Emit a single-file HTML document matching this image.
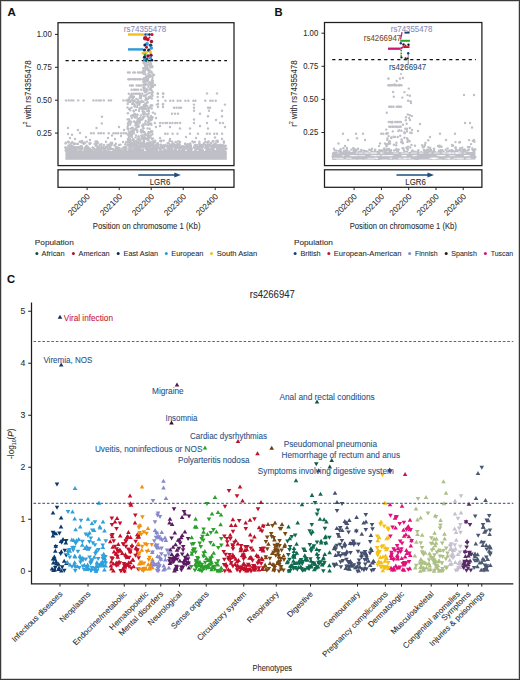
<!DOCTYPE html>
<html><head><meta charset="utf-8"><style>
html,body{margin:0;padding:0;background:#fff;}
svg{display:block;}
text{font-family:"Liberation Sans", sans-serif; stroke-width:0.08px;}
</style></head><body>
<svg width="520" height="680" viewBox="0 0 520 680" font-family="'Liberation Sans', sans-serif"><rect x="0" y="0" width="520" height="680" fill="#fff"/>
<text x="7.40" y="16.40" font-size="11.5" fill="#111" stroke="#111" font-weight="bold">A</text>
<text x="274.60" y="16.40" font-size="11.2" fill="#111" stroke="#111" font-weight="bold">B</text>
<text x="7.00" y="283.20" font-size="11.2" fill="#111" stroke="#111" font-weight="bold">C</text>
<rect x="65.4" y="151.0" width="161.4" height="8.8" fill="#bfbfc7"/>
<circle cx="85.4" cy="147.3" r="1.2" fill="#bfbfc7"/>
<circle cx="105.5" cy="146.9" r="1.2" fill="#bfbfc7"/>
<circle cx="98.5" cy="148.3" r="1.2" fill="#bfbfc7"/>
<circle cx="69.1" cy="149.0" r="1.2" fill="#bfbfc7"/>
<circle cx="67.8" cy="148.7" r="1.2" fill="#bfbfc7"/>
<circle cx="69.8" cy="147.0" r="1.2" fill="#bfbfc7"/>
<circle cx="91.6" cy="150.6" r="1.2" fill="#bfbfc7"/>
<circle cx="73.1" cy="147.6" r="1.2" fill="#bfbfc7"/>
<circle cx="104.1" cy="151.2" r="1.2" fill="#bfbfc7"/>
<circle cx="101.0" cy="148.5" r="1.2" fill="#bfbfc7"/>
<circle cx="125.5" cy="146.7" r="1.2" fill="#bfbfc7"/>
<circle cx="118.3" cy="147.9" r="1.2" fill="#bfbfc7"/>
<circle cx="74.4" cy="147.1" r="1.2" fill="#bfbfc7"/>
<circle cx="84.5" cy="150.6" r="1.2" fill="#bfbfc7"/>
<circle cx="76.6" cy="149.4" r="1.2" fill="#bfbfc7"/>
<circle cx="104.8" cy="148.4" r="1.2" fill="#bfbfc7"/>
<circle cx="99.2" cy="146.8" r="1.2" fill="#bfbfc7"/>
<circle cx="69.2" cy="147.5" r="1.2" fill="#bfbfc7"/>
<circle cx="107.3" cy="148.6" r="1.2" fill="#bfbfc7"/>
<circle cx="84.8" cy="149.4" r="1.2" fill="#bfbfc7"/>
<circle cx="93.4" cy="148.0" r="1.2" fill="#bfbfc7"/>
<circle cx="114.4" cy="150.0" r="1.2" fill="#bfbfc7"/>
<circle cx="80.5" cy="149.4" r="1.2" fill="#bfbfc7"/>
<circle cx="97.8" cy="150.9" r="1.2" fill="#bfbfc7"/>
<circle cx="110.4" cy="147.9" r="1.2" fill="#bfbfc7"/>
<circle cx="125.8" cy="147.1" r="1.2" fill="#bfbfc7"/>
<circle cx="91.2" cy="150.3" r="1.2" fill="#bfbfc7"/>
<circle cx="74.8" cy="148.9" r="1.2" fill="#bfbfc7"/>
<circle cx="67.9" cy="149.8" r="1.2" fill="#bfbfc7"/>
<circle cx="112.5" cy="149.4" r="1.2" fill="#bfbfc7"/>
<circle cx="119.3" cy="148.1" r="1.2" fill="#bfbfc7"/>
<circle cx="108.3" cy="149.5" r="1.2" fill="#bfbfc7"/>
<circle cx="101.2" cy="148.8" r="1.2" fill="#bfbfc7"/>
<circle cx="117.2" cy="151.2" r="1.2" fill="#bfbfc7"/>
<circle cx="94.7" cy="149.8" r="1.2" fill="#bfbfc7"/>
<circle cx="69.2" cy="150.0" r="1.2" fill="#bfbfc7"/>
<circle cx="105.3" cy="151.5" r="1.2" fill="#bfbfc7"/>
<circle cx="116.0" cy="147.9" r="1.2" fill="#bfbfc7"/>
<circle cx="89.2" cy="149.8" r="1.2" fill="#bfbfc7"/>
<circle cx="66.9" cy="148.8" r="1.2" fill="#bfbfc7"/>
<circle cx="75.8" cy="147.1" r="1.2" fill="#bfbfc7"/>
<circle cx="69.1" cy="150.3" r="1.2" fill="#bfbfc7"/>
<circle cx="73.5" cy="147.7" r="1.2" fill="#bfbfc7"/>
<circle cx="89.5" cy="150.9" r="1.2" fill="#bfbfc7"/>
<circle cx="70.5" cy="148.7" r="1.2" fill="#bfbfc7"/>
<circle cx="99.3" cy="150.9" r="1.2" fill="#bfbfc7"/>
<circle cx="115.9" cy="150.8" r="1.2" fill="#bfbfc7"/>
<circle cx="82.6" cy="148.6" r="1.2" fill="#bfbfc7"/>
<circle cx="87.6" cy="150.9" r="1.2" fill="#bfbfc7"/>
<circle cx="124.4" cy="147.3" r="1.2" fill="#bfbfc7"/>
<circle cx="76.3" cy="147.7" r="1.2" fill="#bfbfc7"/>
<circle cx="79.9" cy="148.9" r="1.2" fill="#bfbfc7"/>
<circle cx="101.7" cy="147.8" r="1.2" fill="#bfbfc7"/>
<circle cx="65.8" cy="148.6" r="1.2" fill="#bfbfc7"/>
<circle cx="88.2" cy="149.3" r="1.2" fill="#bfbfc7"/>
<circle cx="124.1" cy="150.0" r="1.2" fill="#bfbfc7"/>
<circle cx="97.2" cy="149.6" r="1.2" fill="#bfbfc7"/>
<circle cx="107.1" cy="146.8" r="1.2" fill="#bfbfc7"/>
<circle cx="120.8" cy="150.4" r="1.2" fill="#bfbfc7"/>
<circle cx="119.3" cy="150.5" r="1.2" fill="#bfbfc7"/>
<circle cx="89.6" cy="148.5" r="1.2" fill="#bfbfc7"/>
<circle cx="71.9" cy="149.7" r="1.2" fill="#bfbfc7"/>
<circle cx="69.3" cy="146.8" r="1.2" fill="#bfbfc7"/>
<circle cx="78.3" cy="147.3" r="1.2" fill="#bfbfc7"/>
<circle cx="86.4" cy="146.8" r="1.2" fill="#bfbfc7"/>
<circle cx="65.5" cy="147.3" r="1.2" fill="#bfbfc7"/>
<circle cx="71.7" cy="148.3" r="1.2" fill="#bfbfc7"/>
<circle cx="67.1" cy="150.9" r="1.2" fill="#bfbfc7"/>
<circle cx="103.3" cy="147.2" r="1.2" fill="#bfbfc7"/>
<circle cx="81.0" cy="148.2" r="1.2" fill="#bfbfc7"/>
<circle cx="87.9" cy="147.1" r="1.2" fill="#bfbfc7"/>
<circle cx="117.7" cy="151.5" r="1.2" fill="#bfbfc7"/>
<circle cx="94.2" cy="148.9" r="1.2" fill="#bfbfc7"/>
<circle cx="70.8" cy="147.0" r="1.2" fill="#bfbfc7"/>
<circle cx="86.6" cy="147.8" r="1.2" fill="#bfbfc7"/>
<circle cx="116.5" cy="147.3" r="1.2" fill="#bfbfc7"/>
<circle cx="66.9" cy="151.3" r="1.2" fill="#bfbfc7"/>
<circle cx="98.0" cy="147.2" r="1.2" fill="#bfbfc7"/>
<circle cx="98.9" cy="146.6" r="1.2" fill="#bfbfc7"/>
<circle cx="98.0" cy="151.4" r="1.2" fill="#bfbfc7"/>
<circle cx="118.6" cy="150.0" r="1.2" fill="#bfbfc7"/>
<circle cx="81.6" cy="148.3" r="1.2" fill="#bfbfc7"/>
<circle cx="75.8" cy="150.4" r="1.2" fill="#bfbfc7"/>
<circle cx="98.3" cy="150.4" r="1.2" fill="#bfbfc7"/>
<circle cx="85.8" cy="147.6" r="1.2" fill="#bfbfc7"/>
<circle cx="115.4" cy="151.4" r="1.2" fill="#bfbfc7"/>
<circle cx="117.9" cy="150.5" r="1.2" fill="#bfbfc7"/>
<circle cx="115.8" cy="150.2" r="1.2" fill="#bfbfc7"/>
<circle cx="79.4" cy="149.1" r="1.2" fill="#bfbfc7"/>
<circle cx="87.4" cy="146.6" r="1.2" fill="#bfbfc7"/>
<circle cx="67.2" cy="147.9" r="1.2" fill="#bfbfc7"/>
<circle cx="81.4" cy="150.0" r="1.2" fill="#bfbfc7"/>
<circle cx="124.3" cy="148.7" r="1.2" fill="#bfbfc7"/>
<circle cx="123.1" cy="151.4" r="1.2" fill="#bfbfc7"/>
<circle cx="124.2" cy="148.3" r="1.2" fill="#bfbfc7"/>
<circle cx="79.1" cy="147.6" r="1.2" fill="#bfbfc7"/>
<circle cx="77.6" cy="147.5" r="1.2" fill="#bfbfc7"/>
<circle cx="103.9" cy="151.0" r="1.2" fill="#bfbfc7"/>
<circle cx="117.2" cy="148.9" r="1.2" fill="#bfbfc7"/>
<circle cx="105.7" cy="150.5" r="1.2" fill="#bfbfc7"/>
<circle cx="70.7" cy="149.8" r="1.2" fill="#bfbfc7"/>
<circle cx="121.5" cy="150.4" r="1.2" fill="#bfbfc7"/>
<circle cx="111.6" cy="148.9" r="1.2" fill="#bfbfc7"/>
<circle cx="76.5" cy="150.4" r="1.2" fill="#bfbfc7"/>
<circle cx="85.9" cy="150.5" r="1.2" fill="#bfbfc7"/>
<circle cx="125.3" cy="148.5" r="1.2" fill="#bfbfc7"/>
<circle cx="90.2" cy="151.2" r="1.2" fill="#bfbfc7"/>
<circle cx="110.1" cy="147.4" r="1.2" fill="#bfbfc7"/>
<circle cx="73.3" cy="147.3" r="1.2" fill="#bfbfc7"/>
<circle cx="121.1" cy="150.5" r="1.2" fill="#bfbfc7"/>
<circle cx="74.5" cy="150.6" r="1.2" fill="#bfbfc7"/>
<circle cx="125.8" cy="149.8" r="1.2" fill="#bfbfc7"/>
<circle cx="87.1" cy="149.2" r="1.2" fill="#bfbfc7"/>
<circle cx="73.6" cy="146.6" r="1.2" fill="#bfbfc7"/>
<circle cx="125.2" cy="149.7" r="1.2" fill="#bfbfc7"/>
<circle cx="97.9" cy="151.2" r="1.2" fill="#bfbfc7"/>
<circle cx="92.2" cy="150.9" r="1.2" fill="#bfbfc7"/>
<circle cx="116.3" cy="147.6" r="1.2" fill="#bfbfc7"/>
<circle cx="81.0" cy="148.0" r="1.2" fill="#bfbfc7"/>
<circle cx="80.3" cy="149.4" r="1.2" fill="#bfbfc7"/>
<circle cx="81.5" cy="148.6" r="1.2" fill="#bfbfc7"/>
<circle cx="73.6" cy="151.1" r="1.2" fill="#bfbfc7"/>
<circle cx="87.3" cy="148.8" r="1.2" fill="#bfbfc7"/>
<circle cx="101.4" cy="151.0" r="1.2" fill="#bfbfc7"/>
<circle cx="91.4" cy="151.1" r="1.2" fill="#bfbfc7"/>
<circle cx="96.4" cy="149.2" r="1.2" fill="#bfbfc7"/>
<circle cx="97.7" cy="146.6" r="1.2" fill="#bfbfc7"/>
<circle cx="92.6" cy="147.4" r="1.2" fill="#bfbfc7"/>
<circle cx="65.7" cy="150.5" r="1.2" fill="#bfbfc7"/>
<circle cx="76.1" cy="148.9" r="1.2" fill="#bfbfc7"/>
<circle cx="110.1" cy="149.3" r="1.2" fill="#bfbfc7"/>
<circle cx="85.5" cy="149.1" r="1.2" fill="#bfbfc7"/>
<circle cx="99.7" cy="150.4" r="1.2" fill="#bfbfc7"/>
<circle cx="72.0" cy="149.3" r="1.2" fill="#bfbfc7"/>
<circle cx="80.8" cy="147.9" r="1.2" fill="#bfbfc7"/>
<circle cx="113.0" cy="149.0" r="1.2" fill="#bfbfc7"/>
<circle cx="100.0" cy="150.3" r="1.2" fill="#bfbfc7"/>
<circle cx="121.6" cy="148.7" r="1.2" fill="#bfbfc7"/>
<circle cx="103.2" cy="149.0" r="1.2" fill="#bfbfc7"/>
<circle cx="97.0" cy="150.0" r="1.2" fill="#bfbfc7"/>
<circle cx="93.3" cy="149.2" r="1.2" fill="#bfbfc7"/>
<circle cx="94.9" cy="151.2" r="1.2" fill="#bfbfc7"/>
<circle cx="108.5" cy="150.9" r="1.2" fill="#bfbfc7"/>
<circle cx="123.4" cy="147.8" r="1.2" fill="#bfbfc7"/>
<circle cx="99.9" cy="151.2" r="1.2" fill="#bfbfc7"/>
<circle cx="117.2" cy="147.2" r="1.2" fill="#bfbfc7"/>
<circle cx="73.0" cy="148.7" r="1.2" fill="#bfbfc7"/>
<circle cx="70.0" cy="147.7" r="1.2" fill="#bfbfc7"/>
<circle cx="70.0" cy="149.8" r="1.2" fill="#bfbfc7"/>
<circle cx="113.7" cy="151.0" r="1.2" fill="#bfbfc7"/>
<circle cx="75.0" cy="150.1" r="1.2" fill="#bfbfc7"/>
<circle cx="106.1" cy="147.2" r="1.2" fill="#bfbfc7"/>
<circle cx="119.8" cy="151.3" r="1.2" fill="#bfbfc7"/>
<circle cx="79.0" cy="151.3" r="1.2" fill="#bfbfc7"/>
<circle cx="90.0" cy="148.9" r="1.2" fill="#bfbfc7"/>
<circle cx="126.4" cy="150.7" r="1.2" fill="#bfbfc7"/>
<circle cx="75.4" cy="148.7" r="1.2" fill="#bfbfc7"/>
<circle cx="97.2" cy="148.2" r="1.2" fill="#bfbfc7"/>
<circle cx="77.5" cy="148.1" r="1.2" fill="#bfbfc7"/>
<circle cx="109.9" cy="146.6" r="1.2" fill="#bfbfc7"/>
<circle cx="99.6" cy="148.7" r="1.2" fill="#bfbfc7"/>
<circle cx="66.6" cy="148.2" r="1.2" fill="#bfbfc7"/>
<circle cx="103.9" cy="149.1" r="1.2" fill="#bfbfc7"/>
<circle cx="69.5" cy="151.4" r="1.2" fill="#bfbfc7"/>
<circle cx="114.0" cy="151.4" r="1.2" fill="#bfbfc7"/>
<circle cx="71.9" cy="147.8" r="1.2" fill="#bfbfc7"/>
<circle cx="67.9" cy="150.4" r="1.2" fill="#bfbfc7"/>
<circle cx="82.1" cy="147.1" r="1.2" fill="#bfbfc7"/>
<circle cx="91.5" cy="151.1" r="1.2" fill="#bfbfc7"/>
<circle cx="115.9" cy="147.8" r="1.2" fill="#bfbfc7"/>
<circle cx="74.7" cy="151.1" r="1.2" fill="#bfbfc7"/>
<circle cx="100.6" cy="150.0" r="1.2" fill="#bfbfc7"/>
<circle cx="71.0" cy="146.8" r="1.2" fill="#bfbfc7"/>
<circle cx="107.8" cy="148.6" r="1.2" fill="#bfbfc7"/>
<circle cx="70.0" cy="151.2" r="1.2" fill="#bfbfc7"/>
<circle cx="104.5" cy="150.5" r="1.2" fill="#bfbfc7"/>
<circle cx="70.7" cy="150.8" r="1.2" fill="#bfbfc7"/>
<circle cx="69.6" cy="150.8" r="1.2" fill="#bfbfc7"/>
<circle cx="93.4" cy="148.2" r="1.2" fill="#bfbfc7"/>
<circle cx="99.5" cy="151.1" r="1.2" fill="#bfbfc7"/>
<circle cx="82.0" cy="142.1" r="1.2" fill="#bfbfc7"/>
<circle cx="97.9" cy="142.7" r="1.2" fill="#bfbfc7"/>
<circle cx="72.2" cy="142.3" r="1.2" fill="#bfbfc7"/>
<circle cx="68.6" cy="142.5" r="1.2" fill="#bfbfc7"/>
<circle cx="84.7" cy="143.0" r="1.2" fill="#bfbfc7"/>
<circle cx="112.2" cy="142.9" r="1.2" fill="#bfbfc7"/>
<circle cx="96.3" cy="142.4" r="1.2" fill="#bfbfc7"/>
<circle cx="86.8" cy="141.6" r="1.2" fill="#bfbfc7"/>
<circle cx="80.9" cy="141.6" r="1.2" fill="#bfbfc7"/>
<circle cx="110.6" cy="144.3" r="1.2" fill="#bfbfc7"/>
<circle cx="77.2" cy="143.9" r="1.2" fill="#bfbfc7"/>
<circle cx="123.0" cy="142.0" r="1.2" fill="#bfbfc7"/>
<circle cx="115.9" cy="143.7" r="1.2" fill="#bfbfc7"/>
<circle cx="95.9" cy="145.7" r="1.2" fill="#bfbfc7"/>
<circle cx="89.7" cy="144.0" r="1.2" fill="#bfbfc7"/>
<circle cx="107.8" cy="146.4" r="1.2" fill="#bfbfc7"/>
<circle cx="86.6" cy="145.7" r="1.2" fill="#bfbfc7"/>
<circle cx="109.0" cy="144.7" r="1.2" fill="#bfbfc7"/>
<circle cx="90.4" cy="143.2" r="1.2" fill="#bfbfc7"/>
<circle cx="68.8" cy="142.1" r="1.2" fill="#bfbfc7"/>
<circle cx="69.8" cy="145.2" r="1.2" fill="#bfbfc7"/>
<circle cx="81.2" cy="142.3" r="1.2" fill="#bfbfc7"/>
<circle cx="70.7" cy="145.7" r="1.2" fill="#bfbfc7"/>
<circle cx="119.0" cy="144.9" r="1.2" fill="#bfbfc7"/>
<circle cx="82.8" cy="142.7" r="1.2" fill="#bfbfc7"/>
<circle cx="83.5" cy="143.8" r="1.2" fill="#bfbfc7"/>
<circle cx="75.2" cy="143.7" r="1.2" fill="#bfbfc7"/>
<circle cx="81.7" cy="146.3" r="1.2" fill="#bfbfc7"/>
<circle cx="125.3" cy="144.2" r="1.2" fill="#bfbfc7"/>
<circle cx="80.5" cy="146.3" r="1.2" fill="#bfbfc7"/>
<circle cx="84.5" cy="143.3" r="1.2" fill="#bfbfc7"/>
<circle cx="65.6" cy="143.4" r="1.2" fill="#bfbfc7"/>
<circle cx="94.7" cy="144.0" r="1.2" fill="#bfbfc7"/>
<circle cx="77.9" cy="144.0" r="1.2" fill="#bfbfc7"/>
<circle cx="65.8" cy="142.8" r="1.2" fill="#bfbfc7"/>
<circle cx="71.0" cy="143.5" r="1.2" fill="#bfbfc7"/>
<circle cx="68.1" cy="141.6" r="1.2" fill="#bfbfc7"/>
<circle cx="84.2" cy="142.7" r="1.2" fill="#bfbfc7"/>
<circle cx="101.5" cy="144.1" r="1.2" fill="#bfbfc7"/>
<circle cx="111.7" cy="144.8" r="1.2" fill="#bfbfc7"/>
<circle cx="109.5" cy="145.9" r="1.2" fill="#bfbfc7"/>
<circle cx="89.5" cy="143.1" r="1.2" fill="#bfbfc7"/>
<circle cx="126.1" cy="142.2" r="1.2" fill="#bfbfc7"/>
<circle cx="110.0" cy="144.7" r="1.2" fill="#bfbfc7"/>
<circle cx="68.2" cy="145.7" r="1.2" fill="#bfbfc7"/>
<circle cx="120.4" cy="144.6" r="1.2" fill="#bfbfc7"/>
<circle cx="110.6" cy="145.6" r="1.2" fill="#bfbfc7"/>
<circle cx="74.1" cy="144.1" r="1.2" fill="#bfbfc7"/>
<circle cx="96.5" cy="145.7" r="1.2" fill="#bfbfc7"/>
<circle cx="115.0" cy="145.6" r="1.2" fill="#bfbfc7"/>
<circle cx="101.4" cy="146.0" r="1.2" fill="#bfbfc7"/>
<circle cx="107.5" cy="145.0" r="1.2" fill="#bfbfc7"/>
<circle cx="79.6" cy="141.7" r="1.2" fill="#bfbfc7"/>
<circle cx="73.7" cy="143.3" r="1.2" fill="#bfbfc7"/>
<circle cx="72.0" cy="145.7" r="1.2" fill="#bfbfc7"/>
<circle cx="99.8" cy="144.6" r="1.2" fill="#bfbfc7"/>
<circle cx="104.0" cy="144.9" r="1.2" fill="#bfbfc7"/>
<circle cx="95.6" cy="141.5" r="1.2" fill="#bfbfc7"/>
<circle cx="114.6" cy="145.2" r="1.2" fill="#bfbfc7"/>
<circle cx="96.4" cy="144.2" r="1.2" fill="#bfbfc7"/>
<circle cx="106.0" cy="141.8" r="1.2" fill="#bfbfc7"/>
<circle cx="110.8" cy="142.8" r="1.2" fill="#bfbfc7"/>
<circle cx="158.5" cy="146.7" r="1.2" fill="#bfbfc7"/>
<circle cx="206.6" cy="146.3" r="1.2" fill="#bfbfc7"/>
<circle cx="207.4" cy="151.3" r="1.2" fill="#bfbfc7"/>
<circle cx="189.3" cy="147.5" r="1.2" fill="#bfbfc7"/>
<circle cx="188.2" cy="149.4" r="1.2" fill="#bfbfc7"/>
<circle cx="209.4" cy="149.0" r="1.2" fill="#bfbfc7"/>
<circle cx="200.2" cy="145.5" r="1.2" fill="#bfbfc7"/>
<circle cx="163.8" cy="146.7" r="1.2" fill="#bfbfc7"/>
<circle cx="207.6" cy="147.0" r="1.2" fill="#bfbfc7"/>
<circle cx="194.7" cy="145.1" r="1.2" fill="#bfbfc7"/>
<circle cx="157.5" cy="146.7" r="1.2" fill="#bfbfc7"/>
<circle cx="202.4" cy="149.5" r="1.2" fill="#bfbfc7"/>
<circle cx="202.7" cy="146.9" r="1.2" fill="#bfbfc7"/>
<circle cx="191.0" cy="148.0" r="1.2" fill="#bfbfc7"/>
<circle cx="187.3" cy="145.8" r="1.2" fill="#bfbfc7"/>
<circle cx="218.7" cy="146.3" r="1.2" fill="#bfbfc7"/>
<circle cx="224.9" cy="151.1" r="1.2" fill="#bfbfc7"/>
<circle cx="154.3" cy="148.0" r="1.2" fill="#bfbfc7"/>
<circle cx="213.3" cy="151.3" r="1.2" fill="#bfbfc7"/>
<circle cx="186.0" cy="146.7" r="1.2" fill="#bfbfc7"/>
<circle cx="168.4" cy="151.1" r="1.2" fill="#bfbfc7"/>
<circle cx="168.5" cy="148.8" r="1.2" fill="#bfbfc7"/>
<circle cx="163.4" cy="148.4" r="1.2" fill="#bfbfc7"/>
<circle cx="223.0" cy="145.9" r="1.2" fill="#bfbfc7"/>
<circle cx="213.3" cy="148.3" r="1.2" fill="#bfbfc7"/>
<circle cx="218.2" cy="149.6" r="1.2" fill="#bfbfc7"/>
<circle cx="170.0" cy="150.8" r="1.2" fill="#bfbfc7"/>
<circle cx="188.7" cy="145.2" r="1.2" fill="#bfbfc7"/>
<circle cx="153.3" cy="148.2" r="1.2" fill="#bfbfc7"/>
<circle cx="186.1" cy="147.0" r="1.2" fill="#bfbfc7"/>
<circle cx="163.3" cy="147.2" r="1.2" fill="#bfbfc7"/>
<circle cx="176.2" cy="150.5" r="1.2" fill="#bfbfc7"/>
<circle cx="153.1" cy="149.9" r="1.2" fill="#bfbfc7"/>
<circle cx="214.7" cy="145.8" r="1.2" fill="#bfbfc7"/>
<circle cx="221.1" cy="149.6" r="1.2" fill="#bfbfc7"/>
<circle cx="219.3" cy="146.9" r="1.2" fill="#bfbfc7"/>
<circle cx="180.4" cy="147.6" r="1.2" fill="#bfbfc7"/>
<circle cx="226.4" cy="148.8" r="1.2" fill="#bfbfc7"/>
<circle cx="179.5" cy="147.8" r="1.2" fill="#bfbfc7"/>
<circle cx="173.2" cy="145.3" r="1.2" fill="#bfbfc7"/>
<circle cx="160.5" cy="150.4" r="1.2" fill="#bfbfc7"/>
<circle cx="174.0" cy="151.1" r="1.2" fill="#bfbfc7"/>
<circle cx="171.3" cy="146.7" r="1.2" fill="#bfbfc7"/>
<circle cx="190.6" cy="146.2" r="1.2" fill="#bfbfc7"/>
<circle cx="180.4" cy="151.2" r="1.2" fill="#bfbfc7"/>
<circle cx="218.0" cy="150.3" r="1.2" fill="#bfbfc7"/>
<circle cx="199.4" cy="150.9" r="1.2" fill="#bfbfc7"/>
<circle cx="222.1" cy="148.6" r="1.2" fill="#bfbfc7"/>
<circle cx="205.9" cy="145.3" r="1.2" fill="#bfbfc7"/>
<circle cx="206.8" cy="147.9" r="1.2" fill="#bfbfc7"/>
<circle cx="208.3" cy="149.2" r="1.2" fill="#bfbfc7"/>
<circle cx="174.0" cy="145.3" r="1.2" fill="#bfbfc7"/>
<circle cx="221.1" cy="145.8" r="1.2" fill="#bfbfc7"/>
<circle cx="187.7" cy="147.2" r="1.2" fill="#bfbfc7"/>
<circle cx="174.9" cy="149.8" r="1.2" fill="#bfbfc7"/>
<circle cx="224.8" cy="146.7" r="1.2" fill="#bfbfc7"/>
<circle cx="201.2" cy="147.0" r="1.2" fill="#bfbfc7"/>
<circle cx="194.0" cy="147.6" r="1.2" fill="#bfbfc7"/>
<circle cx="165.3" cy="146.1" r="1.2" fill="#bfbfc7"/>
<circle cx="168.3" cy="150.9" r="1.2" fill="#bfbfc7"/>
<circle cx="189.5" cy="146.4" r="1.2" fill="#bfbfc7"/>
<circle cx="219.6" cy="151.5" r="1.2" fill="#bfbfc7"/>
<circle cx="186.1" cy="145.9" r="1.2" fill="#bfbfc7"/>
<circle cx="167.1" cy="145.6" r="1.2" fill="#bfbfc7"/>
<circle cx="178.1" cy="145.6" r="1.2" fill="#bfbfc7"/>
<circle cx="170.6" cy="146.7" r="1.2" fill="#bfbfc7"/>
<circle cx="194.9" cy="150.8" r="1.2" fill="#bfbfc7"/>
<circle cx="208.1" cy="147.7" r="1.2" fill="#bfbfc7"/>
<circle cx="183.4" cy="148.4" r="1.2" fill="#bfbfc7"/>
<circle cx="180.7" cy="147.2" r="1.2" fill="#bfbfc7"/>
<circle cx="157.6" cy="146.8" r="1.2" fill="#bfbfc7"/>
<circle cx="224.1" cy="145.8" r="1.2" fill="#bfbfc7"/>
<circle cx="190.0" cy="149.1" r="1.2" fill="#bfbfc7"/>
<circle cx="216.4" cy="146.4" r="1.2" fill="#bfbfc7"/>
<circle cx="172.9" cy="146.6" r="1.2" fill="#bfbfc7"/>
<circle cx="182.4" cy="147.9" r="1.2" fill="#bfbfc7"/>
<circle cx="223.1" cy="150.5" r="1.2" fill="#bfbfc7"/>
<circle cx="217.2" cy="145.1" r="1.2" fill="#bfbfc7"/>
<circle cx="155.4" cy="149.6" r="1.2" fill="#bfbfc7"/>
<circle cx="218.8" cy="148.1" r="1.2" fill="#bfbfc7"/>
<circle cx="196.2" cy="145.0" r="1.2" fill="#bfbfc7"/>
<circle cx="181.8" cy="151.0" r="1.2" fill="#bfbfc7"/>
<circle cx="213.7" cy="150.6" r="1.2" fill="#bfbfc7"/>
<circle cx="224.5" cy="146.6" r="1.2" fill="#bfbfc7"/>
<circle cx="161.0" cy="146.0" r="1.2" fill="#bfbfc7"/>
<circle cx="191.4" cy="149.4" r="1.2" fill="#bfbfc7"/>
<circle cx="222.2" cy="149.7" r="1.2" fill="#bfbfc7"/>
<circle cx="200.6" cy="150.0" r="1.2" fill="#bfbfc7"/>
<circle cx="186.6" cy="148.6" r="1.2" fill="#bfbfc7"/>
<circle cx="155.9" cy="150.1" r="1.2" fill="#bfbfc7"/>
<circle cx="170.1" cy="151.0" r="1.2" fill="#bfbfc7"/>
<circle cx="200.4" cy="147.0" r="1.2" fill="#bfbfc7"/>
<circle cx="162.4" cy="146.6" r="1.2" fill="#bfbfc7"/>
<circle cx="199.8" cy="149.5" r="1.2" fill="#bfbfc7"/>
<circle cx="161.2" cy="145.5" r="1.2" fill="#bfbfc7"/>
<circle cx="191.5" cy="148.8" r="1.2" fill="#bfbfc7"/>
<circle cx="181.5" cy="146.5" r="1.2" fill="#bfbfc7"/>
<circle cx="197.2" cy="145.1" r="1.2" fill="#bfbfc7"/>
<circle cx="175.2" cy="148.0" r="1.2" fill="#bfbfc7"/>
<circle cx="223.5" cy="149.2" r="1.2" fill="#bfbfc7"/>
<circle cx="218.0" cy="148.1" r="1.2" fill="#bfbfc7"/>
<circle cx="170.3" cy="146.6" r="1.2" fill="#bfbfc7"/>
<circle cx="223.6" cy="149.6" r="1.2" fill="#bfbfc7"/>
<circle cx="175.6" cy="145.1" r="1.2" fill="#bfbfc7"/>
<circle cx="189.6" cy="149.4" r="1.2" fill="#bfbfc7"/>
<circle cx="183.9" cy="146.7" r="1.2" fill="#bfbfc7"/>
<circle cx="202.1" cy="151.0" r="1.2" fill="#bfbfc7"/>
<circle cx="169.7" cy="145.2" r="1.2" fill="#bfbfc7"/>
<circle cx="177.8" cy="147.7" r="1.2" fill="#bfbfc7"/>
<circle cx="203.2" cy="146.3" r="1.2" fill="#bfbfc7"/>
<circle cx="211.6" cy="149.8" r="1.2" fill="#bfbfc7"/>
<circle cx="190.1" cy="146.3" r="1.2" fill="#bfbfc7"/>
<circle cx="224.3" cy="147.0" r="1.2" fill="#bfbfc7"/>
<circle cx="213.3" cy="146.5" r="1.2" fill="#bfbfc7"/>
<circle cx="169.3" cy="149.9" r="1.2" fill="#bfbfc7"/>
<circle cx="174.7" cy="151.2" r="1.2" fill="#bfbfc7"/>
<circle cx="189.4" cy="146.2" r="1.2" fill="#bfbfc7"/>
<circle cx="169.4" cy="147.7" r="1.2" fill="#bfbfc7"/>
<circle cx="201.9" cy="151.2" r="1.2" fill="#bfbfc7"/>
<circle cx="163.8" cy="147.6" r="1.2" fill="#bfbfc7"/>
<circle cx="168.7" cy="151.3" r="1.2" fill="#bfbfc7"/>
<circle cx="163.4" cy="145.3" r="1.2" fill="#bfbfc7"/>
<circle cx="157.4" cy="147.6" r="1.2" fill="#bfbfc7"/>
<circle cx="219.0" cy="150.7" r="1.2" fill="#bfbfc7"/>
<circle cx="206.9" cy="151.5" r="1.2" fill="#bfbfc7"/>
<circle cx="221.5" cy="147.1" r="1.2" fill="#bfbfc7"/>
<circle cx="166.6" cy="151.1" r="1.2" fill="#bfbfc7"/>
<circle cx="207.9" cy="145.2" r="1.2" fill="#bfbfc7"/>
<circle cx="201.8" cy="147.5" r="1.2" fill="#bfbfc7"/>
<circle cx="180.5" cy="147.2" r="1.2" fill="#bfbfc7"/>
<circle cx="165.4" cy="145.0" r="1.2" fill="#bfbfc7"/>
<circle cx="173.6" cy="147.3" r="1.2" fill="#bfbfc7"/>
<circle cx="223.2" cy="145.8" r="1.2" fill="#bfbfc7"/>
<circle cx="223.9" cy="146.3" r="1.2" fill="#bfbfc7"/>
<circle cx="179.2" cy="150.3" r="1.2" fill="#bfbfc7"/>
<circle cx="213.4" cy="147.8" r="1.2" fill="#bfbfc7"/>
<circle cx="156.6" cy="148.1" r="1.2" fill="#bfbfc7"/>
<circle cx="180.4" cy="151.0" r="1.2" fill="#bfbfc7"/>
<circle cx="167.2" cy="147.4" r="1.2" fill="#bfbfc7"/>
<circle cx="218.9" cy="145.2" r="1.2" fill="#bfbfc7"/>
<circle cx="183.2" cy="150.3" r="1.2" fill="#bfbfc7"/>
<circle cx="209.4" cy="145.3" r="1.2" fill="#bfbfc7"/>
<circle cx="155.6" cy="145.4" r="1.2" fill="#bfbfc7"/>
<circle cx="220.6" cy="146.7" r="1.2" fill="#bfbfc7"/>
<circle cx="207.9" cy="150.8" r="1.2" fill="#bfbfc7"/>
<circle cx="177.9" cy="146.8" r="1.2" fill="#bfbfc7"/>
<circle cx="223.4" cy="149.0" r="1.2" fill="#bfbfc7"/>
<circle cx="172.3" cy="149.7" r="1.2" fill="#bfbfc7"/>
<circle cx="176.3" cy="146.8" r="1.2" fill="#bfbfc7"/>
<circle cx="153.3" cy="149.9" r="1.2" fill="#bfbfc7"/>
<circle cx="220.4" cy="149.1" r="1.2" fill="#bfbfc7"/>
<circle cx="222.3" cy="145.2" r="1.2" fill="#bfbfc7"/>
<circle cx="170.2" cy="148.1" r="1.2" fill="#bfbfc7"/>
<circle cx="223.3" cy="151.2" r="1.2" fill="#bfbfc7"/>
<circle cx="181.4" cy="146.6" r="1.2" fill="#bfbfc7"/>
<circle cx="184.6" cy="148.2" r="1.2" fill="#bfbfc7"/>
<circle cx="221.2" cy="146.2" r="1.2" fill="#bfbfc7"/>
<circle cx="212.0" cy="149.8" r="1.2" fill="#bfbfc7"/>
<circle cx="213.5" cy="150.0" r="1.2" fill="#bfbfc7"/>
<circle cx="197.6" cy="147.1" r="1.2" fill="#bfbfc7"/>
<circle cx="176.5" cy="147.4" r="1.2" fill="#bfbfc7"/>
<circle cx="210.5" cy="145.5" r="1.2" fill="#bfbfc7"/>
<circle cx="167.5" cy="149.9" r="1.2" fill="#bfbfc7"/>
<circle cx="171.2" cy="145.4" r="1.2" fill="#bfbfc7"/>
<circle cx="155.5" cy="148.6" r="1.2" fill="#bfbfc7"/>
<circle cx="176.9" cy="151.4" r="1.2" fill="#bfbfc7"/>
<circle cx="217.9" cy="151.4" r="1.2" fill="#bfbfc7"/>
<circle cx="172.5" cy="145.5" r="1.2" fill="#bfbfc7"/>
<circle cx="160.1" cy="148.2" r="1.2" fill="#bfbfc7"/>
<circle cx="205.2" cy="147.9" r="1.2" fill="#bfbfc7"/>
<circle cx="170.2" cy="147.7" r="1.2" fill="#bfbfc7"/>
<circle cx="198.6" cy="149.4" r="1.2" fill="#bfbfc7"/>
<circle cx="208.0" cy="150.5" r="1.2" fill="#bfbfc7"/>
<circle cx="201.8" cy="145.8" r="1.2" fill="#bfbfc7"/>
<circle cx="214.8" cy="146.9" r="1.2" fill="#bfbfc7"/>
<circle cx="194.7" cy="147.4" r="1.2" fill="#bfbfc7"/>
<circle cx="207.2" cy="146.3" r="1.2" fill="#bfbfc7"/>
<circle cx="171.2" cy="146.6" r="1.2" fill="#bfbfc7"/>
<circle cx="164.3" cy="150.7" r="1.2" fill="#bfbfc7"/>
<circle cx="195.5" cy="147.1" r="1.2" fill="#bfbfc7"/>
<circle cx="182.1" cy="151.5" r="1.2" fill="#bfbfc7"/>
<circle cx="190.3" cy="146.5" r="1.2" fill="#bfbfc7"/>
<circle cx="212.4" cy="149.2" r="1.2" fill="#bfbfc7"/>
<circle cx="225.8" cy="145.7" r="1.2" fill="#bfbfc7"/>
<circle cx="187.9" cy="150.3" r="1.2" fill="#bfbfc7"/>
<circle cx="214.8" cy="150.9" r="1.2" fill="#bfbfc7"/>
<circle cx="156.0" cy="146.9" r="1.2" fill="#bfbfc7"/>
<circle cx="161.8" cy="146.2" r="1.2" fill="#bfbfc7"/>
<circle cx="224.5" cy="148.8" r="1.2" fill="#bfbfc7"/>
<circle cx="221.4" cy="147.4" r="1.2" fill="#bfbfc7"/>
<circle cx="216.7" cy="147.9" r="1.2" fill="#bfbfc7"/>
<circle cx="172.1" cy="150.1" r="1.2" fill="#bfbfc7"/>
<circle cx="222.5" cy="145.7" r="1.2" fill="#bfbfc7"/>
<circle cx="196.8" cy="149.0" r="1.2" fill="#bfbfc7"/>
<circle cx="169.0" cy="147.4" r="1.2" fill="#bfbfc7"/>
<circle cx="163.4" cy="146.3" r="1.2" fill="#bfbfc7"/>
<circle cx="171.7" cy="148.9" r="1.2" fill="#bfbfc7"/>
<circle cx="200.9" cy="146.3" r="1.2" fill="#bfbfc7"/>
<circle cx="153.8" cy="147.1" r="1.2" fill="#bfbfc7"/>
<circle cx="202.9" cy="146.2" r="1.2" fill="#bfbfc7"/>
<circle cx="175.9" cy="146.3" r="1.2" fill="#bfbfc7"/>
<circle cx="211.5" cy="148.6" r="1.2" fill="#bfbfc7"/>
<circle cx="157.7" cy="145.7" r="1.2" fill="#bfbfc7"/>
<circle cx="182.1" cy="148.6" r="1.2" fill="#bfbfc7"/>
<circle cx="200.0" cy="145.6" r="1.2" fill="#bfbfc7"/>
<circle cx="165.0" cy="149.5" r="1.2" fill="#bfbfc7"/>
<circle cx="183.1" cy="146.8" r="1.2" fill="#bfbfc7"/>
<circle cx="175.6" cy="151.2" r="1.2" fill="#bfbfc7"/>
<circle cx="176.0" cy="148.7" r="1.2" fill="#bfbfc7"/>
<circle cx="179.3" cy="147.7" r="1.2" fill="#bfbfc7"/>
<circle cx="216.5" cy="151.5" r="1.2" fill="#bfbfc7"/>
<circle cx="179.7" cy="146.3" r="1.2" fill="#bfbfc7"/>
<circle cx="206.5" cy="146.3" r="1.2" fill="#bfbfc7"/>
<circle cx="153.4" cy="150.9" r="1.2" fill="#bfbfc7"/>
<circle cx="184.1" cy="150.3" r="1.2" fill="#bfbfc7"/>
<circle cx="182.9" cy="150.7" r="1.2" fill="#bfbfc7"/>
<circle cx="186.9" cy="146.1" r="1.2" fill="#bfbfc7"/>
<circle cx="154.1" cy="148.6" r="1.2" fill="#bfbfc7"/>
<circle cx="200.1" cy="150.9" r="1.2" fill="#bfbfc7"/>
<circle cx="159.5" cy="149.0" r="1.2" fill="#bfbfc7"/>
<circle cx="180.3" cy="148.3" r="1.2" fill="#bfbfc7"/>
<circle cx="163.7" cy="146.8" r="1.2" fill="#bfbfc7"/>
<circle cx="191.3" cy="151.0" r="1.2" fill="#bfbfc7"/>
<circle cx="161.0" cy="148.2" r="1.2" fill="#bfbfc7"/>
<circle cx="212.2" cy="151.3" r="1.2" fill="#bfbfc7"/>
<circle cx="167.5" cy="145.8" r="1.2" fill="#bfbfc7"/>
<circle cx="222.3" cy="151.3" r="1.2" fill="#bfbfc7"/>
<circle cx="188.5" cy="145.3" r="1.2" fill="#bfbfc7"/>
<circle cx="221.1" cy="147.5" r="1.2" fill="#bfbfc7"/>
<circle cx="219.5" cy="149.0" r="1.2" fill="#bfbfc7"/>
<circle cx="213.6" cy="146.0" r="1.2" fill="#bfbfc7"/>
<circle cx="210.8" cy="146.4" r="1.2" fill="#bfbfc7"/>
<circle cx="182.7" cy="150.5" r="1.2" fill="#bfbfc7"/>
<circle cx="213.9" cy="146.2" r="1.2" fill="#bfbfc7"/>
<circle cx="169.0" cy="147.6" r="1.2" fill="#bfbfc7"/>
<circle cx="191.1" cy="147.5" r="1.2" fill="#bfbfc7"/>
<circle cx="162.0" cy="146.6" r="1.2" fill="#bfbfc7"/>
<circle cx="206.3" cy="150.8" r="1.2" fill="#bfbfc7"/>
<circle cx="156.0" cy="148.7" r="1.2" fill="#bfbfc7"/>
<circle cx="208.7" cy="145.2" r="1.2" fill="#bfbfc7"/>
<circle cx="214.6" cy="145.8" r="1.2" fill="#bfbfc7"/>
<circle cx="197.1" cy="148.6" r="1.2" fill="#bfbfc7"/>
<circle cx="199.1" cy="147.0" r="1.2" fill="#bfbfc7"/>
<circle cx="183.9" cy="148.8" r="1.2" fill="#bfbfc7"/>
<circle cx="184.3" cy="149.3" r="1.2" fill="#bfbfc7"/>
<circle cx="185.8" cy="147.8" r="1.2" fill="#bfbfc7"/>
<circle cx="154.7" cy="149.0" r="1.2" fill="#bfbfc7"/>
<circle cx="189.0" cy="146.5" r="1.2" fill="#bfbfc7"/>
<circle cx="209.1" cy="150.1" r="1.2" fill="#bfbfc7"/>
<circle cx="186.7" cy="146.2" r="1.2" fill="#bfbfc7"/>
<circle cx="187.8" cy="145.7" r="1.2" fill="#bfbfc7"/>
<circle cx="162.4" cy="147.8" r="1.2" fill="#bfbfc7"/>
<circle cx="159.7" cy="147.9" r="1.2" fill="#bfbfc7"/>
<circle cx="190.5" cy="145.3" r="1.2" fill="#bfbfc7"/>
<circle cx="199.8" cy="145.5" r="1.2" fill="#bfbfc7"/>
<circle cx="206.9" cy="150.1" r="1.2" fill="#bfbfc7"/>
<circle cx="190.6" cy="145.4" r="1.2" fill="#bfbfc7"/>
<circle cx="190.0" cy="147.5" r="1.2" fill="#bfbfc7"/>
<circle cx="222.9" cy="145.9" r="1.2" fill="#bfbfc7"/>
<circle cx="216.0" cy="151.5" r="1.2" fill="#bfbfc7"/>
<circle cx="206.8" cy="150.3" r="1.2" fill="#bfbfc7"/>
<circle cx="167.2" cy="151.4" r="1.2" fill="#bfbfc7"/>
<circle cx="189.2" cy="151.2" r="1.2" fill="#bfbfc7"/>
<circle cx="220.3" cy="146.1" r="1.2" fill="#bfbfc7"/>
<circle cx="210.9" cy="151.0" r="1.2" fill="#bfbfc7"/>
<circle cx="157.8" cy="147.3" r="1.2" fill="#bfbfc7"/>
<circle cx="208.6" cy="146.0" r="1.2" fill="#bfbfc7"/>
<circle cx="218.9" cy="146.8" r="1.2" fill="#bfbfc7"/>
<circle cx="212.9" cy="145.9" r="1.2" fill="#bfbfc7"/>
<circle cx="189.9" cy="151.0" r="1.2" fill="#bfbfc7"/>
<circle cx="168.3" cy="146.7" r="1.2" fill="#bfbfc7"/>
<circle cx="190.2" cy="147.1" r="1.2" fill="#bfbfc7"/>
<circle cx="155.7" cy="146.2" r="1.2" fill="#bfbfc7"/>
<circle cx="164.9" cy="151.1" r="1.2" fill="#bfbfc7"/>
<circle cx="203.0" cy="150.8" r="1.2" fill="#bfbfc7"/>
<circle cx="165.4" cy="150.1" r="1.2" fill="#bfbfc7"/>
<circle cx="161.5" cy="148.4" r="1.2" fill="#bfbfc7"/>
<circle cx="199.8" cy="147.3" r="1.2" fill="#bfbfc7"/>
<circle cx="217.2" cy="148.6" r="1.2" fill="#bfbfc7"/>
<circle cx="195.6" cy="150.7" r="1.2" fill="#bfbfc7"/>
<circle cx="160.7" cy="151.5" r="1.2" fill="#bfbfc7"/>
<circle cx="199.3" cy="147.6" r="1.2" fill="#bfbfc7"/>
<circle cx="211.6" cy="146.7" r="1.2" fill="#bfbfc7"/>
<circle cx="225.8" cy="148.8" r="1.2" fill="#bfbfc7"/>
<circle cx="179.5" cy="150.0" r="1.2" fill="#bfbfc7"/>
<circle cx="185.5" cy="146.1" r="1.2" fill="#bfbfc7"/>
<circle cx="207.7" cy="145.3" r="1.2" fill="#bfbfc7"/>
<circle cx="213.3" cy="146.6" r="1.2" fill="#bfbfc7"/>
<circle cx="200.0" cy="151.4" r="1.2" fill="#bfbfc7"/>
<circle cx="196.1" cy="149.3" r="1.2" fill="#bfbfc7"/>
<circle cx="176.0" cy="145.0" r="1.2" fill="#bfbfc7"/>
<circle cx="155.5" cy="146.0" r="1.2" fill="#bfbfc7"/>
<circle cx="198.3" cy="147.8" r="1.2" fill="#bfbfc7"/>
<circle cx="190.7" cy="150.8" r="1.2" fill="#bfbfc7"/>
<circle cx="162.7" cy="146.5" r="1.2" fill="#bfbfc7"/>
<circle cx="201.0" cy="145.1" r="1.2" fill="#bfbfc7"/>
<circle cx="153.2" cy="147.3" r="1.2" fill="#bfbfc7"/>
<circle cx="160.8" cy="147.3" r="1.2" fill="#bfbfc7"/>
<circle cx="169.5" cy="148.8" r="1.2" fill="#bfbfc7"/>
<circle cx="196.3" cy="146.3" r="1.2" fill="#bfbfc7"/>
<circle cx="198.9" cy="148.1" r="1.2" fill="#bfbfc7"/>
<circle cx="162.9" cy="151.1" r="1.2" fill="#bfbfc7"/>
<circle cx="170.9" cy="146.0" r="1.2" fill="#bfbfc7"/>
<circle cx="160.0" cy="149.1" r="1.2" fill="#bfbfc7"/>
<circle cx="217.0" cy="150.1" r="1.2" fill="#bfbfc7"/>
<circle cx="182.5" cy="146.7" r="1.2" fill="#bfbfc7"/>
<circle cx="153.8" cy="149.2" r="1.2" fill="#bfbfc7"/>
<circle cx="194.3" cy="147.3" r="1.2" fill="#bfbfc7"/>
<circle cx="200.5" cy="147.9" r="1.2" fill="#bfbfc7"/>
<circle cx="221.9" cy="149.8" r="1.2" fill="#bfbfc7"/>
<circle cx="171.3" cy="150.9" r="1.2" fill="#bfbfc7"/>
<circle cx="156.2" cy="148.5" r="1.2" fill="#bfbfc7"/>
<circle cx="182.8" cy="146.5" r="1.2" fill="#bfbfc7"/>
<circle cx="157.3" cy="150.1" r="1.2" fill="#bfbfc7"/>
<circle cx="153.9" cy="148.6" r="1.2" fill="#bfbfc7"/>
<circle cx="222.2" cy="145.9" r="1.2" fill="#bfbfc7"/>
<circle cx="167.7" cy="143.2" r="1.2" fill="#bfbfc7"/>
<circle cx="190.3" cy="143.4" r="1.2" fill="#bfbfc7"/>
<circle cx="212.8" cy="141.3" r="1.2" fill="#bfbfc7"/>
<circle cx="175.7" cy="141.9" r="1.2" fill="#bfbfc7"/>
<circle cx="156.6" cy="144.5" r="1.2" fill="#bfbfc7"/>
<circle cx="210.5" cy="143.7" r="1.2" fill="#bfbfc7"/>
<circle cx="153.5" cy="144.3" r="1.2" fill="#bfbfc7"/>
<circle cx="207.8" cy="142.6" r="1.2" fill="#bfbfc7"/>
<circle cx="207.5" cy="142.5" r="1.2" fill="#bfbfc7"/>
<circle cx="169.6" cy="141.0" r="1.2" fill="#bfbfc7"/>
<circle cx="170.1" cy="140.7" r="1.2" fill="#bfbfc7"/>
<circle cx="177.7" cy="143.9" r="1.2" fill="#bfbfc7"/>
<circle cx="204.1" cy="144.3" r="1.2" fill="#bfbfc7"/>
<circle cx="205.3" cy="141.7" r="1.2" fill="#bfbfc7"/>
<circle cx="193.7" cy="142.5" r="1.2" fill="#bfbfc7"/>
<circle cx="211.0" cy="142.9" r="1.2" fill="#bfbfc7"/>
<circle cx="172.5" cy="143.4" r="1.2" fill="#bfbfc7"/>
<circle cx="223.9" cy="141.5" r="1.2" fill="#bfbfc7"/>
<circle cx="217.7" cy="140.6" r="1.2" fill="#bfbfc7"/>
<circle cx="172.1" cy="141.6" r="1.2" fill="#bfbfc7"/>
<circle cx="207.7" cy="144.8" r="1.2" fill="#bfbfc7"/>
<circle cx="207.8" cy="142.0" r="1.2" fill="#bfbfc7"/>
<circle cx="217.7" cy="142.0" r="1.2" fill="#bfbfc7"/>
<circle cx="170.6" cy="144.6" r="1.2" fill="#bfbfc7"/>
<circle cx="199.4" cy="143.6" r="1.2" fill="#bfbfc7"/>
<circle cx="201.9" cy="144.9" r="1.2" fill="#bfbfc7"/>
<circle cx="187.5" cy="144.3" r="1.2" fill="#bfbfc7"/>
<circle cx="204.3" cy="144.4" r="1.2" fill="#bfbfc7"/>
<circle cx="185.1" cy="143.8" r="1.2" fill="#bfbfc7"/>
<circle cx="194.9" cy="141.9" r="1.2" fill="#bfbfc7"/>
<circle cx="168.6" cy="143.3" r="1.2" fill="#bfbfc7"/>
<circle cx="158.7" cy="144.6" r="1.2" fill="#bfbfc7"/>
<circle cx="163.6" cy="140.6" r="1.2" fill="#bfbfc7"/>
<circle cx="160.8" cy="144.7" r="1.2" fill="#bfbfc7"/>
<circle cx="178.3" cy="141.1" r="1.2" fill="#bfbfc7"/>
<circle cx="155.1" cy="140.7" r="1.2" fill="#bfbfc7"/>
<circle cx="203.9" cy="143.4" r="1.2" fill="#bfbfc7"/>
<circle cx="204.2" cy="143.8" r="1.2" fill="#bfbfc7"/>
<circle cx="157.8" cy="143.2" r="1.2" fill="#bfbfc7"/>
<circle cx="179.7" cy="144.2" r="1.2" fill="#bfbfc7"/>
<circle cx="213.2" cy="144.5" r="1.2" fill="#bfbfc7"/>
<circle cx="157.8" cy="144.4" r="1.2" fill="#bfbfc7"/>
<circle cx="220.2" cy="144.7" r="1.2" fill="#bfbfc7"/>
<circle cx="160.9" cy="141.4" r="1.2" fill="#bfbfc7"/>
<circle cx="161.2" cy="140.7" r="1.2" fill="#bfbfc7"/>
<circle cx="215.3" cy="144.2" r="1.2" fill="#bfbfc7"/>
<circle cx="199.6" cy="144.2" r="1.2" fill="#bfbfc7"/>
<circle cx="199.4" cy="141.8" r="1.2" fill="#bfbfc7"/>
<circle cx="160.3" cy="140.9" r="1.2" fill="#bfbfc7"/>
<circle cx="208.7" cy="141.4" r="1.2" fill="#bfbfc7"/>
<circle cx="176.5" cy="142.4" r="1.2" fill="#bfbfc7"/>
<circle cx="154.5" cy="141.7" r="1.2" fill="#bfbfc7"/>
<circle cx="173.8" cy="143.7" r="1.2" fill="#bfbfc7"/>
<circle cx="180.0" cy="141.9" r="1.2" fill="#bfbfc7"/>
<circle cx="223.9" cy="142.8" r="1.2" fill="#bfbfc7"/>
<circle cx="215.6" cy="143.3" r="1.2" fill="#bfbfc7"/>
<circle cx="155.3" cy="142.4" r="1.2" fill="#bfbfc7"/>
<circle cx="185.1" cy="144.0" r="1.2" fill="#bfbfc7"/>
<circle cx="178.5" cy="143.7" r="1.2" fill="#bfbfc7"/>
<circle cx="192.5" cy="141.5" r="1.2" fill="#bfbfc7"/>
<circle cx="216.4" cy="140.9" r="1.2" fill="#bfbfc7"/>
<circle cx="213.3" cy="141.3" r="1.2" fill="#bfbfc7"/>
<circle cx="153.1" cy="141.4" r="1.2" fill="#bfbfc7"/>
<circle cx="209.0" cy="144.9" r="1.2" fill="#bfbfc7"/>
<circle cx="153.3" cy="142.7" r="1.2" fill="#bfbfc7"/>
<circle cx="189.1" cy="144.1" r="1.2" fill="#bfbfc7"/>
<circle cx="66.0" cy="100.4" r="1.2" fill="#bfbfc7"/>
<circle cx="68.8" cy="100.4" r="1.2" fill="#bfbfc7"/>
<circle cx="71.4" cy="100.4" r="1.2" fill="#bfbfc7"/>
<circle cx="73.3" cy="100.4" r="1.2" fill="#bfbfc7"/>
<circle cx="78.2" cy="100.4" r="1.2" fill="#bfbfc7"/>
<circle cx="83.7" cy="100.4" r="1.2" fill="#bfbfc7"/>
<circle cx="93.4" cy="100.4" r="1.2" fill="#bfbfc7"/>
<circle cx="96.3" cy="100.4" r="1.2" fill="#bfbfc7"/>
<circle cx="98.8" cy="100.4" r="1.2" fill="#bfbfc7"/>
<circle cx="100.8" cy="100.4" r="1.2" fill="#bfbfc7"/>
<circle cx="103.8" cy="100.4" r="1.2" fill="#bfbfc7"/>
<circle cx="108.8" cy="100.4" r="1.2" fill="#bfbfc7"/>
<circle cx="111.0" cy="100.4" r="1.2" fill="#bfbfc7"/>
<circle cx="123.4" cy="100.4" r="1.2" fill="#bfbfc7"/>
<circle cx="126.3" cy="100.4" r="1.2" fill="#bfbfc7"/>
<circle cx="158.0" cy="100.8" r="1.2" fill="#bfbfc7"/>
<circle cx="165.5" cy="100.8" r="1.2" fill="#bfbfc7"/>
<circle cx="170.3" cy="100.8" r="1.2" fill="#bfbfc7"/>
<circle cx="173.2" cy="100.8" r="1.2" fill="#bfbfc7"/>
<circle cx="177.7" cy="100.8" r="1.2" fill="#bfbfc7"/>
<circle cx="180.4" cy="100.8" r="1.2" fill="#bfbfc7"/>
<circle cx="185.4" cy="100.8" r="1.2" fill="#bfbfc7"/>
<circle cx="188.4" cy="100.8" r="1.2" fill="#bfbfc7"/>
<circle cx="193.4" cy="100.8" r="1.2" fill="#bfbfc7"/>
<circle cx="195.4" cy="100.8" r="1.2" fill="#bfbfc7"/>
<circle cx="205.3" cy="100.8" r="1.2" fill="#bfbfc7"/>
<circle cx="210.3" cy="100.8" r="1.2" fill="#bfbfc7"/>
<circle cx="212.6" cy="100.8" r="1.2" fill="#bfbfc7"/>
<circle cx="215.7" cy="100.8" r="1.2" fill="#bfbfc7"/>
<circle cx="91.1" cy="133.3" r="1.2" fill="#bfbfc7"/>
<circle cx="93.7" cy="133.3" r="1.2" fill="#bfbfc7"/>
<circle cx="98.6" cy="133.3" r="1.2" fill="#bfbfc7"/>
<circle cx="100.9" cy="133.3" r="1.2" fill="#bfbfc7"/>
<circle cx="103.7" cy="133.3" r="1.2" fill="#bfbfc7"/>
<circle cx="108.7" cy="133.3" r="1.2" fill="#bfbfc7"/>
<circle cx="113.6" cy="133.3" r="1.2" fill="#bfbfc7"/>
<circle cx="115.9" cy="133.3" r="1.2" fill="#bfbfc7"/>
<circle cx="118.2" cy="133.3" r="1.2" fill="#bfbfc7"/>
<circle cx="121.2" cy="133.3" r="1.2" fill="#bfbfc7"/>
<circle cx="123.6" cy="133.3" r="1.2" fill="#bfbfc7"/>
<circle cx="125.9" cy="133.3" r="1.2" fill="#bfbfc7"/>
<circle cx="165.1" cy="133.8" r="1.2" fill="#bfbfc7"/>
<circle cx="167.6" cy="133.8" r="1.2" fill="#bfbfc7"/>
<circle cx="172.6" cy="133.8" r="1.2" fill="#bfbfc7"/>
<circle cx="177.5" cy="133.8" r="1.2" fill="#bfbfc7"/>
<circle cx="207.0" cy="133.8" r="1.2" fill="#bfbfc7"/>
<circle cx="209.7" cy="133.8" r="1.2" fill="#bfbfc7"/>
<circle cx="214.2" cy="133.8" r="1.2" fill="#bfbfc7"/>
<circle cx="217.0" cy="133.8" r="1.2" fill="#bfbfc7"/>
<circle cx="222.1" cy="133.8" r="1.2" fill="#bfbfc7"/>
<circle cx="68.0" cy="128.0" r="1.2" fill="#bfbfc7"/>
<circle cx="78.0" cy="130.0" r="1.2" fill="#bfbfc7"/>
<circle cx="96.5" cy="128.0" r="1.2" fill="#bfbfc7"/>
<circle cx="102.0" cy="116.8" r="1.2" fill="#bfbfc7"/>
<circle cx="101.8" cy="123.4" r="1.2" fill="#bfbfc7"/>
<circle cx="68.0" cy="134.0" r="1.2" fill="#bfbfc7"/>
<circle cx="72.0" cy="134.7" r="1.2" fill="#bfbfc7"/>
<circle cx="80.0" cy="133.0" r="1.2" fill="#bfbfc7"/>
<circle cx="70.0" cy="138.0" r="1.2" fill="#bfbfc7"/>
<circle cx="75.0" cy="139.0" r="1.2" fill="#bfbfc7"/>
<circle cx="86.0" cy="137.0" r="1.2" fill="#bfbfc7"/>
<circle cx="90.0" cy="140.0" r="1.2" fill="#bfbfc7"/>
<circle cx="108.0" cy="138.0" r="1.2" fill="#bfbfc7"/>
<circle cx="115.0" cy="139.0" r="1.2" fill="#bfbfc7"/>
<circle cx="121.0" cy="136.0" r="1.2" fill="#bfbfc7"/>
<circle cx="82.0" cy="141.0" r="1.2" fill="#bfbfc7"/>
<circle cx="97.0" cy="141.5" r="1.2" fill="#bfbfc7"/>
<circle cx="112.0" cy="135.5" r="1.2" fill="#bfbfc7"/>
<circle cx="124.0" cy="130.0" r="1.2" fill="#bfbfc7"/>
<circle cx="119.0" cy="127.0" r="1.2" fill="#bfbfc7"/>
<circle cx="157.7" cy="93.4" r="1.2" fill="#bfbfc7"/>
<circle cx="163.0" cy="93.4" r="1.2" fill="#bfbfc7"/>
<circle cx="207.0" cy="93.4" r="1.2" fill="#bfbfc7"/>
<circle cx="217.0" cy="93.4" r="1.2" fill="#bfbfc7"/>
<circle cx="157.7" cy="96.9" r="1.2" fill="#bfbfc7"/>
<circle cx="163.0" cy="96.9" r="1.2" fill="#bfbfc7"/>
<circle cx="157.0" cy="104.6" r="1.2" fill="#bfbfc7"/>
<circle cx="163.0" cy="104.6" r="1.2" fill="#bfbfc7"/>
<circle cx="194.0" cy="104.6" r="1.2" fill="#bfbfc7"/>
<circle cx="225.0" cy="104.6" r="1.2" fill="#bfbfc7"/>
<circle cx="174.0" cy="107.7" r="1.2" fill="#bfbfc7"/>
<circle cx="176.5" cy="107.7" r="1.2" fill="#bfbfc7"/>
<circle cx="179.0" cy="107.7" r="1.2" fill="#bfbfc7"/>
<circle cx="181.0" cy="107.7" r="1.2" fill="#bfbfc7"/>
<circle cx="194.0" cy="107.7" r="1.2" fill="#bfbfc7"/>
<circle cx="208.0" cy="107.7" r="1.2" fill="#bfbfc7"/>
<circle cx="210.0" cy="107.7" r="1.2" fill="#bfbfc7"/>
<circle cx="194.0" cy="110.8" r="1.2" fill="#bfbfc7"/>
<circle cx="209.0" cy="110.8" r="1.2" fill="#bfbfc7"/>
<circle cx="222.0" cy="110.8" r="1.2" fill="#bfbfc7"/>
<circle cx="155.0" cy="113.8" r="1.2" fill="#bfbfc7"/>
<circle cx="172.0" cy="113.8" r="1.2" fill="#bfbfc7"/>
<circle cx="175.0" cy="113.8" r="1.2" fill="#bfbfc7"/>
<circle cx="178.0" cy="113.8" r="1.2" fill="#bfbfc7"/>
<circle cx="200.0" cy="113.8" r="1.2" fill="#bfbfc7"/>
<circle cx="208.0" cy="116.2" r="1.2" fill="#bfbfc7"/>
<circle cx="222.0" cy="116.2" r="1.2" fill="#bfbfc7"/>
<circle cx="194.0" cy="119.5" r="1.2" fill="#bfbfc7"/>
<circle cx="216.0" cy="120.0" r="1.2" fill="#bfbfc7"/>
<circle cx="180.0" cy="128.5" r="1.2" fill="#bfbfc7"/>
<circle cx="190.0" cy="128.5" r="1.2" fill="#bfbfc7"/>
<circle cx="208.0" cy="128.5" r="1.2" fill="#bfbfc7"/>
<circle cx="160.0" cy="126.0" r="1.2" fill="#bfbfc7"/>
<circle cx="170.0" cy="127.0" r="1.2" fill="#bfbfc7"/>
<circle cx="200.0" cy="126.0" r="1.2" fill="#bfbfc7"/>
<circle cx="225.0" cy="127.0" r="1.2" fill="#bfbfc7"/>
<circle cx="190.0" cy="133.8" r="1.2" fill="#bfbfc7"/>
<circle cx="198.0" cy="133.8" r="1.2" fill="#bfbfc7"/>
<circle cx="186.0" cy="137.0" r="1.2" fill="#bfbfc7"/>
<circle cx="196.0" cy="138.0" r="1.2" fill="#bfbfc7"/>
<circle cx="205.0" cy="139.0" r="1.2" fill="#bfbfc7"/>
<circle cx="215.0" cy="137.5" r="1.2" fill="#bfbfc7"/>
<circle cx="222.0" cy="139.0" r="1.2" fill="#bfbfc7"/>
<circle cx="160.0" cy="138.0" r="1.2" fill="#bfbfc7"/>
<circle cx="170.0" cy="139.0" r="1.2" fill="#bfbfc7"/>
<circle cx="154.9" cy="123.0" r="1.2" fill="#bfbfc7"/>
<circle cx="160.1" cy="123.0" r="1.2" fill="#bfbfc7"/>
<circle cx="162.7" cy="123.0" r="1.2" fill="#bfbfc7"/>
<circle cx="165.4" cy="123.0" r="1.2" fill="#bfbfc7"/>
<circle cx="167.1" cy="123.0" r="1.2" fill="#bfbfc7"/>
<circle cx="169.9" cy="123.0" r="1.2" fill="#bfbfc7"/>
<circle cx="172.4" cy="123.0" r="1.2" fill="#bfbfc7"/>
<circle cx="175.2" cy="123.0" r="1.2" fill="#bfbfc7"/>
<circle cx="177.3" cy="123.0" r="1.2" fill="#bfbfc7"/>
<circle cx="180.2" cy="123.0" r="1.2" fill="#bfbfc7"/>
<circle cx="194.0" cy="123.0" r="1.2" fill="#bfbfc7"/>
<circle cx="207.0" cy="123.0" r="1.2" fill="#bfbfc7"/>
<circle cx="220.0" cy="123.0" r="1.2" fill="#bfbfc7"/>
<circle cx="223.0" cy="123.0" r="1.2" fill="#bfbfc7"/>
<circle cx="151.5" cy="119.8" r="1.2" fill="#bfbfc7"/>
<circle cx="133.1" cy="132.7" r="1.2" fill="#bfbfc7"/>
<circle cx="137.5" cy="105.0" r="1.2" fill="#bfbfc7"/>
<circle cx="130.8" cy="131.5" r="1.2" fill="#bfbfc7"/>
<circle cx="148.1" cy="124.8" r="1.2" fill="#bfbfc7"/>
<circle cx="139.5" cy="121.4" r="1.2" fill="#bfbfc7"/>
<circle cx="133.3" cy="140.3" r="1.2" fill="#bfbfc7"/>
<circle cx="136.5" cy="125.0" r="1.2" fill="#bfbfc7"/>
<circle cx="148.4" cy="133.4" r="1.2" fill="#bfbfc7"/>
<circle cx="139.4" cy="108.8" r="1.2" fill="#bfbfc7"/>
<circle cx="141.5" cy="100.9" r="1.2" fill="#bfbfc7"/>
<circle cx="148.8" cy="111.7" r="1.2" fill="#bfbfc7"/>
<circle cx="149.2" cy="107.6" r="1.2" fill="#bfbfc7"/>
<circle cx="137.1" cy="106.9" r="1.2" fill="#bfbfc7"/>
<circle cx="138.4" cy="103.7" r="1.2" fill="#bfbfc7"/>
<circle cx="127.6" cy="128.9" r="1.2" fill="#bfbfc7"/>
<circle cx="134.7" cy="106.5" r="1.2" fill="#bfbfc7"/>
<circle cx="135.2" cy="117.5" r="1.2" fill="#bfbfc7"/>
<circle cx="138.4" cy="125.0" r="1.2" fill="#bfbfc7"/>
<circle cx="144.3" cy="112.0" r="1.2" fill="#bfbfc7"/>
<circle cx="151.2" cy="135.2" r="1.2" fill="#bfbfc7"/>
<circle cx="129.0" cy="133.9" r="1.2" fill="#bfbfc7"/>
<circle cx="150.6" cy="131.8" r="1.2" fill="#bfbfc7"/>
<circle cx="131.1" cy="134.1" r="1.2" fill="#bfbfc7"/>
<circle cx="143.6" cy="95.7" r="1.2" fill="#bfbfc7"/>
<circle cx="127.8" cy="139.7" r="1.2" fill="#bfbfc7"/>
<circle cx="144.2" cy="106.8" r="1.2" fill="#bfbfc7"/>
<circle cx="130.1" cy="101.7" r="1.2" fill="#bfbfc7"/>
<circle cx="133.5" cy="131.5" r="1.2" fill="#bfbfc7"/>
<circle cx="136.3" cy="102.2" r="1.2" fill="#bfbfc7"/>
<circle cx="150.6" cy="132.2" r="1.2" fill="#bfbfc7"/>
<circle cx="131.8" cy="136.9" r="1.2" fill="#bfbfc7"/>
<circle cx="143.0" cy="131.7" r="1.2" fill="#bfbfc7"/>
<circle cx="144.5" cy="137.0" r="1.2" fill="#bfbfc7"/>
<circle cx="147.6" cy="134.4" r="1.2" fill="#bfbfc7"/>
<circle cx="132.5" cy="127.6" r="1.2" fill="#bfbfc7"/>
<circle cx="141.0" cy="129.9" r="1.2" fill="#bfbfc7"/>
<circle cx="138.7" cy="136.5" r="1.2" fill="#bfbfc7"/>
<circle cx="141.7" cy="107.4" r="1.2" fill="#bfbfc7"/>
<circle cx="133.5" cy="101.5" r="1.2" fill="#bfbfc7"/>
<circle cx="140.1" cy="97.7" r="1.2" fill="#bfbfc7"/>
<circle cx="139.4" cy="101.8" r="1.2" fill="#bfbfc7"/>
<circle cx="140.0" cy="118.4" r="1.2" fill="#bfbfc7"/>
<circle cx="141.3" cy="135.6" r="1.2" fill="#bfbfc7"/>
<circle cx="127.7" cy="134.5" r="1.2" fill="#bfbfc7"/>
<circle cx="139.4" cy="121.4" r="1.2" fill="#bfbfc7"/>
<circle cx="144.5" cy="134.5" r="1.2" fill="#bfbfc7"/>
<circle cx="137.1" cy="114.7" r="1.2" fill="#bfbfc7"/>
<circle cx="152.0" cy="98.5" r="1.2" fill="#bfbfc7"/>
<circle cx="143.7" cy="124.9" r="1.2" fill="#bfbfc7"/>
<circle cx="128.2" cy="123.7" r="1.2" fill="#bfbfc7"/>
<circle cx="144.9" cy="138.8" r="1.2" fill="#bfbfc7"/>
<circle cx="135.9" cy="141.1" r="1.2" fill="#bfbfc7"/>
<circle cx="140.5" cy="117.8" r="1.2" fill="#bfbfc7"/>
<circle cx="150.4" cy="96.6" r="1.2" fill="#bfbfc7"/>
<circle cx="145.8" cy="124.4" r="1.2" fill="#bfbfc7"/>
<circle cx="136.1" cy="135.5" r="1.2" fill="#bfbfc7"/>
<circle cx="136.8" cy="117.3" r="1.2" fill="#bfbfc7"/>
<circle cx="140.9" cy="131.2" r="1.2" fill="#bfbfc7"/>
<circle cx="132.9" cy="115.5" r="1.2" fill="#bfbfc7"/>
<circle cx="138.3" cy="121.0" r="1.2" fill="#bfbfc7"/>
<circle cx="148.6" cy="108.8" r="1.2" fill="#bfbfc7"/>
<circle cx="148.6" cy="114.0" r="1.2" fill="#bfbfc7"/>
<circle cx="140.3" cy="107.8" r="1.2" fill="#bfbfc7"/>
<circle cx="140.4" cy="140.8" r="1.2" fill="#bfbfc7"/>
<circle cx="144.2" cy="132.2" r="1.2" fill="#bfbfc7"/>
<circle cx="135.9" cy="109.9" r="1.2" fill="#bfbfc7"/>
<circle cx="135.1" cy="122.6" r="1.2" fill="#bfbfc7"/>
<circle cx="143.7" cy="131.9" r="1.2" fill="#bfbfc7"/>
<circle cx="128.5" cy="129.0" r="1.2" fill="#bfbfc7"/>
<circle cx="150.1" cy="120.6" r="1.2" fill="#bfbfc7"/>
<circle cx="128.8" cy="109.1" r="1.2" fill="#bfbfc7"/>
<circle cx="127.7" cy="103.9" r="1.2" fill="#bfbfc7"/>
<circle cx="151.0" cy="123.6" r="1.2" fill="#bfbfc7"/>
<circle cx="144.3" cy="132.1" r="1.2" fill="#bfbfc7"/>
<circle cx="150.7" cy="123.8" r="1.2" fill="#bfbfc7"/>
<circle cx="143.2" cy="124.5" r="1.2" fill="#bfbfc7"/>
<circle cx="145.3" cy="123.0" r="1.2" fill="#bfbfc7"/>
<circle cx="144.9" cy="105.0" r="1.2" fill="#bfbfc7"/>
<circle cx="144.5" cy="116.5" r="1.2" fill="#bfbfc7"/>
<circle cx="146.9" cy="99.8" r="1.2" fill="#bfbfc7"/>
<circle cx="132.1" cy="96.7" r="1.2" fill="#bfbfc7"/>
<circle cx="147.3" cy="138.0" r="1.2" fill="#bfbfc7"/>
<circle cx="144.2" cy="112.3" r="1.2" fill="#bfbfc7"/>
<circle cx="148.5" cy="132.0" r="1.2" fill="#bfbfc7"/>
<circle cx="141.8" cy="107.1" r="1.2" fill="#bfbfc7"/>
<circle cx="135.2" cy="114.8" r="1.2" fill="#bfbfc7"/>
<circle cx="135.6" cy="115.2" r="1.2" fill="#bfbfc7"/>
<circle cx="143.9" cy="138.9" r="1.2" fill="#bfbfc7"/>
<circle cx="128.9" cy="121.7" r="1.2" fill="#bfbfc7"/>
<circle cx="128.5" cy="100.6" r="1.2" fill="#bfbfc7"/>
<circle cx="148.2" cy="122.0" r="1.2" fill="#bfbfc7"/>
<circle cx="150.9" cy="116.0" r="1.2" fill="#bfbfc7"/>
<circle cx="127.9" cy="113.2" r="1.2" fill="#bfbfc7"/>
<circle cx="142.6" cy="139.1" r="1.2" fill="#bfbfc7"/>
<circle cx="152.5" cy="117.3" r="1.2" fill="#bfbfc7"/>
<circle cx="138.0" cy="99.8" r="1.2" fill="#bfbfc7"/>
<circle cx="143.9" cy="105.0" r="1.2" fill="#bfbfc7"/>
<circle cx="131.4" cy="95.7" r="1.2" fill="#bfbfc7"/>
<circle cx="127.6" cy="127.1" r="1.2" fill="#bfbfc7"/>
<circle cx="130.6" cy="140.4" r="1.2" fill="#bfbfc7"/>
<circle cx="129.7" cy="135.9" r="1.2" fill="#bfbfc7"/>
<circle cx="130.8" cy="95.8" r="1.2" fill="#bfbfc7"/>
<circle cx="145.8" cy="106.4" r="1.2" fill="#bfbfc7"/>
<circle cx="146.2" cy="103.8" r="1.2" fill="#bfbfc7"/>
<circle cx="128.8" cy="131.4" r="1.2" fill="#bfbfc7"/>
<circle cx="145.7" cy="135.2" r="1.2" fill="#bfbfc7"/>
<circle cx="146.1" cy="99.0" r="1.2" fill="#bfbfc7"/>
<circle cx="143.5" cy="128.3" r="1.2" fill="#bfbfc7"/>
<circle cx="139.2" cy="138.8" r="1.2" fill="#bfbfc7"/>
<circle cx="134.0" cy="140.3" r="1.2" fill="#bfbfc7"/>
<circle cx="145.8" cy="95.5" r="1.2" fill="#bfbfc7"/>
<circle cx="127.9" cy="125.6" r="1.2" fill="#bfbfc7"/>
<circle cx="148.3" cy="98.7" r="1.2" fill="#bfbfc7"/>
<circle cx="135.4" cy="129.3" r="1.2" fill="#bfbfc7"/>
<circle cx="131.7" cy="135.5" r="1.2" fill="#bfbfc7"/>
<circle cx="139.9" cy="97.8" r="1.2" fill="#bfbfc7"/>
<circle cx="136.9" cy="122.0" r="1.2" fill="#bfbfc7"/>
<circle cx="138.7" cy="126.8" r="1.2" fill="#bfbfc7"/>
<circle cx="131.2" cy="132.5" r="1.2" fill="#bfbfc7"/>
<circle cx="136.8" cy="125.3" r="1.2" fill="#bfbfc7"/>
<circle cx="143.6" cy="114.6" r="1.2" fill="#bfbfc7"/>
<circle cx="137.3" cy="132.0" r="1.2" fill="#bfbfc7"/>
<circle cx="151.6" cy="131.9" r="1.2" fill="#bfbfc7"/>
<circle cx="142.0" cy="108.7" r="1.2" fill="#bfbfc7"/>
<circle cx="129.0" cy="140.8" r="1.2" fill="#bfbfc7"/>
<circle cx="145.4" cy="133.9" r="1.2" fill="#bfbfc7"/>
<circle cx="136.0" cy="123.5" r="1.2" fill="#bfbfc7"/>
<circle cx="152.4" cy="134.1" r="1.2" fill="#bfbfc7"/>
<circle cx="142.8" cy="109.5" r="1.2" fill="#bfbfc7"/>
<circle cx="138.4" cy="136.7" r="1.2" fill="#bfbfc7"/>
<circle cx="137.1" cy="127.2" r="1.2" fill="#bfbfc7"/>
<circle cx="142.8" cy="137.1" r="1.2" fill="#bfbfc7"/>
<circle cx="148.1" cy="108.3" r="1.2" fill="#bfbfc7"/>
<circle cx="127.5" cy="107.4" r="1.2" fill="#bfbfc7"/>
<circle cx="138.3" cy="122.6" r="1.2" fill="#bfbfc7"/>
<circle cx="148.3" cy="136.7" r="1.2" fill="#bfbfc7"/>
<circle cx="128.6" cy="134.2" r="1.2" fill="#bfbfc7"/>
<circle cx="148.2" cy="135.8" r="1.2" fill="#bfbfc7"/>
<circle cx="142.1" cy="107.9" r="1.2" fill="#bfbfc7"/>
<circle cx="149.2" cy="132.9" r="1.2" fill="#bfbfc7"/>
<circle cx="145.0" cy="137.9" r="1.2" fill="#bfbfc7"/>
<circle cx="136.3" cy="99.0" r="1.2" fill="#bfbfc7"/>
<circle cx="141.6" cy="132.5" r="1.2" fill="#bfbfc7"/>
<circle cx="132.6" cy="130.3" r="1.2" fill="#bfbfc7"/>
<circle cx="151.3" cy="106.0" r="1.2" fill="#bfbfc7"/>
<circle cx="143.0" cy="126.9" r="1.2" fill="#bfbfc7"/>
<circle cx="139.4" cy="104.7" r="1.2" fill="#bfbfc7"/>
<circle cx="134.0" cy="130.3" r="1.2" fill="#bfbfc7"/>
<circle cx="147.7" cy="116.6" r="1.2" fill="#bfbfc7"/>
<circle cx="129.7" cy="132.9" r="1.2" fill="#bfbfc7"/>
<circle cx="147.2" cy="105.9" r="1.2" fill="#bfbfc7"/>
<circle cx="142.3" cy="137.2" r="1.2" fill="#bfbfc7"/>
<circle cx="150.1" cy="119.5" r="1.2" fill="#bfbfc7"/>
<circle cx="139.7" cy="122.7" r="1.2" fill="#bfbfc7"/>
<circle cx="132.3" cy="104.0" r="1.2" fill="#bfbfc7"/>
<circle cx="132.1" cy="128.0" r="1.2" fill="#bfbfc7"/>
<circle cx="136.8" cy="121.5" r="1.2" fill="#bfbfc7"/>
<circle cx="137.8" cy="119.3" r="1.2" fill="#bfbfc7"/>
<circle cx="131.3" cy="97.1" r="1.2" fill="#bfbfc7"/>
<circle cx="152.9" cy="112.6" r="1.2" fill="#bfbfc7"/>
<circle cx="130.2" cy="124.7" r="1.2" fill="#bfbfc7"/>
<circle cx="147.6" cy="102.3" r="1.2" fill="#bfbfc7"/>
<circle cx="142.7" cy="111.2" r="1.2" fill="#bfbfc7"/>
<circle cx="140.7" cy="96.0" r="1.2" fill="#bfbfc7"/>
<circle cx="128.4" cy="141.5" r="1.2" fill="#bfbfc7"/>
<circle cx="149.6" cy="117.9" r="1.2" fill="#bfbfc7"/>
<circle cx="142.0" cy="107.3" r="1.2" fill="#bfbfc7"/>
<circle cx="147.4" cy="115.0" r="1.2" fill="#bfbfc7"/>
<circle cx="151.6" cy="131.1" r="1.2" fill="#bfbfc7"/>
<circle cx="148.4" cy="140.3" r="1.2" fill="#bfbfc7"/>
<circle cx="134.0" cy="96.8" r="1.2" fill="#bfbfc7"/>
<circle cx="132.6" cy="103.5" r="1.2" fill="#bfbfc7"/>
<circle cx="129.6" cy="97.4" r="1.2" fill="#bfbfc7"/>
<circle cx="141.7" cy="135.9" r="1.2" fill="#bfbfc7"/>
<circle cx="139.2" cy="139.5" r="1.2" fill="#bfbfc7"/>
<circle cx="150.7" cy="98.0" r="1.2" fill="#bfbfc7"/>
<circle cx="142.8" cy="113.7" r="1.2" fill="#bfbfc7"/>
<circle cx="130.6" cy="140.1" r="1.2" fill="#bfbfc7"/>
<circle cx="134.1" cy="121.5" r="1.2" fill="#bfbfc7"/>
<circle cx="143.8" cy="140.0" r="1.2" fill="#bfbfc7"/>
<circle cx="144.6" cy="113.5" r="1.2" fill="#bfbfc7"/>
<circle cx="138.9" cy="102.5" r="1.2" fill="#bfbfc7"/>
<circle cx="152.1" cy="141.6" r="1.2" fill="#bfbfc7"/>
<circle cx="133.2" cy="96.8" r="1.2" fill="#bfbfc7"/>
<circle cx="134.0" cy="111.5" r="1.2" fill="#bfbfc7"/>
<circle cx="150.5" cy="137.5" r="1.2" fill="#bfbfc7"/>
<circle cx="148.8" cy="97.2" r="1.2" fill="#bfbfc7"/>
<circle cx="147.6" cy="128.4" r="1.2" fill="#bfbfc7"/>
<circle cx="144.0" cy="141.3" r="1.2" fill="#bfbfc7"/>
<circle cx="128.9" cy="101.8" r="1.2" fill="#bfbfc7"/>
<circle cx="146.8" cy="139.2" r="1.2" fill="#bfbfc7"/>
<circle cx="144.8" cy="109.0" r="1.2" fill="#bfbfc7"/>
<circle cx="142.6" cy="130.6" r="1.2" fill="#bfbfc7"/>
<circle cx="130.2" cy="110.2" r="1.2" fill="#bfbfc7"/>
<circle cx="134.1" cy="100.8" r="1.2" fill="#bfbfc7"/>
<circle cx="139.8" cy="102.9" r="1.2" fill="#bfbfc7"/>
<circle cx="133.6" cy="101.7" r="1.2" fill="#bfbfc7"/>
<circle cx="144.8" cy="95.6" r="1.2" fill="#bfbfc7"/>
<circle cx="145.8" cy="104.2" r="1.2" fill="#bfbfc7"/>
<circle cx="128.4" cy="138.6" r="1.2" fill="#bfbfc7"/>
<circle cx="133.1" cy="138.9" r="1.2" fill="#bfbfc7"/>
<circle cx="149.6" cy="136.8" r="1.2" fill="#bfbfc7"/>
<circle cx="131.1" cy="116.0" r="1.2" fill="#bfbfc7"/>
<circle cx="130.0" cy="138.7" r="1.2" fill="#bfbfc7"/>
<circle cx="149.0" cy="124.5" r="1.2" fill="#bfbfc7"/>
<circle cx="139.0" cy="111.0" r="1.2" fill="#bfbfc7"/>
<circle cx="148.5" cy="117.4" r="1.2" fill="#bfbfc7"/>
<circle cx="143.5" cy="101.7" r="1.2" fill="#bfbfc7"/>
<circle cx="133.2" cy="97.7" r="1.2" fill="#bfbfc7"/>
<circle cx="145.7" cy="121.0" r="1.2" fill="#bfbfc7"/>
<circle cx="131.2" cy="135.9" r="1.2" fill="#bfbfc7"/>
<circle cx="134.3" cy="114.4" r="1.2" fill="#bfbfc7"/>
<circle cx="131.5" cy="107.7" r="1.2" fill="#bfbfc7"/>
<circle cx="148.9" cy="110.7" r="1.2" fill="#bfbfc7"/>
<circle cx="131.8" cy="118.1" r="1.2" fill="#bfbfc7"/>
<circle cx="135.6" cy="137.4" r="1.2" fill="#bfbfc7"/>
<circle cx="130.4" cy="141.0" r="1.2" fill="#bfbfc7"/>
<circle cx="128.9" cy="137.1" r="1.2" fill="#bfbfc7"/>
<circle cx="144.5" cy="104.9" r="1.2" fill="#bfbfc7"/>
<circle cx="139.7" cy="108.5" r="1.2" fill="#bfbfc7"/>
<circle cx="134.1" cy="104.5" r="1.2" fill="#bfbfc7"/>
<circle cx="136.8" cy="141.6" r="1.2" fill="#bfbfc7"/>
<circle cx="153.0" cy="138.5" r="1.2" fill="#bfbfc7"/>
<circle cx="130.0" cy="108.6" r="1.2" fill="#bfbfc7"/>
<circle cx="150.4" cy="97.7" r="1.2" fill="#bfbfc7"/>
<circle cx="146.0" cy="108.8" r="1.2" fill="#bfbfc7"/>
<circle cx="152.5" cy="95.8" r="1.2" fill="#bfbfc7"/>
<circle cx="148.1" cy="111.0" r="1.2" fill="#bfbfc7"/>
<circle cx="131.1" cy="95.1" r="1.2" fill="#bfbfc7"/>
<circle cx="148.7" cy="119.7" r="1.2" fill="#bfbfc7"/>
<circle cx="132.2" cy="115.5" r="1.2" fill="#bfbfc7"/>
<circle cx="150.8" cy="105.3" r="1.2" fill="#bfbfc7"/>
<circle cx="142.1" cy="101.5" r="1.2" fill="#bfbfc7"/>
<circle cx="132.1" cy="131.2" r="1.2" fill="#bfbfc7"/>
<circle cx="145.6" cy="104.2" r="1.2" fill="#bfbfc7"/>
<circle cx="129.5" cy="99.1" r="1.2" fill="#bfbfc7"/>
<circle cx="143.0" cy="118.3" r="1.2" fill="#bfbfc7"/>
<circle cx="134.5" cy="104.7" r="1.2" fill="#bfbfc7"/>
<circle cx="143.1" cy="128.3" r="1.2" fill="#bfbfc7"/>
<circle cx="148.2" cy="122.4" r="1.2" fill="#bfbfc7"/>
<circle cx="132.7" cy="98.1" r="1.2" fill="#bfbfc7"/>
<circle cx="146.2" cy="114.2" r="1.2" fill="#bfbfc7"/>
<circle cx="145.9" cy="97.6" r="1.2" fill="#bfbfc7"/>
<circle cx="148.2" cy="110.8" r="1.2" fill="#bfbfc7"/>
<circle cx="149.0" cy="135.6" r="1.2" fill="#bfbfc7"/>
<circle cx="140.1" cy="95.7" r="1.2" fill="#bfbfc7"/>
<circle cx="150.7" cy="117.4" r="1.2" fill="#bfbfc7"/>
<circle cx="149.7" cy="107.5" r="1.2" fill="#bfbfc7"/>
<circle cx="132.2" cy="134.1" r="1.2" fill="#bfbfc7"/>
<circle cx="136.9" cy="102.7" r="1.2" fill="#bfbfc7"/>
<circle cx="137.0" cy="123.0" r="1.2" fill="#bfbfc7"/>
<circle cx="127.6" cy="119.4" r="1.2" fill="#bfbfc7"/>
<circle cx="138.9" cy="119.2" r="1.2" fill="#bfbfc7"/>
<circle cx="130.6" cy="128.6" r="1.2" fill="#bfbfc7"/>
<circle cx="148.3" cy="135.7" r="1.2" fill="#bfbfc7"/>
<circle cx="135.7" cy="128.4" r="1.2" fill="#bfbfc7"/>
<circle cx="137.2" cy="130.3" r="1.2" fill="#bfbfc7"/>
<circle cx="129.1" cy="136.0" r="1.2" fill="#bfbfc7"/>
<circle cx="151.8" cy="118.3" r="1.2" fill="#bfbfc7"/>
<circle cx="140.6" cy="119.9" r="1.2" fill="#bfbfc7"/>
<circle cx="141.2" cy="96.0" r="1.2" fill="#bfbfc7"/>
<circle cx="152.2" cy="105.5" r="1.2" fill="#bfbfc7"/>
<circle cx="132.2" cy="99.8" r="1.2" fill="#bfbfc7"/>
<circle cx="133.9" cy="133.4" r="1.2" fill="#bfbfc7"/>
<circle cx="128.3" cy="99.5" r="1.2" fill="#bfbfc7"/>
<circle cx="145.3" cy="104.2" r="1.2" fill="#bfbfc7"/>
<circle cx="128.0" cy="123.2" r="1.2" fill="#bfbfc7"/>
<circle cx="142.2" cy="119.6" r="1.2" fill="#bfbfc7"/>
<circle cx="145.4" cy="99.8" r="1.2" fill="#bfbfc7"/>
<circle cx="149.7" cy="128.7" r="1.2" fill="#bfbfc7"/>
<circle cx="128.7" cy="100.8" r="1.2" fill="#bfbfc7"/>
<circle cx="140.1" cy="118.5" r="1.2" fill="#bfbfc7"/>
<circle cx="134.6" cy="100.7" r="1.2" fill="#bfbfc7"/>
<circle cx="137.8" cy="101.4" r="1.2" fill="#bfbfc7"/>
<circle cx="142.6" cy="135.5" r="1.2" fill="#bfbfc7"/>
<circle cx="131.3" cy="121.9" r="1.2" fill="#bfbfc7"/>
<circle cx="146.5" cy="102.7" r="1.2" fill="#bfbfc7"/>
<circle cx="148.6" cy="139.1" r="1.2" fill="#bfbfc7"/>
<circle cx="137.4" cy="114.8" r="1.2" fill="#bfbfc7"/>
<circle cx="148.9" cy="119.7" r="1.2" fill="#bfbfc7"/>
<circle cx="137.6" cy="139.2" r="1.2" fill="#bfbfc7"/>
<circle cx="147.3" cy="110.9" r="1.2" fill="#bfbfc7"/>
<circle cx="133.6" cy="110.7" r="1.2" fill="#bfbfc7"/>
<circle cx="138.6" cy="141.1" r="1.2" fill="#bfbfc7"/>
<circle cx="148.0" cy="137.9" r="1.2" fill="#bfbfc7"/>
<circle cx="148.3" cy="134.8" r="1.2" fill="#bfbfc7"/>
<circle cx="128.9" cy="119.3" r="1.2" fill="#bfbfc7"/>
<circle cx="151.9" cy="138.9" r="1.2" fill="#bfbfc7"/>
<circle cx="133.9" cy="114.8" r="1.2" fill="#bfbfc7"/>
<circle cx="143.6" cy="112.1" r="1.2" fill="#bfbfc7"/>
<circle cx="141.0" cy="98.3" r="1.2" fill="#bfbfc7"/>
<circle cx="138.5" cy="118.7" r="1.2" fill="#bfbfc7"/>
<circle cx="128.0" cy="101.6" r="1.2" fill="#bfbfc7"/>
<circle cx="152.2" cy="131.5" r="1.2" fill="#bfbfc7"/>
<circle cx="151.4" cy="124.8" r="1.2" fill="#bfbfc7"/>
<circle cx="148.1" cy="136.6" r="1.2" fill="#bfbfc7"/>
<circle cx="150.1" cy="96.6" r="1.2" fill="#bfbfc7"/>
<circle cx="143.9" cy="107.5" r="1.2" fill="#bfbfc7"/>
<circle cx="144.8" cy="107.9" r="1.2" fill="#bfbfc7"/>
<circle cx="141.3" cy="138.4" r="1.2" fill="#bfbfc7"/>
<circle cx="143.3" cy="106.8" r="1.2" fill="#bfbfc7"/>
<circle cx="140.8" cy="115.4" r="1.2" fill="#bfbfc7"/>
<circle cx="151.7" cy="108.5" r="1.2" fill="#bfbfc7"/>
<circle cx="135.3" cy="125.4" r="1.2" fill="#bfbfc7"/>
<circle cx="130.6" cy="122.9" r="1.2" fill="#bfbfc7"/>
<circle cx="151.9" cy="119.1" r="1.2" fill="#bfbfc7"/>
<circle cx="134.3" cy="116.9" r="1.2" fill="#bfbfc7"/>
<circle cx="141.1" cy="102.0" r="1.2" fill="#bfbfc7"/>
<circle cx="130.7" cy="101.2" r="1.2" fill="#bfbfc7"/>
<circle cx="135.0" cy="114.1" r="1.2" fill="#bfbfc7"/>
<circle cx="134.9" cy="106.4" r="1.2" fill="#bfbfc7"/>
<circle cx="129.7" cy="120.7" r="1.2" fill="#bfbfc7"/>
<circle cx="148.9" cy="123.7" r="1.2" fill="#bfbfc7"/>
<circle cx="142.0" cy="125.6" r="1.2" fill="#bfbfc7"/>
<circle cx="132.6" cy="128.4" r="1.2" fill="#bfbfc7"/>
<circle cx="139.3" cy="120.8" r="1.2" fill="#bfbfc7"/>
<circle cx="143.1" cy="117.0" r="1.2" fill="#bfbfc7"/>
<circle cx="135.4" cy="144.3" r="1.2" fill="#bfbfc7"/>
<circle cx="133.2" cy="146.9" r="1.2" fill="#bfbfc7"/>
<circle cx="137.3" cy="147.6" r="1.2" fill="#bfbfc7"/>
<circle cx="127.8" cy="145.4" r="1.2" fill="#bfbfc7"/>
<circle cx="149.5" cy="144.3" r="1.2" fill="#bfbfc7"/>
<circle cx="141.7" cy="146.7" r="1.2" fill="#bfbfc7"/>
<circle cx="134.8" cy="151.4" r="1.2" fill="#bfbfc7"/>
<circle cx="135.0" cy="149.3" r="1.2" fill="#bfbfc7"/>
<circle cx="131.5" cy="142.6" r="1.2" fill="#bfbfc7"/>
<circle cx="149.7" cy="146.2" r="1.2" fill="#bfbfc7"/>
<circle cx="129.1" cy="145.7" r="1.2" fill="#bfbfc7"/>
<circle cx="138.7" cy="149.0" r="1.2" fill="#bfbfc7"/>
<circle cx="130.3" cy="144.1" r="1.2" fill="#bfbfc7"/>
<circle cx="152.0" cy="149.0" r="1.2" fill="#bfbfc7"/>
<circle cx="131.4" cy="145.2" r="1.2" fill="#bfbfc7"/>
<circle cx="136.5" cy="148.4" r="1.2" fill="#bfbfc7"/>
<circle cx="143.2" cy="150.1" r="1.2" fill="#bfbfc7"/>
<circle cx="148.4" cy="146.9" r="1.2" fill="#bfbfc7"/>
<circle cx="146.3" cy="149.1" r="1.2" fill="#bfbfc7"/>
<circle cx="146.9" cy="146.5" r="1.2" fill="#bfbfc7"/>
<circle cx="147.5" cy="148.7" r="1.2" fill="#bfbfc7"/>
<circle cx="150.8" cy="143.2" r="1.2" fill="#bfbfc7"/>
<circle cx="149.7" cy="142.0" r="1.2" fill="#bfbfc7"/>
<circle cx="147.0" cy="147.6" r="1.2" fill="#bfbfc7"/>
<circle cx="140.2" cy="151.1" r="1.2" fill="#bfbfc7"/>
<circle cx="142.1" cy="146.0" r="1.2" fill="#bfbfc7"/>
<circle cx="147.5" cy="150.3" r="1.2" fill="#bfbfc7"/>
<circle cx="143.0" cy="145.6" r="1.2" fill="#bfbfc7"/>
<circle cx="139.0" cy="146.4" r="1.2" fill="#bfbfc7"/>
<circle cx="145.9" cy="144.8" r="1.2" fill="#bfbfc7"/>
<circle cx="137.5" cy="147.3" r="1.2" fill="#bfbfc7"/>
<circle cx="137.3" cy="145.1" r="1.2" fill="#bfbfc7"/>
<circle cx="147.6" cy="150.1" r="1.2" fill="#bfbfc7"/>
<circle cx="140.2" cy="146.2" r="1.2" fill="#bfbfc7"/>
<circle cx="132.2" cy="144.9" r="1.2" fill="#bfbfc7"/>
<circle cx="131.2" cy="147.5" r="1.2" fill="#bfbfc7"/>
<circle cx="142.3" cy="142.8" r="1.2" fill="#bfbfc7"/>
<circle cx="151.0" cy="145.1" r="1.2" fill="#bfbfc7"/>
<circle cx="149.0" cy="150.0" r="1.2" fill="#bfbfc7"/>
<circle cx="151.9" cy="143.9" r="1.2" fill="#bfbfc7"/>
<circle cx="138.4" cy="150.7" r="1.2" fill="#bfbfc7"/>
<circle cx="127.8" cy="142.5" r="1.2" fill="#bfbfc7"/>
<circle cx="141.9" cy="146.7" r="1.2" fill="#bfbfc7"/>
<circle cx="151.0" cy="149.3" r="1.2" fill="#bfbfc7"/>
<circle cx="141.2" cy="151.5" r="1.2" fill="#bfbfc7"/>
<circle cx="140.7" cy="146.9" r="1.2" fill="#bfbfc7"/>
<circle cx="145.0" cy="145.7" r="1.2" fill="#bfbfc7"/>
<circle cx="136.6" cy="147.6" r="1.2" fill="#bfbfc7"/>
<circle cx="136.5" cy="151.0" r="1.2" fill="#bfbfc7"/>
<circle cx="144.8" cy="147.0" r="1.2" fill="#bfbfc7"/>
<circle cx="130.0" cy="145.6" r="1.2" fill="#bfbfc7"/>
<circle cx="137.7" cy="147.3" r="1.2" fill="#bfbfc7"/>
<circle cx="142.1" cy="150.4" r="1.2" fill="#bfbfc7"/>
<circle cx="152.1" cy="146.6" r="1.2" fill="#bfbfc7"/>
<circle cx="138.7" cy="147.9" r="1.2" fill="#bfbfc7"/>
<circle cx="152.9" cy="145.3" r="1.2" fill="#bfbfc7"/>
<circle cx="141.0" cy="149.8" r="1.2" fill="#bfbfc7"/>
<circle cx="131.9" cy="145.0" r="1.2" fill="#bfbfc7"/>
<circle cx="152.4" cy="149.8" r="1.2" fill="#bfbfc7"/>
<circle cx="140.6" cy="143.0" r="1.2" fill="#bfbfc7"/>
<circle cx="150.3" cy="148.6" r="1.2" fill="#bfbfc7"/>
<circle cx="148.4" cy="151.4" r="1.2" fill="#bfbfc7"/>
<circle cx="150.1" cy="146.0" r="1.2" fill="#bfbfc7"/>
<circle cx="131.5" cy="144.8" r="1.2" fill="#bfbfc7"/>
<circle cx="140.5" cy="146.8" r="1.2" fill="#bfbfc7"/>
<circle cx="132.3" cy="143.7" r="1.2" fill="#bfbfc7"/>
<circle cx="143.6" cy="147.7" r="1.2" fill="#bfbfc7"/>
<circle cx="136.5" cy="151.4" r="1.2" fill="#bfbfc7"/>
<circle cx="143.7" cy="142.4" r="1.2" fill="#bfbfc7"/>
<circle cx="138.0" cy="149.5" r="1.2" fill="#bfbfc7"/>
<circle cx="135.3" cy="148.6" r="1.2" fill="#bfbfc7"/>
<circle cx="127.6" cy="144.9" r="1.2" fill="#bfbfc7"/>
<circle cx="149.0" cy="147.6" r="1.2" fill="#bfbfc7"/>
<circle cx="144.5" cy="143.9" r="1.2" fill="#bfbfc7"/>
<circle cx="140.2" cy="147.3" r="1.2" fill="#bfbfc7"/>
<circle cx="134.3" cy="148.1" r="1.2" fill="#bfbfc7"/>
<circle cx="141.1" cy="151.5" r="1.2" fill="#bfbfc7"/>
<circle cx="142.1" cy="145.9" r="1.2" fill="#bfbfc7"/>
<circle cx="130.6" cy="143.5" r="1.2" fill="#bfbfc7"/>
<circle cx="146.9" cy="143.0" r="1.2" fill="#bfbfc7"/>
<circle cx="130.1" cy="143.6" r="1.2" fill="#bfbfc7"/>
<circle cx="140.8" cy="149.8" r="1.2" fill="#bfbfc7"/>
<circle cx="143.1" cy="149.7" r="1.2" fill="#bfbfc7"/>
<circle cx="129.1" cy="142.1" r="1.2" fill="#bfbfc7"/>
<circle cx="147.1" cy="145.1" r="1.2" fill="#bfbfc7"/>
<circle cx="145.7" cy="145.4" r="1.2" fill="#bfbfc7"/>
<circle cx="131.8" cy="144.5" r="1.2" fill="#bfbfc7"/>
<circle cx="130.0" cy="150.6" r="1.2" fill="#bfbfc7"/>
<circle cx="142.3" cy="145.3" r="1.2" fill="#bfbfc7"/>
<circle cx="139.0" cy="145.7" r="1.2" fill="#bfbfc7"/>
<circle cx="128.9" cy="150.5" r="1.2" fill="#bfbfc7"/>
<circle cx="142.4" cy="151.1" r="1.2" fill="#bfbfc7"/>
<circle cx="138.7" cy="147.9" r="1.2" fill="#bfbfc7"/>
<circle cx="133.9" cy="142.4" r="1.2" fill="#bfbfc7"/>
<circle cx="151.2" cy="150.1" r="1.2" fill="#bfbfc7"/>
<circle cx="135.5" cy="150.5" r="1.2" fill="#bfbfc7"/>
<circle cx="148.3" cy="144.9" r="1.2" fill="#bfbfc7"/>
<circle cx="142.9" cy="151.1" r="1.2" fill="#bfbfc7"/>
<circle cx="140.1" cy="151.0" r="1.2" fill="#bfbfc7"/>
<circle cx="133.7" cy="145.7" r="1.2" fill="#bfbfc7"/>
<circle cx="145.8" cy="144.1" r="1.2" fill="#bfbfc7"/>
<circle cx="135.4" cy="150.3" r="1.2" fill="#bfbfc7"/>
<circle cx="139.9" cy="149.5" r="1.2" fill="#bfbfc7"/>
<circle cx="133.7" cy="143.6" r="1.2" fill="#bfbfc7"/>
<circle cx="136.6" cy="143.8" r="1.2" fill="#bfbfc7"/>
<circle cx="152.3" cy="144.8" r="1.2" fill="#bfbfc7"/>
<circle cx="141.8" cy="143.1" r="1.2" fill="#bfbfc7"/>
<circle cx="141.1" cy="145.7" r="1.2" fill="#bfbfc7"/>
<circle cx="137.8" cy="142.6" r="1.2" fill="#bfbfc7"/>
<circle cx="130.6" cy="149.8" r="1.2" fill="#bfbfc7"/>
<circle cx="136.5" cy="144.3" r="1.2" fill="#bfbfc7"/>
<circle cx="132.4" cy="144.7" r="1.2" fill="#bfbfc7"/>
<circle cx="133.5" cy="142.3" r="1.2" fill="#bfbfc7"/>
<circle cx="144.4" cy="145.2" r="1.2" fill="#bfbfc7"/>
<circle cx="131.5" cy="148.7" r="1.2" fill="#bfbfc7"/>
<circle cx="129.9" cy="144.6" r="1.2" fill="#bfbfc7"/>
<circle cx="148.8" cy="143.2" r="1.2" fill="#bfbfc7"/>
<circle cx="138.8" cy="149.9" r="1.2" fill="#bfbfc7"/>
<circle cx="148.0" cy="143.5" r="1.2" fill="#bfbfc7"/>
<circle cx="136.5" cy="148.9" r="1.2" fill="#bfbfc7"/>
<circle cx="137.1" cy="151.1" r="1.2" fill="#bfbfc7"/>
<circle cx="132.8" cy="151.0" r="1.2" fill="#bfbfc7"/>
<circle cx="140.4" cy="144.2" r="1.2" fill="#bfbfc7"/>
<circle cx="139.0" cy="143.2" r="1.2" fill="#bfbfc7"/>
<circle cx="145.5" cy="144.5" r="1.2" fill="#bfbfc7"/>
<circle cx="150.4" cy="147.6" r="1.2" fill="#bfbfc7"/>
<circle cx="136.9" cy="144.3" r="1.2" fill="#bfbfc7"/>
<circle cx="143.0" cy="144.0" r="1.2" fill="#bfbfc7"/>
<circle cx="149.7" cy="143.2" r="1.2" fill="#bfbfc7"/>
<circle cx="140.6" cy="147.2" r="1.2" fill="#bfbfc7"/>
<circle cx="134.4" cy="149.3" r="1.2" fill="#bfbfc7"/>
<circle cx="137.3" cy="148.2" r="1.2" fill="#bfbfc7"/>
<circle cx="142.0" cy="145.0" r="1.2" fill="#bfbfc7"/>
<circle cx="137.4" cy="142.8" r="1.2" fill="#bfbfc7"/>
<circle cx="132.0" cy="150.1" r="1.2" fill="#bfbfc7"/>
<circle cx="135.7" cy="148.3" r="1.2" fill="#bfbfc7"/>
<circle cx="130.3" cy="147.3" r="1.2" fill="#bfbfc7"/>
<circle cx="136.7" cy="146.8" r="1.2" fill="#bfbfc7"/>
<circle cx="135.1" cy="142.6" r="1.2" fill="#bfbfc7"/>
<circle cx="135.4" cy="144.2" r="1.2" fill="#bfbfc7"/>
<circle cx="130.7" cy="148.8" r="1.2" fill="#bfbfc7"/>
<circle cx="134.7" cy="145.8" r="1.2" fill="#bfbfc7"/>
<circle cx="150.7" cy="149.4" r="1.2" fill="#bfbfc7"/>
<circle cx="150.0" cy="150.2" r="1.2" fill="#bfbfc7"/>
<circle cx="130.9" cy="144.6" r="1.2" fill="#bfbfc7"/>
<circle cx="128.3" cy="148.5" r="1.2" fill="#bfbfc7"/>
<circle cx="144.4" cy="145.3" r="1.2" fill="#bfbfc7"/>
<circle cx="138.0" cy="148.3" r="1.2" fill="#bfbfc7"/>
<circle cx="145.3" cy="144.4" r="1.2" fill="#bfbfc7"/>
<circle cx="149.1" cy="145.3" r="1.2" fill="#bfbfc7"/>
<circle cx="143.5" cy="143.7" r="1.2" fill="#bfbfc7"/>
<circle cx="130.4" cy="150.7" r="1.2" fill="#bfbfc7"/>
<circle cx="146.2" cy="148.8" r="1.2" fill="#bfbfc7"/>
<circle cx="128.5" cy="142.4" r="1.2" fill="#bfbfc7"/>
<circle cx="131.6" cy="143.9" r="1.2" fill="#bfbfc7"/>
<circle cx="135.2" cy="145.6" r="1.2" fill="#bfbfc7"/>
<circle cx="128.5" cy="145.0" r="1.2" fill="#bfbfc7"/>
<circle cx="143.8" cy="143.7" r="1.2" fill="#bfbfc7"/>
<circle cx="148.9" cy="147.4" r="1.2" fill="#bfbfc7"/>
<circle cx="145.8" cy="144.4" r="1.2" fill="#bfbfc7"/>
<circle cx="147.3" cy="84.6" r="1.2" fill="#bfbfc7"/>
<circle cx="146.5" cy="62.0" r="1.2" fill="#bfbfc7"/>
<circle cx="151.3" cy="87.6" r="1.2" fill="#bfbfc7"/>
<circle cx="145.9" cy="63.4" r="1.2" fill="#bfbfc7"/>
<circle cx="151.5" cy="82.0" r="1.2" fill="#bfbfc7"/>
<circle cx="143.5" cy="70.1" r="1.2" fill="#bfbfc7"/>
<circle cx="144.1" cy="88.1" r="1.2" fill="#bfbfc7"/>
<circle cx="145.1" cy="92.2" r="1.2" fill="#bfbfc7"/>
<circle cx="150.5" cy="64.8" r="1.2" fill="#bfbfc7"/>
<circle cx="149.9" cy="75.0" r="1.2" fill="#bfbfc7"/>
<circle cx="150.5" cy="89.3" r="1.2" fill="#bfbfc7"/>
<circle cx="145.8" cy="65.0" r="1.2" fill="#bfbfc7"/>
<circle cx="152.5" cy="76.0" r="1.2" fill="#bfbfc7"/>
<circle cx="152.3" cy="84.8" r="1.2" fill="#bfbfc7"/>
<circle cx="150.4" cy="89.4" r="1.2" fill="#bfbfc7"/>
<circle cx="149.3" cy="76.9" r="1.2" fill="#bfbfc7"/>
<circle cx="143.5" cy="85.0" r="1.2" fill="#bfbfc7"/>
<circle cx="147.3" cy="78.9" r="1.2" fill="#bfbfc7"/>
<circle cx="152.3" cy="66.2" r="1.2" fill="#bfbfc7"/>
<circle cx="150.6" cy="63.4" r="1.2" fill="#bfbfc7"/>
<circle cx="150.0" cy="88.6" r="1.2" fill="#bfbfc7"/>
<circle cx="145.6" cy="80.0" r="1.2" fill="#bfbfc7"/>
<circle cx="152.7" cy="83.0" r="1.2" fill="#bfbfc7"/>
<circle cx="148.4" cy="70.2" r="1.2" fill="#bfbfc7"/>
<circle cx="143.6" cy="73.8" r="1.2" fill="#bfbfc7"/>
<circle cx="147.1" cy="68.6" r="1.2" fill="#bfbfc7"/>
<circle cx="146.1" cy="66.5" r="1.2" fill="#bfbfc7"/>
<circle cx="150.1" cy="84.1" r="1.2" fill="#bfbfc7"/>
<circle cx="145.4" cy="70.0" r="1.2" fill="#bfbfc7"/>
<circle cx="148.2" cy="76.7" r="1.2" fill="#bfbfc7"/>
<circle cx="152.4" cy="73.6" r="1.2" fill="#bfbfc7"/>
<circle cx="146.0" cy="91.2" r="1.2" fill="#bfbfc7"/>
<circle cx="144.4" cy="80.6" r="1.2" fill="#bfbfc7"/>
<circle cx="146.3" cy="88.9" r="1.2" fill="#bfbfc7"/>
<circle cx="148.5" cy="87.1" r="1.2" fill="#bfbfc7"/>
<circle cx="144.7" cy="84.0" r="1.2" fill="#bfbfc7"/>
<circle cx="149.0" cy="77.2" r="1.2" fill="#bfbfc7"/>
<circle cx="150.7" cy="89.4" r="1.2" fill="#bfbfc7"/>
<circle cx="144.1" cy="71.5" r="1.2" fill="#bfbfc7"/>
<circle cx="146.6" cy="68.8" r="1.2" fill="#bfbfc7"/>
<circle cx="143.6" cy="71.3" r="1.2" fill="#bfbfc7"/>
<circle cx="145.0" cy="85.2" r="1.2" fill="#bfbfc7"/>
<circle cx="147.5" cy="65.7" r="1.2" fill="#bfbfc7"/>
<circle cx="146.2" cy="77.5" r="1.2" fill="#bfbfc7"/>
<circle cx="146.6" cy="67.5" r="1.2" fill="#bfbfc7"/>
<circle cx="143.7" cy="62.4" r="1.2" fill="#bfbfc7"/>
<circle cx="152.9" cy="86.8" r="1.2" fill="#bfbfc7"/>
<circle cx="143.8" cy="85.7" r="1.2" fill="#bfbfc7"/>
<circle cx="152.8" cy="80.6" r="1.2" fill="#bfbfc7"/>
<circle cx="144.1" cy="78.1" r="1.2" fill="#bfbfc7"/>
<circle cx="147.3" cy="68.3" r="1.2" fill="#bfbfc7"/>
<circle cx="148.4" cy="62.3" r="1.2" fill="#bfbfc7"/>
<circle cx="152.2" cy="83.3" r="1.2" fill="#bfbfc7"/>
<circle cx="149.3" cy="92.9" r="1.2" fill="#bfbfc7"/>
<circle cx="149.5" cy="70.3" r="1.2" fill="#bfbfc7"/>
<circle cx="145.5" cy="66.6" r="1.2" fill="#bfbfc7"/>
<circle cx="143.3" cy="87.6" r="1.2" fill="#bfbfc7"/>
<circle cx="151.4" cy="71.8" r="1.2" fill="#bfbfc7"/>
<circle cx="144.9" cy="83.1" r="1.2" fill="#bfbfc7"/>
<circle cx="151.5" cy="92.6" r="1.2" fill="#bfbfc7"/>
<circle cx="144.7" cy="87.9" r="1.2" fill="#bfbfc7"/>
<circle cx="151.3" cy="86.5" r="1.2" fill="#bfbfc7"/>
<circle cx="146.3" cy="68.1" r="1.2" fill="#bfbfc7"/>
<circle cx="151.3" cy="72.6" r="1.2" fill="#bfbfc7"/>
<circle cx="146.7" cy="80.2" r="1.2" fill="#bfbfc7"/>
<circle cx="146.7" cy="89.4" r="1.2" fill="#bfbfc7"/>
<circle cx="145.4" cy="63.4" r="1.2" fill="#bfbfc7"/>
<circle cx="148.7" cy="82.7" r="1.2" fill="#bfbfc7"/>
<circle cx="151.2" cy="85.3" r="1.2" fill="#bfbfc7"/>
<circle cx="152.1" cy="93.2" r="1.2" fill="#bfbfc7"/>
<circle cx="147.9" cy="78.5" r="1.2" fill="#bfbfc7"/>
<circle cx="144.6" cy="71.9" r="1.2" fill="#bfbfc7"/>
<circle cx="148.8" cy="64.6" r="1.2" fill="#bfbfc7"/>
<circle cx="149.9" cy="67.4" r="1.2" fill="#bfbfc7"/>
<circle cx="147.4" cy="94.0" r="1.2" fill="#bfbfc7"/>
<circle cx="143.9" cy="63.3" r="1.2" fill="#bfbfc7"/>
<circle cx="147.4" cy="68.3" r="1.2" fill="#bfbfc7"/>
<circle cx="150.2" cy="62.1" r="1.2" fill="#bfbfc7"/>
<circle cx="151.4" cy="90.2" r="1.2" fill="#bfbfc7"/>
<circle cx="150.9" cy="76.0" r="1.2" fill="#bfbfc7"/>
<circle cx="145.8" cy="83.8" r="1.2" fill="#bfbfc7"/>
<circle cx="148.1" cy="75.9" r="1.2" fill="#bfbfc7"/>
<circle cx="146.4" cy="76.5" r="1.2" fill="#bfbfc7"/>
<circle cx="149.7" cy="89.3" r="1.2" fill="#bfbfc7"/>
<circle cx="152.0" cy="67.4" r="1.2" fill="#bfbfc7"/>
<circle cx="146.0" cy="76.6" r="1.2" fill="#bfbfc7"/>
<circle cx="148.6" cy="73.5" r="1.2" fill="#bfbfc7"/>
<circle cx="145.0" cy="64.8" r="1.2" fill="#bfbfc7"/>
<circle cx="146.2" cy="77.2" r="1.2" fill="#bfbfc7"/>
<circle cx="152.7" cy="92.0" r="1.2" fill="#bfbfc7"/>
<circle cx="151.7" cy="94.2" r="1.2" fill="#bfbfc7"/>
<circle cx="152.6" cy="82.5" r="1.2" fill="#bfbfc7"/>
<circle cx="151.1" cy="64.0" r="1.2" fill="#bfbfc7"/>
<circle cx="149.8" cy="82.1" r="1.2" fill="#bfbfc7"/>
<circle cx="146.0" cy="80.8" r="1.2" fill="#bfbfc7"/>
<circle cx="152.5" cy="77.9" r="1.2" fill="#bfbfc7"/>
<circle cx="149.5" cy="71.9" r="1.2" fill="#bfbfc7"/>
<circle cx="146.4" cy="91.2" r="1.2" fill="#bfbfc7"/>
<circle cx="143.3" cy="68.2" r="1.2" fill="#bfbfc7"/>
<circle cx="149.8" cy="76.8" r="1.2" fill="#bfbfc7"/>
<circle cx="143.9" cy="83.8" r="1.2" fill="#bfbfc7"/>
<circle cx="146.7" cy="81.2" r="1.2" fill="#bfbfc7"/>
<circle cx="147.2" cy="79.5" r="1.2" fill="#bfbfc7"/>
<circle cx="148.6" cy="75.1" r="1.2" fill="#bfbfc7"/>
<circle cx="144.1" cy="68.0" r="1.2" fill="#bfbfc7"/>
<circle cx="151.9" cy="80.1" r="1.2" fill="#bfbfc7"/>
<circle cx="144.1" cy="90.5" r="1.2" fill="#bfbfc7"/>
<circle cx="145.5" cy="65.1" r="1.2" fill="#bfbfc7"/>
<circle cx="148.3" cy="70.3" r="1.2" fill="#bfbfc7"/>
<circle cx="147.9" cy="80.3" r="1.2" fill="#bfbfc7"/>
<circle cx="145.3" cy="80.9" r="1.2" fill="#bfbfc7"/>
<circle cx="144.1" cy="78.9" r="1.2" fill="#bfbfc7"/>
<circle cx="148.9" cy="64.6" r="1.2" fill="#bfbfc7"/>
<circle cx="147.1" cy="64.4" r="1.2" fill="#bfbfc7"/>
<circle cx="147.4" cy="90.5" r="1.2" fill="#bfbfc7"/>
<circle cx="148.5" cy="85.6" r="1.2" fill="#bfbfc7"/>
<circle cx="150.6" cy="65.8" r="1.2" fill="#bfbfc7"/>
<circle cx="152.9" cy="85.8" r="1.2" fill="#bfbfc7"/>
<circle cx="144.0" cy="89.4" r="1.2" fill="#bfbfc7"/>
<circle cx="146.9" cy="67.7" r="1.2" fill="#bfbfc7"/>
<circle cx="152.6" cy="80.6" r="1.2" fill="#bfbfc7"/>
<circle cx="150.7" cy="66.5" r="1.2" fill="#bfbfc7"/>
<circle cx="150.8" cy="63.9" r="1.2" fill="#bfbfc7"/>
<circle cx="145.4" cy="74.3" r="1.2" fill="#bfbfc7"/>
<circle cx="143.2" cy="81.6" r="1.2" fill="#bfbfc7"/>
<circle cx="128.0" cy="72.5" r="1.2" fill="#bfbfc7"/>
<circle cx="129.7" cy="72.5" r="1.2" fill="#bfbfc7"/>
<circle cx="133.3" cy="72.5" r="1.2" fill="#bfbfc7"/>
<circle cx="134.9" cy="72.5" r="1.2" fill="#bfbfc7"/>
<circle cx="138.0" cy="72.5" r="1.2" fill="#bfbfc7"/>
<circle cx="139.6" cy="72.5" r="1.2" fill="#bfbfc7"/>
<circle cx="141.3" cy="72.5" r="1.2" fill="#bfbfc7"/>
<circle cx="142.5" cy="72.5" r="1.2" fill="#bfbfc7"/>
<circle cx="128.4" cy="79.2" r="1.2" fill="#bfbfc7"/>
<circle cx="129.2" cy="79.2" r="1.2" fill="#bfbfc7"/>
<circle cx="130.9" cy="79.2" r="1.2" fill="#bfbfc7"/>
<circle cx="133.0" cy="79.2" r="1.2" fill="#bfbfc7"/>
<circle cx="134.7" cy="79.2" r="1.2" fill="#bfbfc7"/>
<circle cx="135.8" cy="79.2" r="1.2" fill="#bfbfc7"/>
<circle cx="137.6" cy="79.2" r="1.2" fill="#bfbfc7"/>
<circle cx="139.3" cy="79.2" r="1.2" fill="#bfbfc7"/>
<circle cx="140.4" cy="79.2" r="1.2" fill="#bfbfc7"/>
<circle cx="142.6" cy="79.2" r="1.2" fill="#bfbfc7"/>
<circle cx="130.0" cy="85.5" r="1.2" fill="#bfbfc7"/>
<circle cx="131.7" cy="85.5" r="1.2" fill="#bfbfc7"/>
<circle cx="132.9" cy="85.5" r="1.2" fill="#bfbfc7"/>
<circle cx="136.6" cy="85.5" r="1.2" fill="#bfbfc7"/>
<circle cx="138.4" cy="85.5" r="1.2" fill="#bfbfc7"/>
<circle cx="139.5" cy="85.5" r="1.2" fill="#bfbfc7"/>
<circle cx="141.2" cy="85.5" r="1.2" fill="#bfbfc7"/>
<circle cx="131.6" cy="89.8" r="1.2" fill="#bfbfc7"/>
<circle cx="133.9" cy="89.8" r="1.2" fill="#bfbfc7"/>
<circle cx="135.1" cy="89.8" r="1.2" fill="#bfbfc7"/>
<circle cx="136.5" cy="89.8" r="1.2" fill="#bfbfc7"/>
<circle cx="138.3" cy="89.8" r="1.2" fill="#bfbfc7"/>
<circle cx="141.3" cy="89.8" r="1.2" fill="#bfbfc7"/>
<circle cx="128.8" cy="93.7" r="1.2" fill="#bfbfc7"/>
<circle cx="131.8" cy="93.7" r="1.2" fill="#bfbfc7"/>
<circle cx="133.7" cy="93.7" r="1.2" fill="#bfbfc7"/>
<circle cx="135.5" cy="93.7" r="1.2" fill="#bfbfc7"/>
<circle cx="136.9" cy="93.7" r="1.2" fill="#bfbfc7"/>
<circle cx="138.7" cy="93.7" r="1.2" fill="#bfbfc7"/>
<circle cx="139.8" cy="93.7" r="1.2" fill="#bfbfc7"/>
<circle cx="142.2" cy="93.7" r="1.2" fill="#bfbfc7"/>
<circle cx="158.0" cy="93.7" r="1.2" fill="#bfbfc7"/>
<circle cx="163.3" cy="93.7" r="1.2" fill="#bfbfc7"/>
<circle cx="158.0" cy="104.0" r="1.2" fill="#bfbfc7"/>
<circle cx="163.0" cy="104.0" r="1.2" fill="#bfbfc7"/>
<circle cx="158.0" cy="107.0" r="1.2" fill="#bfbfc7"/>
<circle cx="163.0" cy="107.0" r="1.2" fill="#bfbfc7"/>
<circle cx="155.0" cy="85.0" r="1.2" fill="#bfbfc7"/>
<circle cx="154.0" cy="75.0" r="1.2" fill="#bfbfc7"/>
<circle cx="156.0" cy="118.0" r="1.2" fill="#bfbfc7"/>
<circle cx="156.0" cy="127.0" r="1.2" fill="#bfbfc7"/>
<line x1="65.50" y1="60.70" x2="227.00" y2="60.70" stroke="#111" stroke-width="1.2" stroke-dasharray="3.2 3.1499999999999995"/>
<rect x="58.00" y="22.70" width="176.00" height="142.90" fill="none" stroke="#1e1e1e" stroke-width="1.25"/>
<line x1="55.00" y1="34.40" x2="58.00" y2="34.40" stroke="#222" stroke-width="1"/>
<text x="51.70" y="37.30" font-size="8.2" fill="#2b2b2b" stroke="#2b2b2b" text-anchor="end" textLength="15.00" lengthAdjust="spacingAndGlyphs">1.00</text>
<line x1="55.00" y1="67.30" x2="58.00" y2="67.30" stroke="#222" stroke-width="1"/>
<text x="51.70" y="70.20" font-size="8.2" fill="#2b2b2b" stroke="#2b2b2b" text-anchor="end" textLength="15.00" lengthAdjust="spacingAndGlyphs">0.75</text>
<line x1="55.00" y1="100.20" x2="58.00" y2="100.20" stroke="#222" stroke-width="1"/>
<text x="51.70" y="103.10" font-size="8.2" fill="#2b2b2b" stroke="#2b2b2b" text-anchor="end" textLength="15.00" lengthAdjust="spacingAndGlyphs">0.50</text>
<line x1="55.00" y1="133.10" x2="58.00" y2="133.10" stroke="#222" stroke-width="1"/>
<text x="51.70" y="136.00" font-size="8.2" fill="#2b2b2b" stroke="#2b2b2b" text-anchor="end" textLength="15.00" lengthAdjust="spacingAndGlyphs">0.25</text>
<text transform="translate(30.50 93.65) rotate(-90)" font-size="9.8" fill="#2b2b2b" stroke="#2b2b2b" text-anchor="middle" textLength="66.5" lengthAdjust="spacingAndGlyphs">r<tspan font-size="6" dy="-3.6">2</tspan><tspan dy="3.6"> with rs74355478</tspan></text>
<rect x="58.00" y="169.80" width="176.00" height="17.50" fill="none" stroke="#1e1e1e" stroke-width="1.25"/>
<line x1="138.20" y1="175.00" x2="175.80" y2="175.00" stroke="#1f4e7a" stroke-width="1.6"/>
<path d="M174.30 172.60 L180.80 175.00 L174.30 177.40 Z" fill="#1f4e7a"/>
<text x="160.00" y="184.70" font-size="8.2" fill="#2b2b2b" stroke="#2b2b2b" text-anchor="middle" textLength="20.50" lengthAdjust="spacingAndGlyphs">LGR6</text>
<line x1="87.10" y1="187.30" x2="87.10" y2="190.10" stroke="#222" stroke-width="1"/>
<text transform="translate(90.50 197.00) rotate(-45)" font-size="8.2" fill="#2b2b2b" stroke="#2b2b2b" text-anchor="end">202000</text>
<line x1="119.20" y1="187.30" x2="119.20" y2="190.10" stroke="#222" stroke-width="1"/>
<text transform="translate(122.60 197.00) rotate(-45)" font-size="8.2" fill="#2b2b2b" stroke="#2b2b2b" text-anchor="end">202100</text>
<line x1="151.20" y1="187.30" x2="151.20" y2="190.10" stroke="#222" stroke-width="1"/>
<text transform="translate(154.60 197.00) rotate(-45)" font-size="8.2" fill="#2b2b2b" stroke="#2b2b2b" text-anchor="end">202200</text>
<line x1="183.20" y1="187.30" x2="183.20" y2="190.10" stroke="#222" stroke-width="1"/>
<text transform="translate(186.60 197.00) rotate(-45)" font-size="8.2" fill="#2b2b2b" stroke="#2b2b2b" text-anchor="end">202300</text>
<line x1="215.20" y1="187.30" x2="215.20" y2="190.10" stroke="#222" stroke-width="1"/>
<text transform="translate(218.60 197.00) rotate(-45)" font-size="8.2" fill="#2b2b2b" stroke="#2b2b2b" text-anchor="end">202400</text>
<text x="146.60" y="229.10" font-size="9.4" fill="#2b2b2b" stroke="#2b2b2b" text-anchor="middle" textLength="107.70" lengthAdjust="spacingAndGlyphs">Position on chromosome 1 (Kb)</text>
<rect x="332.4" y="152.0" width="143" height="7.6" fill="#bfbfc7"/>
<circle cx="339.0" cy="150.9" r="1.2" fill="#bfbfc7"/>
<circle cx="428.4" cy="152.0" r="1.2" fill="#bfbfc7"/>
<circle cx="371.6" cy="154.2" r="1.2" fill="#bfbfc7"/>
<circle cx="370.0" cy="154.8" r="1.2" fill="#bfbfc7"/>
<circle cx="408.0" cy="158.4" r="1.2" fill="#bfbfc7"/>
<circle cx="474.4" cy="149.8" r="1.2" fill="#bfbfc7"/>
<circle cx="412.7" cy="156.7" r="1.2" fill="#bfbfc7"/>
<circle cx="457.3" cy="156.7" r="1.2" fill="#bfbfc7"/>
<circle cx="423.0" cy="155.4" r="1.2" fill="#bfbfc7"/>
<circle cx="384.4" cy="152.1" r="1.2" fill="#bfbfc7"/>
<circle cx="446.2" cy="157.6" r="1.2" fill="#bfbfc7"/>
<circle cx="466.7" cy="155.8" r="1.2" fill="#bfbfc7"/>
<circle cx="376.0" cy="156.6" r="1.2" fill="#bfbfc7"/>
<circle cx="438.3" cy="154.2" r="1.2" fill="#bfbfc7"/>
<circle cx="423.3" cy="152.8" r="1.2" fill="#bfbfc7"/>
<circle cx="411.3" cy="153.3" r="1.2" fill="#bfbfc7"/>
<circle cx="341.1" cy="152.6" r="1.2" fill="#bfbfc7"/>
<circle cx="378.7" cy="158.7" r="1.2" fill="#bfbfc7"/>
<circle cx="401.3" cy="152.9" r="1.2" fill="#bfbfc7"/>
<circle cx="367.3" cy="151.7" r="1.2" fill="#bfbfc7"/>
<circle cx="382.4" cy="150.8" r="1.2" fill="#bfbfc7"/>
<circle cx="333.5" cy="157.6" r="1.2" fill="#bfbfc7"/>
<circle cx="397.3" cy="153.6" r="1.2" fill="#bfbfc7"/>
<circle cx="413.8" cy="152.3" r="1.2" fill="#bfbfc7"/>
<circle cx="356.7" cy="150.1" r="1.2" fill="#bfbfc7"/>
<circle cx="375.6" cy="152.4" r="1.2" fill="#bfbfc7"/>
<circle cx="436.4" cy="154.6" r="1.2" fill="#bfbfc7"/>
<circle cx="466.6" cy="152.7" r="1.2" fill="#bfbfc7"/>
<circle cx="464.2" cy="154.9" r="1.2" fill="#bfbfc7"/>
<circle cx="343.9" cy="151.2" r="1.2" fill="#bfbfc7"/>
<circle cx="415.5" cy="158.7" r="1.2" fill="#bfbfc7"/>
<circle cx="383.5" cy="156.7" r="1.2" fill="#bfbfc7"/>
<circle cx="393.7" cy="157.6" r="1.2" fill="#bfbfc7"/>
<circle cx="342.2" cy="154.0" r="1.2" fill="#bfbfc7"/>
<circle cx="461.1" cy="152.1" r="1.2" fill="#bfbfc7"/>
<circle cx="369.3" cy="149.7" r="1.2" fill="#bfbfc7"/>
<circle cx="356.0" cy="152.0" r="1.2" fill="#bfbfc7"/>
<circle cx="433.2" cy="151.5" r="1.2" fill="#bfbfc7"/>
<circle cx="389.6" cy="151.4" r="1.2" fill="#bfbfc7"/>
<circle cx="418.7" cy="157.5" r="1.2" fill="#bfbfc7"/>
<circle cx="425.2" cy="151.3" r="1.2" fill="#bfbfc7"/>
<circle cx="437.4" cy="158.5" r="1.2" fill="#bfbfc7"/>
<circle cx="418.4" cy="150.2" r="1.2" fill="#bfbfc7"/>
<circle cx="448.3" cy="157.6" r="1.2" fill="#bfbfc7"/>
<circle cx="381.3" cy="150.8" r="1.2" fill="#bfbfc7"/>
<circle cx="359.4" cy="154.5" r="1.2" fill="#bfbfc7"/>
<circle cx="457.7" cy="155.5" r="1.2" fill="#bfbfc7"/>
<circle cx="464.5" cy="151.5" r="1.2" fill="#bfbfc7"/>
<circle cx="379.2" cy="156.5" r="1.2" fill="#bfbfc7"/>
<circle cx="425.3" cy="153.3" r="1.2" fill="#bfbfc7"/>
<circle cx="429.6" cy="152.6" r="1.2" fill="#bfbfc7"/>
<circle cx="340.7" cy="153.4" r="1.2" fill="#bfbfc7"/>
<circle cx="339.0" cy="155.3" r="1.2" fill="#bfbfc7"/>
<circle cx="380.3" cy="154.1" r="1.2" fill="#bfbfc7"/>
<circle cx="418.0" cy="151.9" r="1.2" fill="#bfbfc7"/>
<circle cx="398.8" cy="149.6" r="1.2" fill="#bfbfc7"/>
<circle cx="464.8" cy="154.7" r="1.2" fill="#bfbfc7"/>
<circle cx="473.7" cy="150.0" r="1.2" fill="#bfbfc7"/>
<circle cx="420.3" cy="156.2" r="1.2" fill="#bfbfc7"/>
<circle cx="379.6" cy="150.4" r="1.2" fill="#bfbfc7"/>
<circle cx="354.8" cy="150.8" r="1.2" fill="#bfbfc7"/>
<circle cx="442.2" cy="150.3" r="1.2" fill="#bfbfc7"/>
<circle cx="448.9" cy="153.4" r="1.2" fill="#bfbfc7"/>
<circle cx="409.5" cy="155.0" r="1.2" fill="#bfbfc7"/>
<circle cx="411.9" cy="155.6" r="1.2" fill="#bfbfc7"/>
<circle cx="418.5" cy="152.6" r="1.2" fill="#bfbfc7"/>
<circle cx="438.5" cy="151.9" r="1.2" fill="#bfbfc7"/>
<circle cx="434.2" cy="156.6" r="1.2" fill="#bfbfc7"/>
<circle cx="443.5" cy="152.4" r="1.2" fill="#bfbfc7"/>
<circle cx="443.0" cy="158.6" r="1.2" fill="#bfbfc7"/>
<circle cx="397.3" cy="152.1" r="1.2" fill="#bfbfc7"/>
<circle cx="407.3" cy="158.3" r="1.2" fill="#bfbfc7"/>
<circle cx="351.4" cy="149.6" r="1.2" fill="#bfbfc7"/>
<circle cx="400.5" cy="155.6" r="1.2" fill="#bfbfc7"/>
<circle cx="443.2" cy="152.9" r="1.2" fill="#bfbfc7"/>
<circle cx="474.0" cy="151.6" r="1.2" fill="#bfbfc7"/>
<circle cx="440.7" cy="150.3" r="1.2" fill="#bfbfc7"/>
<circle cx="336.5" cy="150.7" r="1.2" fill="#bfbfc7"/>
<circle cx="341.1" cy="154.2" r="1.2" fill="#bfbfc7"/>
<circle cx="411.9" cy="151.2" r="1.2" fill="#bfbfc7"/>
<circle cx="466.9" cy="152.9" r="1.2" fill="#bfbfc7"/>
<circle cx="353.9" cy="151.2" r="1.2" fill="#bfbfc7"/>
<circle cx="438.0" cy="158.1" r="1.2" fill="#bfbfc7"/>
<circle cx="355.7" cy="149.8" r="1.2" fill="#bfbfc7"/>
<circle cx="443.8" cy="151.8" r="1.2" fill="#bfbfc7"/>
<circle cx="473.0" cy="154.1" r="1.2" fill="#bfbfc7"/>
<circle cx="423.5" cy="152.7" r="1.2" fill="#bfbfc7"/>
<circle cx="447.0" cy="153.8" r="1.2" fill="#bfbfc7"/>
<circle cx="378.8" cy="157.9" r="1.2" fill="#bfbfc7"/>
<circle cx="347.9" cy="156.3" r="1.2" fill="#bfbfc7"/>
<circle cx="341.9" cy="155.5" r="1.2" fill="#bfbfc7"/>
<circle cx="390.0" cy="157.5" r="1.2" fill="#bfbfc7"/>
<circle cx="341.1" cy="154.7" r="1.2" fill="#bfbfc7"/>
<circle cx="391.1" cy="158.0" r="1.2" fill="#bfbfc7"/>
<circle cx="467.6" cy="155.3" r="1.2" fill="#bfbfc7"/>
<circle cx="364.5" cy="151.8" r="1.2" fill="#bfbfc7"/>
<circle cx="370.0" cy="153.5" r="1.2" fill="#bfbfc7"/>
<circle cx="365.6" cy="151.4" r="1.2" fill="#bfbfc7"/>
<circle cx="441.1" cy="155.5" r="1.2" fill="#bfbfc7"/>
<circle cx="375.2" cy="158.7" r="1.2" fill="#bfbfc7"/>
<circle cx="363.5" cy="154.8" r="1.2" fill="#bfbfc7"/>
<circle cx="354.9" cy="157.5" r="1.2" fill="#bfbfc7"/>
<circle cx="456.8" cy="152.0" r="1.2" fill="#bfbfc7"/>
<circle cx="440.0" cy="157.2" r="1.2" fill="#bfbfc7"/>
<circle cx="372.9" cy="152.6" r="1.2" fill="#bfbfc7"/>
<circle cx="401.9" cy="157.8" r="1.2" fill="#bfbfc7"/>
<circle cx="355.6" cy="155.8" r="1.2" fill="#bfbfc7"/>
<circle cx="418.0" cy="153.7" r="1.2" fill="#bfbfc7"/>
<circle cx="415.3" cy="157.7" r="1.2" fill="#bfbfc7"/>
<circle cx="362.5" cy="157.7" r="1.2" fill="#bfbfc7"/>
<circle cx="384.0" cy="156.8" r="1.2" fill="#bfbfc7"/>
<circle cx="456.0" cy="151.2" r="1.2" fill="#bfbfc7"/>
<circle cx="456.0" cy="158.8" r="1.2" fill="#bfbfc7"/>
<circle cx="375.1" cy="149.7" r="1.2" fill="#bfbfc7"/>
<circle cx="348.5" cy="158.6" r="1.2" fill="#bfbfc7"/>
<circle cx="333.8" cy="158.0" r="1.2" fill="#bfbfc7"/>
<circle cx="354.1" cy="156.3" r="1.2" fill="#bfbfc7"/>
<circle cx="346.4" cy="151.1" r="1.2" fill="#bfbfc7"/>
<circle cx="430.1" cy="150.3" r="1.2" fill="#bfbfc7"/>
<circle cx="381.1" cy="158.0" r="1.2" fill="#bfbfc7"/>
<circle cx="434.9" cy="157.7" r="1.2" fill="#bfbfc7"/>
<circle cx="472.6" cy="149.8" r="1.2" fill="#bfbfc7"/>
<circle cx="366.0" cy="156.9" r="1.2" fill="#bfbfc7"/>
<circle cx="431.1" cy="149.9" r="1.2" fill="#bfbfc7"/>
<circle cx="404.7" cy="151.7" r="1.2" fill="#bfbfc7"/>
<circle cx="394.1" cy="150.5" r="1.2" fill="#bfbfc7"/>
<circle cx="335.4" cy="158.7" r="1.2" fill="#bfbfc7"/>
<circle cx="377.8" cy="157.7" r="1.2" fill="#bfbfc7"/>
<circle cx="349.7" cy="154.0" r="1.2" fill="#bfbfc7"/>
<circle cx="351.9" cy="153.5" r="1.2" fill="#bfbfc7"/>
<circle cx="358.1" cy="155.9" r="1.2" fill="#bfbfc7"/>
<circle cx="353.7" cy="156.4" r="1.2" fill="#bfbfc7"/>
<circle cx="404.1" cy="150.5" r="1.2" fill="#bfbfc7"/>
<circle cx="383.1" cy="154.1" r="1.2" fill="#bfbfc7"/>
<circle cx="463.9" cy="152.7" r="1.2" fill="#bfbfc7"/>
<circle cx="363.3" cy="158.5" r="1.2" fill="#bfbfc7"/>
<circle cx="458.8" cy="156.3" r="1.2" fill="#bfbfc7"/>
<circle cx="371.5" cy="151.1" r="1.2" fill="#bfbfc7"/>
<circle cx="370.3" cy="150.1" r="1.2" fill="#bfbfc7"/>
<circle cx="338.7" cy="154.2" r="1.2" fill="#bfbfc7"/>
<circle cx="390.9" cy="154.7" r="1.2" fill="#bfbfc7"/>
<circle cx="384.4" cy="149.6" r="1.2" fill="#bfbfc7"/>
<circle cx="430.9" cy="155.6" r="1.2" fill="#bfbfc7"/>
<circle cx="410.3" cy="154.6" r="1.2" fill="#bfbfc7"/>
<circle cx="431.2" cy="158.6" r="1.2" fill="#bfbfc7"/>
<circle cx="457.5" cy="156.2" r="1.2" fill="#bfbfc7"/>
<circle cx="389.6" cy="152.5" r="1.2" fill="#bfbfc7"/>
<circle cx="392.4" cy="158.5" r="1.2" fill="#bfbfc7"/>
<circle cx="387.9" cy="153.1" r="1.2" fill="#bfbfc7"/>
<circle cx="391.1" cy="150.8" r="1.2" fill="#bfbfc7"/>
<circle cx="475.3" cy="149.5" r="1.2" fill="#bfbfc7"/>
<circle cx="419.4" cy="158.1" r="1.2" fill="#bfbfc7"/>
<circle cx="368.9" cy="155.2" r="1.2" fill="#bfbfc7"/>
<circle cx="386.4" cy="151.7" r="1.2" fill="#bfbfc7"/>
<circle cx="360.9" cy="150.6" r="1.2" fill="#bfbfc7"/>
<circle cx="453.1" cy="156.8" r="1.2" fill="#bfbfc7"/>
<circle cx="462.4" cy="150.0" r="1.2" fill="#bfbfc7"/>
<circle cx="431.8" cy="152.5" r="1.2" fill="#bfbfc7"/>
<circle cx="424.9" cy="154.6" r="1.2" fill="#bfbfc7"/>
<circle cx="377.6" cy="158.5" r="1.2" fill="#bfbfc7"/>
<circle cx="332.6" cy="156.4" r="1.2" fill="#bfbfc7"/>
<circle cx="454.5" cy="154.2" r="1.2" fill="#bfbfc7"/>
<circle cx="417.2" cy="158.8" r="1.2" fill="#bfbfc7"/>
<circle cx="366.0" cy="155.4" r="1.2" fill="#bfbfc7"/>
<circle cx="438.8" cy="153.0" r="1.2" fill="#bfbfc7"/>
<circle cx="434.3" cy="153.2" r="1.2" fill="#bfbfc7"/>
<circle cx="407.8" cy="155.2" r="1.2" fill="#bfbfc7"/>
<circle cx="429.3" cy="152.5" r="1.2" fill="#bfbfc7"/>
<circle cx="422.4" cy="154.6" r="1.2" fill="#bfbfc7"/>
<circle cx="364.4" cy="155.2" r="1.2" fill="#bfbfc7"/>
<circle cx="370.4" cy="158.0" r="1.2" fill="#bfbfc7"/>
<circle cx="400.2" cy="156.2" r="1.2" fill="#bfbfc7"/>
<circle cx="407.2" cy="153.9" r="1.2" fill="#bfbfc7"/>
<circle cx="364.1" cy="150.8" r="1.2" fill="#bfbfc7"/>
<circle cx="465.1" cy="154.4" r="1.2" fill="#bfbfc7"/>
<circle cx="407.4" cy="154.4" r="1.2" fill="#bfbfc7"/>
<circle cx="448.8" cy="151.7" r="1.2" fill="#bfbfc7"/>
<circle cx="357.1" cy="157.1" r="1.2" fill="#bfbfc7"/>
<circle cx="398.3" cy="155.5" r="1.2" fill="#bfbfc7"/>
<circle cx="450.8" cy="157.8" r="1.2" fill="#bfbfc7"/>
<circle cx="456.6" cy="149.9" r="1.2" fill="#bfbfc7"/>
<circle cx="387.0" cy="157.2" r="1.2" fill="#bfbfc7"/>
<circle cx="449.4" cy="150.6" r="1.2" fill="#bfbfc7"/>
<circle cx="354.5" cy="151.8" r="1.2" fill="#bfbfc7"/>
<circle cx="347.2" cy="152.8" r="1.2" fill="#bfbfc7"/>
<circle cx="447.4" cy="154.3" r="1.2" fill="#bfbfc7"/>
<circle cx="397.3" cy="150.3" r="1.2" fill="#bfbfc7"/>
<circle cx="389.1" cy="158.8" r="1.2" fill="#bfbfc7"/>
<circle cx="431.9" cy="153.7" r="1.2" fill="#bfbfc7"/>
<circle cx="400.9" cy="156.9" r="1.2" fill="#bfbfc7"/>
<circle cx="441.0" cy="150.9" r="1.2" fill="#bfbfc7"/>
<circle cx="429.8" cy="152.9" r="1.2" fill="#bfbfc7"/>
<circle cx="407.0" cy="151.7" r="1.2" fill="#bfbfc7"/>
<circle cx="385.5" cy="152.7" r="1.2" fill="#bfbfc7"/>
<circle cx="387.0" cy="149.7" r="1.2" fill="#bfbfc7"/>
<circle cx="361.2" cy="154.8" r="1.2" fill="#bfbfc7"/>
<circle cx="340.8" cy="151.2" r="1.2" fill="#bfbfc7"/>
<circle cx="435.2" cy="152.1" r="1.2" fill="#bfbfc7"/>
<circle cx="378.8" cy="151.7" r="1.2" fill="#bfbfc7"/>
<circle cx="451.8" cy="150.3" r="1.2" fill="#bfbfc7"/>
<circle cx="423.5" cy="157.5" r="1.2" fill="#bfbfc7"/>
<circle cx="361.3" cy="153.4" r="1.2" fill="#bfbfc7"/>
<circle cx="445.8" cy="155.2" r="1.2" fill="#bfbfc7"/>
<circle cx="385.6" cy="149.9" r="1.2" fill="#bfbfc7"/>
<circle cx="395.8" cy="152.9" r="1.2" fill="#bfbfc7"/>
<circle cx="434.4" cy="152.2" r="1.2" fill="#bfbfc7"/>
<circle cx="390.8" cy="155.5" r="1.2" fill="#bfbfc7"/>
<circle cx="448.4" cy="152.8" r="1.2" fill="#bfbfc7"/>
<circle cx="387.6" cy="154.9" r="1.2" fill="#bfbfc7"/>
<circle cx="464.7" cy="151.3" r="1.2" fill="#bfbfc7"/>
<circle cx="471.4" cy="156.1" r="1.2" fill="#bfbfc7"/>
<circle cx="385.7" cy="155.7" r="1.2" fill="#bfbfc7"/>
<circle cx="379.6" cy="150.2" r="1.2" fill="#bfbfc7"/>
<circle cx="440.6" cy="153.0" r="1.2" fill="#bfbfc7"/>
<circle cx="407.7" cy="154.1" r="1.2" fill="#bfbfc7"/>
<circle cx="461.4" cy="156.5" r="1.2" fill="#bfbfc7"/>
<circle cx="336.2" cy="155.0" r="1.2" fill="#bfbfc7"/>
<circle cx="398.6" cy="153.8" r="1.2" fill="#bfbfc7"/>
<circle cx="452.6" cy="153.4" r="1.2" fill="#bfbfc7"/>
<circle cx="400.2" cy="157.8" r="1.2" fill="#bfbfc7"/>
<circle cx="395.4" cy="154.1" r="1.2" fill="#bfbfc7"/>
<circle cx="405.7" cy="157.2" r="1.2" fill="#bfbfc7"/>
<circle cx="428.4" cy="156.4" r="1.2" fill="#bfbfc7"/>
<circle cx="389.9" cy="149.9" r="1.2" fill="#bfbfc7"/>
<circle cx="429.7" cy="154.7" r="1.2" fill="#bfbfc7"/>
<circle cx="442.5" cy="156.7" r="1.2" fill="#bfbfc7"/>
<circle cx="349.4" cy="151.6" r="1.2" fill="#bfbfc7"/>
<circle cx="343.5" cy="157.1" r="1.2" fill="#bfbfc7"/>
<circle cx="347.0" cy="150.3" r="1.2" fill="#bfbfc7"/>
<circle cx="440.2" cy="154.7" r="1.2" fill="#bfbfc7"/>
<circle cx="340.4" cy="155.8" r="1.2" fill="#bfbfc7"/>
<circle cx="434.2" cy="154.0" r="1.2" fill="#bfbfc7"/>
<circle cx="340.3" cy="155.9" r="1.2" fill="#bfbfc7"/>
<circle cx="392.3" cy="154.9" r="1.2" fill="#bfbfc7"/>
<circle cx="475.2" cy="157.1" r="1.2" fill="#bfbfc7"/>
<circle cx="457.2" cy="150.9" r="1.2" fill="#bfbfc7"/>
<circle cx="380.3" cy="154.3" r="1.2" fill="#bfbfc7"/>
<circle cx="333.4" cy="158.7" r="1.2" fill="#bfbfc7"/>
<circle cx="371.8" cy="151.9" r="1.2" fill="#bfbfc7"/>
<circle cx="377.3" cy="151.9" r="1.2" fill="#bfbfc7"/>
<circle cx="455.3" cy="154.7" r="1.2" fill="#bfbfc7"/>
<circle cx="405.6" cy="153.4" r="1.2" fill="#bfbfc7"/>
<circle cx="339.8" cy="152.3" r="1.2" fill="#bfbfc7"/>
<circle cx="456.4" cy="157.0" r="1.2" fill="#bfbfc7"/>
<circle cx="455.0" cy="151.9" r="1.2" fill="#bfbfc7"/>
<circle cx="361.4" cy="150.0" r="1.2" fill="#bfbfc7"/>
<circle cx="409.3" cy="153.0" r="1.2" fill="#bfbfc7"/>
<circle cx="398.9" cy="154.0" r="1.2" fill="#bfbfc7"/>
<circle cx="416.0" cy="152.9" r="1.2" fill="#bfbfc7"/>
<circle cx="447.1" cy="151.4" r="1.2" fill="#bfbfc7"/>
<circle cx="464.0" cy="154.7" r="1.2" fill="#bfbfc7"/>
<circle cx="339.8" cy="152.4" r="1.2" fill="#bfbfc7"/>
<circle cx="408.7" cy="153.3" r="1.2" fill="#bfbfc7"/>
<circle cx="413.3" cy="152.5" r="1.2" fill="#bfbfc7"/>
<circle cx="371.6" cy="156.9" r="1.2" fill="#bfbfc7"/>
<circle cx="374.2" cy="156.1" r="1.2" fill="#bfbfc7"/>
<circle cx="447.3" cy="155.0" r="1.2" fill="#bfbfc7"/>
<circle cx="397.5" cy="158.2" r="1.2" fill="#bfbfc7"/>
<circle cx="396.1" cy="157.7" r="1.2" fill="#bfbfc7"/>
<circle cx="340.8" cy="153.5" r="1.2" fill="#bfbfc7"/>
<circle cx="423.9" cy="150.0" r="1.2" fill="#bfbfc7"/>
<circle cx="455.9" cy="150.2" r="1.2" fill="#bfbfc7"/>
<circle cx="417.8" cy="151.2" r="1.2" fill="#bfbfc7"/>
<circle cx="464.4" cy="154.7" r="1.2" fill="#bfbfc7"/>
<circle cx="447.0" cy="154.1" r="1.2" fill="#bfbfc7"/>
<circle cx="428.9" cy="155.8" r="1.2" fill="#bfbfc7"/>
<circle cx="374.7" cy="151.5" r="1.2" fill="#bfbfc7"/>
<circle cx="452.4" cy="150.9" r="1.2" fill="#bfbfc7"/>
<circle cx="463.8" cy="151.4" r="1.2" fill="#bfbfc7"/>
<circle cx="346.9" cy="150.4" r="1.2" fill="#bfbfc7"/>
<circle cx="444.6" cy="158.3" r="1.2" fill="#bfbfc7"/>
<circle cx="391.8" cy="155.6" r="1.2" fill="#bfbfc7"/>
<circle cx="369.3" cy="157.9" r="1.2" fill="#bfbfc7"/>
<circle cx="430.6" cy="150.9" r="1.2" fill="#bfbfc7"/>
<circle cx="340.6" cy="156.0" r="1.2" fill="#bfbfc7"/>
<circle cx="338.5" cy="157.3" r="1.2" fill="#bfbfc7"/>
<circle cx="374.5" cy="151.7" r="1.2" fill="#bfbfc7"/>
<circle cx="415.7" cy="152.5" r="1.2" fill="#bfbfc7"/>
<circle cx="412.7" cy="150.9" r="1.2" fill="#bfbfc7"/>
<circle cx="462.9" cy="152.5" r="1.2" fill="#bfbfc7"/>
<circle cx="452.8" cy="150.9" r="1.2" fill="#bfbfc7"/>
<circle cx="446.8" cy="158.6" r="1.2" fill="#bfbfc7"/>
<circle cx="388.5" cy="149.8" r="1.2" fill="#bfbfc7"/>
<circle cx="386.8" cy="155.5" r="1.2" fill="#bfbfc7"/>
<circle cx="364.4" cy="154.6" r="1.2" fill="#bfbfc7"/>
<circle cx="345.9" cy="153.8" r="1.2" fill="#bfbfc7"/>
<circle cx="436.6" cy="153.5" r="1.2" fill="#bfbfc7"/>
<circle cx="429.6" cy="150.6" r="1.2" fill="#bfbfc7"/>
<circle cx="451.0" cy="150.6" r="1.2" fill="#bfbfc7"/>
<circle cx="464.5" cy="158.8" r="1.2" fill="#bfbfc7"/>
<circle cx="466.8" cy="154.4" r="1.2" fill="#bfbfc7"/>
<circle cx="374.1" cy="152.7" r="1.2" fill="#bfbfc7"/>
<circle cx="439.8" cy="154.1" r="1.2" fill="#bfbfc7"/>
<circle cx="465.5" cy="150.4" r="1.2" fill="#bfbfc7"/>
<circle cx="401.8" cy="157.5" r="1.2" fill="#bfbfc7"/>
<circle cx="418.0" cy="154.5" r="1.2" fill="#bfbfc7"/>
<circle cx="345.1" cy="150.8" r="1.2" fill="#bfbfc7"/>
<circle cx="371.3" cy="157.8" r="1.2" fill="#bfbfc7"/>
<circle cx="453.4" cy="151.6" r="1.2" fill="#bfbfc7"/>
<circle cx="464.7" cy="149.8" r="1.2" fill="#bfbfc7"/>
<circle cx="418.1" cy="158.5" r="1.2" fill="#bfbfc7"/>
<circle cx="381.7" cy="158.3" r="1.2" fill="#bfbfc7"/>
<circle cx="426.4" cy="150.0" r="1.2" fill="#bfbfc7"/>
<circle cx="380.1" cy="153.7" r="1.2" fill="#bfbfc7"/>
<circle cx="367.9" cy="156.4" r="1.2" fill="#bfbfc7"/>
<circle cx="358.1" cy="156.8" r="1.2" fill="#bfbfc7"/>
<circle cx="375.1" cy="150.1" r="1.2" fill="#bfbfc7"/>
<circle cx="412.5" cy="150.4" r="1.2" fill="#bfbfc7"/>
<circle cx="411.4" cy="156.8" r="1.2" fill="#bfbfc7"/>
<circle cx="417.7" cy="153.8" r="1.2" fill="#bfbfc7"/>
<circle cx="337.3" cy="154.3" r="1.2" fill="#bfbfc7"/>
<circle cx="346.4" cy="155.5" r="1.2" fill="#bfbfc7"/>
<circle cx="351.4" cy="154.9" r="1.2" fill="#bfbfc7"/>
<circle cx="383.0" cy="153.0" r="1.2" fill="#bfbfc7"/>
<circle cx="427.3" cy="151.0" r="1.2" fill="#bfbfc7"/>
<circle cx="356.8" cy="158.3" r="1.2" fill="#bfbfc7"/>
<circle cx="379.9" cy="157.3" r="1.2" fill="#bfbfc7"/>
<circle cx="457.4" cy="154.0" r="1.2" fill="#bfbfc7"/>
<circle cx="353.8" cy="150.4" r="1.2" fill="#bfbfc7"/>
<circle cx="458.2" cy="150.6" r="1.2" fill="#bfbfc7"/>
<circle cx="403.4" cy="154.5" r="1.2" fill="#bfbfc7"/>
<circle cx="349.3" cy="153.9" r="1.2" fill="#bfbfc7"/>
<circle cx="356.0" cy="154.5" r="1.2" fill="#bfbfc7"/>
<circle cx="405.0" cy="152.9" r="1.2" fill="#bfbfc7"/>
<circle cx="360.8" cy="153.3" r="1.2" fill="#bfbfc7"/>
<circle cx="361.6" cy="150.7" r="1.2" fill="#bfbfc7"/>
<circle cx="366.8" cy="157.6" r="1.2" fill="#bfbfc7"/>
<circle cx="404.3" cy="157.8" r="1.2" fill="#bfbfc7"/>
<circle cx="334.7" cy="158.3" r="1.2" fill="#bfbfc7"/>
<circle cx="402.3" cy="156.9" r="1.2" fill="#bfbfc7"/>
<circle cx="414.1" cy="155.9" r="1.2" fill="#bfbfc7"/>
<circle cx="365.3" cy="156.5" r="1.2" fill="#bfbfc7"/>
<circle cx="354.5" cy="152.0" r="1.2" fill="#bfbfc7"/>
<circle cx="336.9" cy="153.2" r="1.2" fill="#bfbfc7"/>
<circle cx="406.6" cy="152.2" r="1.2" fill="#bfbfc7"/>
<circle cx="459.8" cy="150.3" r="1.2" fill="#bfbfc7"/>
<circle cx="415.2" cy="151.7" r="1.2" fill="#bfbfc7"/>
<circle cx="417.6" cy="156.8" r="1.2" fill="#bfbfc7"/>
<circle cx="434.1" cy="150.1" r="1.2" fill="#bfbfc7"/>
<circle cx="367.6" cy="155.1" r="1.2" fill="#bfbfc7"/>
<circle cx="473.1" cy="149.9" r="1.2" fill="#bfbfc7"/>
<circle cx="420.9" cy="155.9" r="1.2" fill="#bfbfc7"/>
<circle cx="449.0" cy="152.7" r="1.2" fill="#bfbfc7"/>
<circle cx="448.4" cy="153.8" r="1.2" fill="#bfbfc7"/>
<circle cx="464.2" cy="149.6" r="1.2" fill="#bfbfc7"/>
<circle cx="467.0" cy="153.3" r="1.2" fill="#bfbfc7"/>
<circle cx="390.7" cy="150.3" r="1.2" fill="#bfbfc7"/>
<circle cx="367.5" cy="156.3" r="1.2" fill="#bfbfc7"/>
<circle cx="429.6" cy="150.9" r="1.2" fill="#bfbfc7"/>
<circle cx="381.7" cy="150.8" r="1.2" fill="#bfbfc7"/>
<circle cx="360.8" cy="151.5" r="1.2" fill="#bfbfc7"/>
<circle cx="379.8" cy="158.6" r="1.2" fill="#bfbfc7"/>
<circle cx="475.1" cy="156.9" r="1.2" fill="#bfbfc7"/>
<circle cx="401.1" cy="154.1" r="1.2" fill="#bfbfc7"/>
<circle cx="443.9" cy="157.9" r="1.2" fill="#bfbfc7"/>
<circle cx="440.0" cy="155.4" r="1.2" fill="#bfbfc7"/>
<circle cx="361.0" cy="155.3" r="1.2" fill="#bfbfc7"/>
<circle cx="453.4" cy="156.8" r="1.2" fill="#bfbfc7"/>
<circle cx="345.7" cy="156.2" r="1.2" fill="#bfbfc7"/>
<circle cx="382.4" cy="151.0" r="1.2" fill="#bfbfc7"/>
<circle cx="470.6" cy="155.8" r="1.2" fill="#bfbfc7"/>
<circle cx="439.1" cy="150.8" r="1.2" fill="#bfbfc7"/>
<circle cx="451.0" cy="158.2" r="1.2" fill="#bfbfc7"/>
<circle cx="461.9" cy="156.4" r="1.2" fill="#bfbfc7"/>
<circle cx="451.5" cy="157.0" r="1.2" fill="#bfbfc7"/>
<circle cx="416.9" cy="153.5" r="1.2" fill="#bfbfc7"/>
<circle cx="450.5" cy="156.8" r="1.2" fill="#bfbfc7"/>
<circle cx="457.0" cy="152.3" r="1.2" fill="#bfbfc7"/>
<circle cx="469.9" cy="154.4" r="1.2" fill="#bfbfc7"/>
<circle cx="467.8" cy="150.6" r="1.2" fill="#bfbfc7"/>
<circle cx="471.0" cy="156.8" r="1.2" fill="#bfbfc7"/>
<circle cx="368.5" cy="157.3" r="1.2" fill="#bfbfc7"/>
<circle cx="365.7" cy="151.3" r="1.2" fill="#bfbfc7"/>
<circle cx="398.0" cy="151.7" r="1.2" fill="#bfbfc7"/>
<circle cx="402.9" cy="157.9" r="1.2" fill="#bfbfc7"/>
<circle cx="430.5" cy="156.1" r="1.2" fill="#bfbfc7"/>
<circle cx="388.6" cy="156.8" r="1.2" fill="#bfbfc7"/>
<circle cx="446.0" cy="155.9" r="1.2" fill="#bfbfc7"/>
<circle cx="467.2" cy="157.2" r="1.2" fill="#bfbfc7"/>
<circle cx="390.6" cy="150.3" r="1.2" fill="#bfbfc7"/>
<circle cx="425.8" cy="157.3" r="1.2" fill="#bfbfc7"/>
<circle cx="381.1" cy="155.0" r="1.2" fill="#bfbfc7"/>
<circle cx="452.1" cy="156.9" r="1.2" fill="#bfbfc7"/>
<circle cx="333.1" cy="154.0" r="1.2" fill="#bfbfc7"/>
<circle cx="334.8" cy="150.5" r="1.2" fill="#bfbfc7"/>
<circle cx="448.7" cy="153.4" r="1.2" fill="#bfbfc7"/>
<circle cx="419.0" cy="153.8" r="1.2" fill="#bfbfc7"/>
<circle cx="380.5" cy="151.5" r="1.2" fill="#bfbfc7"/>
<circle cx="383.1" cy="157.4" r="1.2" fill="#bfbfc7"/>
<circle cx="421.1" cy="152.2" r="1.2" fill="#bfbfc7"/>
<circle cx="345.1" cy="152.0" r="1.2" fill="#bfbfc7"/>
<circle cx="432.8" cy="153.6" r="1.2" fill="#bfbfc7"/>
<circle cx="427.0" cy="157.0" r="1.2" fill="#bfbfc7"/>
<circle cx="349.8" cy="155.9" r="1.2" fill="#bfbfc7"/>
<circle cx="338.4" cy="157.2" r="1.2" fill="#bfbfc7"/>
<circle cx="358.8" cy="152.0" r="1.2" fill="#bfbfc7"/>
<circle cx="469.5" cy="152.9" r="1.2" fill="#bfbfc7"/>
<circle cx="364.6" cy="157.8" r="1.2" fill="#bfbfc7"/>
<circle cx="419.8" cy="157.8" r="1.2" fill="#bfbfc7"/>
<circle cx="388.9" cy="154.1" r="1.2" fill="#bfbfc7"/>
<circle cx="469.2" cy="154.2" r="1.2" fill="#bfbfc7"/>
<circle cx="473.9" cy="151.3" r="1.2" fill="#bfbfc7"/>
<circle cx="451.3" cy="151.0" r="1.2" fill="#bfbfc7"/>
<circle cx="407.9" cy="149.5" r="1.2" fill="#bfbfc7"/>
<circle cx="357.6" cy="158.3" r="1.2" fill="#bfbfc7"/>
<circle cx="397.5" cy="157.0" r="1.2" fill="#bfbfc7"/>
<circle cx="368.4" cy="152.8" r="1.2" fill="#bfbfc7"/>
<circle cx="386.4" cy="149.7" r="1.2" fill="#bfbfc7"/>
<circle cx="396.0" cy="149.8" r="1.2" fill="#bfbfc7"/>
<circle cx="384.5" cy="149.9" r="1.2" fill="#bfbfc7"/>
<circle cx="340.6" cy="149.3" r="1.2" fill="#bfbfc7"/>
<circle cx="468.8" cy="149.5" r="1.2" fill="#bfbfc7"/>
<circle cx="386.9" cy="149.8" r="1.2" fill="#bfbfc7"/>
<circle cx="388.4" cy="149.5" r="1.2" fill="#bfbfc7"/>
<circle cx="388.7" cy="149.4" r="1.2" fill="#bfbfc7"/>
<circle cx="388.9" cy="149.5" r="1.2" fill="#bfbfc7"/>
<circle cx="445.8" cy="149.7" r="1.2" fill="#bfbfc7"/>
<circle cx="428.3" cy="149.6" r="1.2" fill="#bfbfc7"/>
<rect x="371.0" y="152.6" width="6.2" height="0.9" fill="#fff" opacity="0.8"/>
<rect x="400.9" y="152.6" width="6.0" height="0.9" fill="#fff" opacity="0.8"/>
<rect x="380.6" y="152.6" width="3.0" height="0.9" fill="#fff" opacity="0.8"/>
<rect x="443.6" y="152.6" width="2.8" height="0.9" fill="#fff" opacity="0.8"/>
<rect x="434.2" y="152.6" width="5.4" height="0.9" fill="#fff" opacity="0.8"/>
<rect x="457.3" y="157.8" width="3.5" height="0.9" fill="#fff" opacity="0.8"/>
<rect x="385.5" y="155.2" width="6.8" height="0.9" fill="#fff" opacity="0.8"/>
<rect x="358.6" y="155.2" width="6.5" height="0.9" fill="#fff" opacity="0.8"/>
<rect x="398.0" y="157.8" width="3.6" height="0.9" fill="#fff" opacity="0.8"/>
<rect x="393.0" y="152.6" width="5.4" height="0.9" fill="#fff" opacity="0.8"/>
<rect x="382.6" y="155.2" width="3.9" height="0.9" fill="#fff" opacity="0.8"/>
<rect x="465.0" y="155.2" width="2.6" height="0.9" fill="#fff" opacity="0.8"/>
<rect x="459.8" y="157.8" width="4.3" height="0.9" fill="#fff" opacity="0.8"/>
<rect x="447.7" y="157.8" width="2.8" height="0.9" fill="#fff" opacity="0.8"/>
<rect x="455.3" y="152.6" width="2.8" height="0.9" fill="#fff" opacity="0.8"/>
<rect x="436.7" y="155.2" width="5.3" height="0.9" fill="#fff" opacity="0.8"/>
<rect x="449.2" y="155.2" width="5.8" height="0.9" fill="#fff" opacity="0.8"/>
<rect x="370.7" y="155.2" width="5.6" height="0.9" fill="#fff" opacity="0.8"/>
<rect x="387.2" y="155.2" width="6.3" height="0.9" fill="#fff" opacity="0.8"/>
<rect x="349.6" y="155.2" width="5.9" height="0.9" fill="#fff" opacity="0.8"/>
<rect x="338.7" y="157.8" width="4.8" height="0.9" fill="#fff" opacity="0.8"/>
<rect x="381.5" y="155.2" width="3.3" height="0.9" fill="#fff" opacity="0.8"/>
<rect x="366.3" y="152.6" width="6.4" height="0.9" fill="#fff" opacity="0.8"/>
<rect x="346.2" y="157.8" width="5.4" height="0.9" fill="#fff" opacity="0.8"/>
<rect x="389.5" y="157.8" width="2.6" height="0.9" fill="#fff" opacity="0.8"/>
<rect x="375.1" y="157.8" width="2.9" height="0.9" fill="#fff" opacity="0.8"/>
<rect x="432.0" y="157.8" width="5.5" height="0.9" fill="#fff" opacity="0.8"/>
<rect x="439.1" y="155.2" width="6.2" height="0.9" fill="#fff" opacity="0.8"/>
<rect x="441.2" y="155.2" width="4.0" height="0.9" fill="#fff" opacity="0.8"/>
<rect x="401.5" y="155.2" width="3.7" height="0.9" fill="#fff" opacity="0.8"/>
<rect x="358.4" y="152.6" width="4.7" height="0.9" fill="#fff" opacity="0.8"/>
<rect x="404.4" y="157.8" width="6.6" height="0.9" fill="#fff" opacity="0.8"/>
<rect x="372.6" y="152.6" width="3.7" height="0.9" fill="#fff" opacity="0.8"/>
<rect x="342.0" y="155.2" width="2.3" height="0.9" fill="#fff" opacity="0.8"/>
<rect x="333.4" y="157.8" width="5.3" height="0.9" fill="#fff" opacity="0.8"/>
<rect x="412.2" y="155.2" width="3.1" height="0.9" fill="#fff" opacity="0.8"/>
<rect x="432.8" y="157.8" width="5.9" height="0.9" fill="#fff" opacity="0.8"/>
<rect x="447.9" y="152.6" width="3.1" height="0.9" fill="#fff" opacity="0.8"/>
<rect x="449.4" y="152.6" width="4.5" height="0.9" fill="#fff" opacity="0.8"/>
<rect x="456.1" y="152.6" width="5.7" height="0.9" fill="#fff" opacity="0.8"/>
<rect x="445.5" y="157.8" width="3.9" height="0.9" fill="#fff" opacity="0.8"/>
<rect x="372.4" y="157.8" width="5.5" height="0.9" fill="#fff" opacity="0.8"/>
<rect x="429.4" y="157.8" width="6.5" height="0.9" fill="#fff" opacity="0.8"/>
<rect x="430.5" y="157.8" width="5.0" height="0.9" fill="#fff" opacity="0.8"/>
<rect x="402.7" y="157.8" width="3.1" height="0.9" fill="#fff" opacity="0.8"/>
<rect x="363.7" y="152.6" width="3.8" height="0.9" fill="#fff" opacity="0.8"/>
<rect x="411.0" y="152.6" width="3.8" height="0.9" fill="#fff" opacity="0.8"/>
<rect x="428.8" y="152.6" width="2.6" height="0.9" fill="#fff" opacity="0.8"/>
<rect x="463.7" y="152.6" width="2.0" height="0.9" fill="#fff" opacity="0.8"/>
<rect x="419.2" y="152.6" width="4.2" height="0.9" fill="#fff" opacity="0.8"/>
<rect x="402.0" y="155.2" width="5.0" height="0.9" fill="#fff" opacity="0.8"/>
<rect x="414.6" y="152.6" width="2.2" height="0.9" fill="#fff" opacity="0.8"/>
<rect x="446.4" y="152.6" width="4.4" height="0.9" fill="#fff" opacity="0.8"/>
<rect x="373.3" y="155.2" width="6.8" height="0.9" fill="#fff" opacity="0.8"/>
<rect x="405.7" y="152.6" width="3.1" height="0.9" fill="#fff" opacity="0.8"/>
<rect x="441.7" y="152.6" width="3.4" height="0.9" fill="#fff" opacity="0.8"/>
<rect x="466.4" y="157.8" width="4.7" height="0.9" fill="#fff" opacity="0.8"/>
<rect x="337.2" y="152.6" width="2.1" height="0.9" fill="#fff" opacity="0.8"/>
<rect x="402.1" y="155.2" width="3.9" height="0.9" fill="#fff" opacity="0.8"/>
<rect x="463.8" y="155.2" width="5.6" height="0.9" fill="#fff" opacity="0.8"/>
<rect x="413.1" y="155.2" width="4.0" height="0.9" fill="#fff" opacity="0.8"/>
<rect x="463.8" y="155.2" width="3.1" height="0.9" fill="#fff" opacity="0.8"/>
<rect x="451.9" y="152.6" width="6.0" height="0.9" fill="#fff" opacity="0.8"/>
<rect x="464.7" y="155.2" width="5.3" height="0.9" fill="#fff" opacity="0.8"/>
<rect x="367.5" y="157.8" width="4.4" height="0.9" fill="#fff" opacity="0.8"/>
<rect x="351.3" y="155.2" width="6.8" height="0.9" fill="#fff" opacity="0.8"/>
<rect x="453.6" y="157.8" width="4.3" height="0.9" fill="#fff" opacity="0.8"/>
<rect x="379.8" y="152.6" width="2.6" height="0.9" fill="#fff" opacity="0.8"/>
<rect x="355.7" y="152.6" width="2.4" height="0.9" fill="#fff" opacity="0.8"/>
<rect x="455.9" y="152.6" width="4.2" height="0.9" fill="#fff" opacity="0.8"/>
<circle cx="346.9" cy="148.0" r="1.2" fill="#bfbfc7"/>
<circle cx="455.8" cy="147.8" r="1.2" fill="#bfbfc7"/>
<circle cx="460.3" cy="148.5" r="1.2" fill="#bfbfc7"/>
<circle cx="343.4" cy="148.3" r="1.2" fill="#bfbfc7"/>
<circle cx="384.2" cy="148.5" r="1.2" fill="#bfbfc7"/>
<circle cx="422.9" cy="147.2" r="1.2" fill="#bfbfc7"/>
<circle cx="407.2" cy="148.5" r="1.2" fill="#bfbfc7"/>
<circle cx="462.2" cy="147.7" r="1.2" fill="#bfbfc7"/>
<circle cx="430.2" cy="148.0" r="1.2" fill="#bfbfc7"/>
<circle cx="396.5" cy="148.9" r="1.2" fill="#bfbfc7"/>
<circle cx="459.9" cy="148.8" r="1.2" fill="#bfbfc7"/>
<circle cx="439.7" cy="145.7" r="1.2" fill="#bfbfc7"/>
<circle cx="379.0" cy="146.1" r="1.2" fill="#bfbfc7"/>
<circle cx="353.2" cy="148.1" r="1.2" fill="#bfbfc7"/>
<circle cx="415.0" cy="145.7" r="1.2" fill="#bfbfc7"/>
<circle cx="388.6" cy="148.9" r="1.2" fill="#bfbfc7"/>
<circle cx="424.2" cy="146.8" r="1.2" fill="#bfbfc7"/>
<circle cx="441.5" cy="146.8" r="1.2" fill="#bfbfc7"/>
<circle cx="410.3" cy="147.4" r="1.2" fill="#bfbfc7"/>
<circle cx="472.4" cy="148.4" r="1.2" fill="#bfbfc7"/>
<circle cx="447.6" cy="148.5" r="1.2" fill="#bfbfc7"/>
<circle cx="434.0" cy="148.6" r="1.2" fill="#bfbfc7"/>
<circle cx="343.0" cy="133.8" r="1.2" fill="#bfbfc7"/>
<circle cx="356.0" cy="133.8" r="1.2" fill="#bfbfc7"/>
<circle cx="363.0" cy="133.8" r="1.2" fill="#bfbfc7"/>
<circle cx="338.5" cy="143.5" r="1.2" fill="#bfbfc7"/>
<circle cx="357.0" cy="138.3" r="1.2" fill="#bfbfc7"/>
<circle cx="334.0" cy="148.8" r="1.2" fill="#bfbfc7"/>
<circle cx="354.0" cy="148.8" r="1.2" fill="#bfbfc7"/>
<circle cx="358.0" cy="148.8" r="1.2" fill="#bfbfc7"/>
<circle cx="372.0" cy="148.8" r="1.2" fill="#bfbfc7"/>
<circle cx="380.0" cy="143.5" r="1.2" fill="#bfbfc7"/>
<circle cx="385.0" cy="143.5" r="1.2" fill="#bfbfc7"/>
<circle cx="390.0" cy="143.5" r="1.2" fill="#bfbfc7"/>
<circle cx="365.0" cy="140.0" r="1.2" fill="#bfbfc7"/>
<circle cx="345.0" cy="146.0" r="1.2" fill="#bfbfc7"/>
<circle cx="395.0" cy="137.0" r="1.2" fill="#bfbfc7"/>
<circle cx="348.0" cy="140.0" r="1.2" fill="#bfbfc7"/>
<circle cx="381.2" cy="133.8" r="1.2" fill="#bfbfc7"/>
<circle cx="383.3" cy="133.8" r="1.2" fill="#bfbfc7"/>
<circle cx="386.2" cy="133.8" r="1.2" fill="#bfbfc7"/>
<circle cx="388.4" cy="85.2" r="1.2" fill="#bfbfc7"/>
<circle cx="389.7" cy="85.2" r="1.2" fill="#bfbfc7"/>
<circle cx="390.7" cy="85.2" r="1.2" fill="#bfbfc7"/>
<circle cx="392.1" cy="85.2" r="1.2" fill="#bfbfc7"/>
<circle cx="394.2" cy="85.2" r="1.2" fill="#bfbfc7"/>
<circle cx="395.3" cy="85.2" r="1.2" fill="#bfbfc7"/>
<circle cx="396.7" cy="85.2" r="1.2" fill="#bfbfc7"/>
<circle cx="398.9" cy="85.2" r="1.2" fill="#bfbfc7"/>
<circle cx="399.6" cy="85.2" r="1.2" fill="#bfbfc7"/>
<circle cx="401.4" cy="85.2" r="1.2" fill="#bfbfc7"/>
<circle cx="389.2" cy="106.7" r="1.2" fill="#bfbfc7"/>
<circle cx="390.2" cy="106.7" r="1.2" fill="#bfbfc7"/>
<circle cx="391.7" cy="106.7" r="1.2" fill="#bfbfc7"/>
<circle cx="393.5" cy="106.7" r="1.2" fill="#bfbfc7"/>
<circle cx="396.7" cy="106.7" r="1.2" fill="#bfbfc7"/>
<circle cx="398.3" cy="106.7" r="1.2" fill="#bfbfc7"/>
<circle cx="399.2" cy="106.7" r="1.2" fill="#bfbfc7"/>
<circle cx="401.0" cy="106.7" r="1.2" fill="#bfbfc7"/>
<circle cx="388.8" cy="122.0" r="1.2" fill="#bfbfc7"/>
<circle cx="390.8" cy="122.0" r="1.2" fill="#bfbfc7"/>
<circle cx="392.4" cy="122.0" r="1.2" fill="#bfbfc7"/>
<circle cx="395.2" cy="122.0" r="1.2" fill="#bfbfc7"/>
<circle cx="396.7" cy="122.0" r="1.2" fill="#bfbfc7"/>
<circle cx="397.7" cy="122.0" r="1.2" fill="#bfbfc7"/>
<circle cx="399.3" cy="122.0" r="1.2" fill="#bfbfc7"/>
<circle cx="400.9" cy="122.0" r="1.2" fill="#bfbfc7"/>
<circle cx="389.3" cy="126.8" r="1.2" fill="#bfbfc7"/>
<circle cx="390.5" cy="126.8" r="1.2" fill="#bfbfc7"/>
<circle cx="392.3" cy="126.8" r="1.2" fill="#bfbfc7"/>
<circle cx="393.2" cy="126.8" r="1.2" fill="#bfbfc7"/>
<circle cx="395.1" cy="126.8" r="1.2" fill="#bfbfc7"/>
<circle cx="396.5" cy="126.8" r="1.2" fill="#bfbfc7"/>
<circle cx="397.8" cy="126.8" r="1.2" fill="#bfbfc7"/>
<circle cx="399.8" cy="126.8" r="1.2" fill="#bfbfc7"/>
<circle cx="400.7" cy="126.8" r="1.2" fill="#bfbfc7"/>
<circle cx="401.4" cy="130.8" r="1.2" fill="#bfbfc7"/>
<circle cx="391.2" cy="138.0" r="1.2" fill="#bfbfc7"/>
<circle cx="401.2" cy="142.0" r="1.2" fill="#bfbfc7"/>
<circle cx="404.4" cy="137.7" r="1.2" fill="#bfbfc7"/>
<circle cx="387.8" cy="143.9" r="1.2" fill="#bfbfc7"/>
<circle cx="387.4" cy="138.4" r="1.2" fill="#bfbfc7"/>
<circle cx="396.4" cy="142.8" r="1.2" fill="#bfbfc7"/>
<circle cx="404.6" cy="133.3" r="1.2" fill="#bfbfc7"/>
<circle cx="402.9" cy="143.2" r="1.2" fill="#bfbfc7"/>
<circle cx="398.3" cy="131.1" r="1.2" fill="#bfbfc7"/>
<circle cx="409.6" cy="141.2" r="1.2" fill="#bfbfc7"/>
<circle cx="387.6" cy="133.2" r="1.2" fill="#bfbfc7"/>
<circle cx="411.7" cy="133.0" r="1.2" fill="#bfbfc7"/>
<circle cx="396.2" cy="145.3" r="1.2" fill="#bfbfc7"/>
<circle cx="407.4" cy="141.9" r="1.2" fill="#bfbfc7"/>
<circle cx="405.3" cy="128.8" r="1.2" fill="#bfbfc7"/>
<circle cx="406.9" cy="128.8" r="1.2" fill="#bfbfc7"/>
<circle cx="387.3" cy="133.3" r="1.2" fill="#bfbfc7"/>
<circle cx="410.2" cy="132.8" r="1.2" fill="#bfbfc7"/>
<circle cx="403.5" cy="148.5" r="1.2" fill="#bfbfc7"/>
<circle cx="402.6" cy="148.2" r="1.2" fill="#bfbfc7"/>
<circle cx="392.8" cy="131.4" r="1.2" fill="#bfbfc7"/>
<circle cx="386.5" cy="144.7" r="1.2" fill="#bfbfc7"/>
<circle cx="404.5" cy="132.1" r="1.2" fill="#bfbfc7"/>
<circle cx="407.0" cy="131.6" r="1.2" fill="#bfbfc7"/>
<circle cx="399.3" cy="130.3" r="1.2" fill="#bfbfc7"/>
<circle cx="406.5" cy="147.6" r="1.2" fill="#bfbfc7"/>
<circle cx="409.8" cy="128.0" r="1.2" fill="#bfbfc7"/>
<circle cx="408.1" cy="140.2" r="1.2" fill="#bfbfc7"/>
<circle cx="407.4" cy="139.1" r="1.2" fill="#bfbfc7"/>
<circle cx="402.1" cy="141.1" r="1.2" fill="#bfbfc7"/>
<circle cx="406.8" cy="129.7" r="1.2" fill="#bfbfc7"/>
<circle cx="387.4" cy="140.0" r="1.2" fill="#bfbfc7"/>
<circle cx="393.6" cy="136.7" r="1.2" fill="#bfbfc7"/>
<circle cx="386.2" cy="144.4" r="1.2" fill="#bfbfc7"/>
<circle cx="386.6" cy="146.3" r="1.2" fill="#bfbfc7"/>
<circle cx="407.1" cy="138.1" r="1.2" fill="#bfbfc7"/>
<circle cx="389.2" cy="142.3" r="1.2" fill="#bfbfc7"/>
<circle cx="391.4" cy="137.4" r="1.2" fill="#bfbfc7"/>
<circle cx="400.2" cy="135.8" r="1.2" fill="#bfbfc7"/>
<circle cx="388.4" cy="144.1" r="1.2" fill="#bfbfc7"/>
<circle cx="408.1" cy="146.7" r="1.2" fill="#bfbfc7"/>
<circle cx="388.6" cy="136.1" r="1.2" fill="#bfbfc7"/>
<circle cx="393.9" cy="144.8" r="1.2" fill="#bfbfc7"/>
<circle cx="389.8" cy="141.3" r="1.2" fill="#bfbfc7"/>
<circle cx="411.4" cy="144.9" r="1.2" fill="#bfbfc7"/>
<circle cx="386.2" cy="129.6" r="1.2" fill="#bfbfc7"/>
<circle cx="389.0" cy="143.2" r="1.2" fill="#bfbfc7"/>
<circle cx="401.6" cy="139.4" r="1.2" fill="#bfbfc7"/>
<circle cx="397.8" cy="137.0" r="1.2" fill="#bfbfc7"/>
<circle cx="401.9" cy="142.3" r="1.2" fill="#bfbfc7"/>
<circle cx="409.8" cy="115.2" r="1.2" fill="#bfbfc7"/>
<circle cx="406.7" cy="123.8" r="1.2" fill="#bfbfc7"/>
<circle cx="407.8" cy="114.4" r="1.2" fill="#bfbfc7"/>
<circle cx="386.8" cy="112.7" r="1.2" fill="#bfbfc7"/>
<circle cx="408.1" cy="100.7" r="1.2" fill="#bfbfc7"/>
<circle cx="408.8" cy="88.6" r="1.2" fill="#bfbfc7"/>
<circle cx="410.5" cy="101.2" r="1.2" fill="#bfbfc7"/>
<circle cx="404.4" cy="92.1" r="1.2" fill="#bfbfc7"/>
<circle cx="393.8" cy="96.7" r="1.2" fill="#bfbfc7"/>
<circle cx="394.4" cy="84.5" r="1.2" fill="#bfbfc7"/>
<circle cx="397.5" cy="127.1" r="1.2" fill="#bfbfc7"/>
<circle cx="403.0" cy="124.7" r="1.2" fill="#bfbfc7"/>
<circle cx="405.8" cy="120.2" r="1.2" fill="#bfbfc7"/>
<circle cx="411.9" cy="116.1" r="1.2" fill="#bfbfc7"/>
<circle cx="393.1" cy="92.0" r="1.2" fill="#bfbfc7"/>
<circle cx="396.7" cy="81.0" r="1.2" fill="#bfbfc7"/>
<circle cx="392.0" cy="122.5" r="1.2" fill="#bfbfc7"/>
<circle cx="409.9" cy="95.8" r="1.2" fill="#bfbfc7"/>
<circle cx="406.0" cy="117.2" r="1.2" fill="#bfbfc7"/>
<circle cx="409.1" cy="118.1" r="1.2" fill="#bfbfc7"/>
<circle cx="399.8" cy="85.0" r="1.2" fill="#bfbfc7"/>
<circle cx="407.5" cy="95.1" r="1.2" fill="#bfbfc7"/>
<circle cx="402.3" cy="97.6" r="1.2" fill="#bfbfc7"/>
<circle cx="388.5" cy="78.6" r="1.2" fill="#bfbfc7"/>
<circle cx="400.0" cy="78.6" r="1.2" fill="#bfbfc7"/>
<circle cx="464.0" cy="95.0" r="1.2" fill="#bfbfc7"/>
<circle cx="474.0" cy="95.0" r="1.2" fill="#bfbfc7"/>
<circle cx="472.0" cy="127.5" r="1.2" fill="#bfbfc7"/>
<circle cx="474.0" cy="140.0" r="1.2" fill="#bfbfc7"/>
<circle cx="465.0" cy="123.0" r="1.2" fill="#bfbfc7"/>
<circle cx="470.0" cy="123.0" r="1.2" fill="#bfbfc7"/>
<circle cx="411.0" cy="103.0" r="1.2" fill="#bfbfc7"/>
<circle cx="410.0" cy="120.0" r="1.2" fill="#bfbfc7"/>
<circle cx="412.0" cy="130.0" r="1.2" fill="#bfbfc7"/>
<circle cx="420.0" cy="124.0" r="1.2" fill="#bfbfc7"/>
<circle cx="440.0" cy="133.8" r="1.2" fill="#bfbfc7"/>
<circle cx="455.0" cy="133.8" r="1.2" fill="#bfbfc7"/>
<circle cx="430.0" cy="137.0" r="1.2" fill="#bfbfc7"/>
<circle cx="446.0" cy="140.0" r="1.2" fill="#bfbfc7"/>
<circle cx="460.0" cy="142.0" r="1.2" fill="#bfbfc7"/>
<circle cx="425.0" cy="145.0" r="1.2" fill="#bfbfc7"/>
<circle cx="438.0" cy="146.0" r="1.2" fill="#bfbfc7"/>
<circle cx="452.0" cy="145.0" r="1.2" fill="#bfbfc7"/>
<circle cx="468.0" cy="147.0" r="1.2" fill="#bfbfc7"/>
<circle cx="418.0" cy="131.0" r="1.2" fill="#bfbfc7"/>
<circle cx="403.0" cy="78.0" r="1.2" fill="#bfbfc7"/>
<circle cx="422.2" cy="145.3" r="1.2" fill="#bfbfc7"/>
<circle cx="452.9" cy="145.4" r="1.2" fill="#bfbfc7"/>
<circle cx="471.1" cy="144.1" r="1.2" fill="#bfbfc7"/>
<circle cx="469.6" cy="146.9" r="1.2" fill="#bfbfc7"/>
<circle cx="472.9" cy="140.9" r="1.2" fill="#bfbfc7"/>
<circle cx="425.4" cy="142.9" r="1.2" fill="#bfbfc7"/>
<circle cx="469.1" cy="140.1" r="1.2" fill="#bfbfc7"/>
<circle cx="428.4" cy="147.2" r="1.2" fill="#bfbfc7"/>
<circle cx="474.4" cy="141.8" r="1.2" fill="#bfbfc7"/>
<circle cx="439.6" cy="146.9" r="1.2" fill="#bfbfc7"/>
<circle cx="455.5" cy="147.5" r="1.2" fill="#bfbfc7"/>
<circle cx="459.4" cy="142.5" r="1.2" fill="#bfbfc7"/>
<circle cx="428.2" cy="140.3" r="1.2" fill="#bfbfc7"/>
<circle cx="455.5" cy="142.1" r="1.2" fill="#bfbfc7"/>
<circle cx="452.5" cy="145.9" r="1.2" fill="#bfbfc7"/>
<line x1="332.20" y1="59.60" x2="476.00" y2="59.60" stroke="#111" stroke-width="1.2" stroke-dasharray="3.2 3.3"/>
<rect x="324.50" y="22.50" width="157.40" height="143.10" fill="none" stroke="#1e1e1e" stroke-width="1.25"/>
<line x1="321.50" y1="33.20" x2="324.50" y2="33.20" stroke="#222" stroke-width="1"/>
<text x="318.20" y="36.10" font-size="8.2" fill="#2b2b2b" stroke="#2b2b2b" text-anchor="end" textLength="15.00" lengthAdjust="spacingAndGlyphs">1.00</text>
<line x1="321.50" y1="66.30" x2="324.50" y2="66.30" stroke="#222" stroke-width="1"/>
<text x="318.20" y="69.20" font-size="8.2" fill="#2b2b2b" stroke="#2b2b2b" text-anchor="end" textLength="15.00" lengthAdjust="spacingAndGlyphs">0.75</text>
<line x1="321.50" y1="99.40" x2="324.50" y2="99.40" stroke="#222" stroke-width="1"/>
<text x="318.20" y="102.30" font-size="8.2" fill="#2b2b2b" stroke="#2b2b2b" text-anchor="end" textLength="15.00" lengthAdjust="spacingAndGlyphs">0.50</text>
<line x1="321.50" y1="132.50" x2="324.50" y2="132.50" stroke="#222" stroke-width="1"/>
<text x="318.20" y="135.40" font-size="8.2" fill="#2b2b2b" stroke="#2b2b2b" text-anchor="end" textLength="15.00" lengthAdjust="spacingAndGlyphs">0.25</text>
<text transform="translate(297.00 93.55) rotate(-90)" font-size="9.8" fill="#2b2b2b" stroke="#2b2b2b" text-anchor="middle" textLength="66.5" lengthAdjust="spacingAndGlyphs">r<tspan font-size="6" dy="-3.6">2</tspan><tspan dy="3.6"> with rs74355478</tspan></text>
<rect x="324.50" y="169.80" width="157.40" height="17.50" fill="none" stroke="#1e1e1e" stroke-width="1.25"/>
<line x1="396.50" y1="175.00" x2="429.00" y2="175.00" stroke="#1f4e7a" stroke-width="1.6"/>
<path d="M427.50 172.60 L434.00 175.00 L427.50 177.40 Z" fill="#1f4e7a"/>
<text x="415.60" y="184.70" font-size="8.2" fill="#2b2b2b" stroke="#2b2b2b" text-anchor="middle" textLength="20.50" lengthAdjust="spacingAndGlyphs">LGR6</text>
<line x1="354.10" y1="187.30" x2="354.10" y2="190.10" stroke="#222" stroke-width="1"/>
<text transform="translate(357.50 197.00) rotate(-45)" font-size="8.2" fill="#2b2b2b" stroke="#2b2b2b" text-anchor="end">202000</text>
<line x1="381.40" y1="187.30" x2="381.40" y2="190.10" stroke="#222" stroke-width="1"/>
<text transform="translate(384.80 197.00) rotate(-45)" font-size="8.2" fill="#2b2b2b" stroke="#2b2b2b" text-anchor="end">202100</text>
<line x1="408.70" y1="187.30" x2="408.70" y2="190.10" stroke="#222" stroke-width="1"/>
<text transform="translate(412.10 197.00) rotate(-45)" font-size="8.2" fill="#2b2b2b" stroke="#2b2b2b" text-anchor="end">202200</text>
<line x1="436.00" y1="187.30" x2="436.00" y2="190.10" stroke="#222" stroke-width="1"/>
<text transform="translate(439.40 197.00) rotate(-45)" font-size="8.2" fill="#2b2b2b" stroke="#2b2b2b" text-anchor="end">202300</text>
<line x1="463.20" y1="187.30" x2="463.20" y2="190.10" stroke="#222" stroke-width="1"/>
<text transform="translate(466.60 197.00) rotate(-45)" font-size="8.2" fill="#2b2b2b" stroke="#2b2b2b" text-anchor="end">202400</text>
<text x="403.30" y="228.60" font-size="9.4" fill="#2b2b2b" stroke="#2b2b2b" text-anchor="middle" textLength="107.20" lengthAdjust="spacingAndGlyphs">Position on chromosome 1 (Kb)</text>
<text x="34.80" y="244.60" font-size="7.6" fill="#2b2b2b" stroke="#2b2b2b" textLength="39.00" lengthAdjust="spacingAndGlyphs">Population</text>
<circle cx="36.90" cy="253.6" r="1.5" fill="#0d4d3a"/>
<text x="41.50" y="255.80" font-size="7.6" fill="#2b2b2b" stroke="#2b2b2b" textLength="23.10" lengthAdjust="spacingAndGlyphs">African</text>
<circle cx="73.40" cy="253.6" r="1.5" fill="#b0122e"/>
<text x="78.50" y="255.80" font-size="7.6" fill="#2b2b2b" stroke="#2b2b2b" textLength="31.10" lengthAdjust="spacingAndGlyphs">American</text>
<circle cx="118.20" cy="253.6" r="1.5" fill="#0b2a55"/>
<text x="123.50" y="255.80" font-size="7.6" fill="#2b2b2b" stroke="#2b2b2b" textLength="34.60" lengthAdjust="spacingAndGlyphs">East Asian</text>
<circle cx="166.30" cy="253.6" r="1.5" fill="#2e9bd6"/>
<text x="171.20" y="255.80" font-size="7.6" fill="#2b2b2b" stroke="#2b2b2b" textLength="32.30" lengthAdjust="spacingAndGlyphs">European</text>
<circle cx="211.50" cy="253.6" r="1.5" fill="#f0c020"/>
<text x="216.80" y="255.80" font-size="7.6" fill="#2b2b2b" stroke="#2b2b2b" textLength="40.40" lengthAdjust="spacingAndGlyphs">South Asian</text>
<text x="293.90" y="244.60" font-size="7.6" fill="#2b2b2b" stroke="#2b2b2b" textLength="39.00" lengthAdjust="spacingAndGlyphs">Population</text>
<circle cx="295.10" cy="253.6" r="1.5" fill="#14407a"/>
<text x="300.40" y="255.80" font-size="7.6" fill="#2b2b2b" stroke="#2b2b2b" textLength="20.30" lengthAdjust="spacingAndGlyphs">British</text>
<circle cx="328.80" cy="253.6" r="1.5" fill="#c0142e"/>
<text x="333.80" y="255.80" font-size="7.6" fill="#2b2b2b" stroke="#2b2b2b" textLength="67.70" lengthAdjust="spacingAndGlyphs">European-American</text>
<circle cx="409.60" cy="253.6" r="1.5" fill="#8c8cc0"/>
<text x="415.00" y="255.80" font-size="7.6" fill="#2b2b2b" stroke="#2b2b2b" textLength="22.60" lengthAdjust="spacingAndGlyphs">Finnish</text>
<circle cx="446.20" cy="253.6" r="1.5" fill="#2a1a10"/>
<text x="451.20" y="255.80" font-size="7.6" fill="#2b2b2b" stroke="#2b2b2b" textLength="25.70" lengthAdjust="spacingAndGlyphs">Spanish</text>
<circle cx="485.40" cy="253.6" r="1.5" fill="#d0157a"/>
<text x="490.70" y="255.80" font-size="7.6" fill="#2b2b2b" stroke="#2b2b2b" textLength="22.40" lengthAdjust="spacingAndGlyphs">Tuscan</text>
<path d="M58.6 567.0L60.9 571.0L56.3 571.0Z" fill="#0b3a6b"/><path d="M59.4 535.6L61.7 531.6L57.1 531.6Z" fill="#0b3a6b"/><path d="M61.1 515.4L63.4 519.4L58.8 519.4Z" fill="#0b3a6b"/><path d="M53.3 560.5L55.6 564.5L51.0 564.5Z" fill="#0b3a6b"/><path d="M66.2 543.1L68.5 539.1L63.9 539.1Z" fill="#0b3a6b"/><path d="M54.3 554.4L56.6 558.4L52.0 558.4Z" fill="#0b3a6b"/><path d="M54.8 556.7L57.1 560.7L52.5 560.7Z" fill="#0b3a6b"/><path d="M64.2 558.7L66.5 562.7L61.9 562.7Z" fill="#0b3a6b"/><path d="M61.6 544.8L63.9 540.8L59.3 540.8Z" fill="#0b3a6b"/><path d="M66.4 561.0L68.7 565.0L64.1 565.0Z" fill="#0b3a6b"/><path d="M55.3 548.8L57.6 552.8L53.0 552.8Z" fill="#0b3a6b"/><path d="M64.3 572.8L66.6 568.8L62.0 568.8Z" fill="#0b3a6b"/><path d="M52.0 566.6L54.3 570.6L49.7 570.6Z" fill="#0b3a6b"/><path d="M66.2 557.4L68.5 553.4L63.9 553.4Z" fill="#0b3a6b"/><path d="M55.9 548.9L58.2 544.9L53.6 544.9Z" fill="#0b3a6b"/><path d="M63.0 537.1L65.3 541.1L60.7 541.1Z" fill="#0b3a6b"/><path d="M52.9 534.7L55.2 530.7L50.6 530.7Z" fill="#0b3a6b"/><path d="M58.5 561.7L60.8 565.7L56.2 565.7Z" fill="#0b3a6b"/><path d="M61.3 549.2L63.6 553.2L59.0 553.2Z" fill="#0b3a6b"/><path d="M55.9 531.2L58.2 535.2L53.6 535.2Z" fill="#0b3a6b"/><path d="M64.8 552.7L67.1 548.7L62.5 548.7Z" fill="#0b3a6b"/><path d="M61.3 568.5L63.6 572.5L59.0 572.5Z" fill="#0b3a6b"/><path d="M55.7 543.7L58.0 547.7L53.4 547.7Z" fill="#0b3a6b"/><path d="M53.1 556.6L55.4 560.6L50.8 560.6Z" fill="#0b3a6b"/><path d="M60.7 555.9L63.0 551.9L58.4 551.9Z" fill="#0b3a6b"/><path d="M59.0 565.5L61.3 569.5L56.7 569.5Z" fill="#0b3a6b"/><path d="M54.2 530.5L56.5 534.5L51.9 534.5Z" fill="#0b3a6b"/><path d="M54.8 567.4L57.1 571.4L52.5 571.4Z" fill="#0b3a6b"/><path d="M65.8 540.5L68.1 544.5L63.5 544.5Z" fill="#0b3a6b"/><path d="M53.5 567.9L55.8 571.9L51.2 571.9Z" fill="#0b3a6b"/><path d="M62.2 569.4L64.5 565.3L59.9 565.3Z" fill="#0b3a6b"/><path d="M56.3 561.4L58.6 565.4L54.0 565.4Z" fill="#0b3a6b"/><path d="M55.3 570.1L57.6 566.1L53.0 566.1Z" fill="#0b3a6b"/><path d="M56.1 559.2L58.4 563.2L53.8 563.2Z" fill="#0b3a6b"/><path d="M57.0 486.4L59.3 482.4L54.7 482.4Z" fill="#0b3a6b"/><path d="M57.0 509.8L59.3 505.8L54.7 505.8Z" fill="#0b3a6b"/><path d="M53.0 510.5L55.3 514.5L50.7 514.5Z" fill="#0b3a6b"/><path d="M61.0 524.6L63.3 528.6L58.7 528.6Z" fill="#0b3a6b"/><path d="M53.0 533.4L55.3 537.4L50.7 537.4Z" fill="#0b3a6b"/><path d="M61.0 539.1L63.3 543.1L58.7 543.1Z" fill="#0b3a6b"/>
<path d="M77.6 564.2L79.9 568.2L75.3 568.2Z" fill="#30a0da"/><path d="M89.6 550.8L91.9 546.8L87.3 546.8Z" fill="#30a0da"/><path d="M105.7 565.4L108.0 561.4L103.4 561.4Z" fill="#30a0da"/><path d="M72.5 550.1L74.8 546.1L70.2 546.1Z" fill="#30a0da"/><path d="M105.0 558.6L107.3 562.6L102.7 562.6Z" fill="#30a0da"/><path d="M95.9 568.8L98.2 572.8L93.6 572.8Z" fill="#30a0da"/><path d="M88.6 571.4L90.9 567.4L86.3 567.4Z" fill="#30a0da"/><path d="M94.8 566.8L97.1 570.8L92.5 570.8Z" fill="#30a0da"/><path d="M94.1 528.0L96.4 532.0L91.8 532.0Z" fill="#30a0da"/><path d="M98.2 561.1L100.5 557.1L95.9 557.1Z" fill="#30a0da"/><path d="M82.1 557.6L84.4 561.6L79.8 561.6Z" fill="#30a0da"/><path d="M92.3 532.6L94.6 528.6L90.0 528.6Z" fill="#30a0da"/><path d="M82.3 556.5L84.6 560.5L80.0 560.5Z" fill="#30a0da"/><path d="M100.1 562.3L102.4 566.3L97.8 566.3Z" fill="#30a0da"/><path d="M90.8 540.6L93.1 536.6L88.5 536.6Z" fill="#30a0da"/><path d="M86.6 566.9L88.9 570.9L84.3 570.9Z" fill="#30a0da"/><path d="M67.4 560.0L69.7 564.0L65.1 564.0Z" fill="#30a0da"/><path d="M73.7 537.9L76.0 541.9L71.4 541.9Z" fill="#30a0da"/><path d="M102.2 559.6L104.5 563.6L99.9 563.6Z" fill="#30a0da"/><path d="M84.0 571.7L86.3 567.7L81.7 567.7Z" fill="#30a0da"/><path d="M82.2 542.8L84.5 546.8L79.9 546.8Z" fill="#30a0da"/><path d="M86.6 570.0L88.9 566.0L84.3 566.0Z" fill="#30a0da"/><path d="M104.5 528.6L106.8 532.6L102.2 532.6Z" fill="#30a0da"/><path d="M77.9 553.8L80.2 549.8L75.6 549.8Z" fill="#30a0da"/><path d="M86.5 569.8L88.8 565.8L84.2 565.8Z" fill="#30a0da"/><path d="M84.9 546.1L87.2 550.1L82.6 550.1Z" fill="#30a0da"/><path d="M95.0 547.2L97.3 543.2L92.7 543.2Z" fill="#30a0da"/><path d="M67.8 551.0L70.1 555.0L65.5 555.0Z" fill="#30a0da"/><path d="M99.8 524.5L102.1 528.5L97.5 528.5Z" fill="#30a0da"/><path d="M91.9 563.3L94.2 559.3L89.6 559.3Z" fill="#30a0da"/><path d="M98.9 536.7L101.2 540.7L96.6 540.7Z" fill="#30a0da"/><path d="M85.8 561.5L88.1 557.5L83.5 557.5Z" fill="#30a0da"/><path d="M74.1 549.7L76.4 545.7L71.8 545.7Z" fill="#30a0da"/><path d="M87.6 562.5L89.9 566.5L85.3 566.5Z" fill="#30a0da"/><path d="M98.3 569.6L100.6 565.6L96.0 565.6Z" fill="#30a0da"/><path d="M95.5 555.9L97.8 551.9L93.2 551.9Z" fill="#30a0da"/><path d="M102.9 561.0L105.2 557.0L100.6 557.0Z" fill="#30a0da"/><path d="M98.5 552.0L100.8 548.0L96.2 548.0Z" fill="#30a0da"/><path d="M75.1 569.2L77.4 565.2L72.8 565.2Z" fill="#30a0da"/><path d="M95.3 571.4L97.6 567.3L93.0 567.3Z" fill="#30a0da"/><path d="M105.6 563.5L107.9 567.5L103.3 567.5Z" fill="#30a0da"/><path d="M102.9 545.0L105.2 549.0L100.6 549.0Z" fill="#30a0da"/><path d="M84.4 562.8L86.7 566.8L82.1 566.8Z" fill="#30a0da"/><path d="M68.1 548.0L70.4 552.0L65.8 552.0Z" fill="#30a0da"/><path d="M80.2 524.4L82.5 528.4L77.9 528.4Z" fill="#30a0da"/><path d="M87.4 569.8L89.7 565.8L85.1 565.8Z" fill="#30a0da"/><path d="M104.4 567.6L106.7 571.6L102.1 571.6Z" fill="#30a0da"/><path d="M75.7 545.8L78.0 541.8L73.4 541.8Z" fill="#30a0da"/><path d="M92.2 569.9L94.5 565.9L89.9 565.9Z" fill="#30a0da"/><path d="M79.3 569.9L81.6 565.9L77.0 565.9Z" fill="#30a0da"/><path d="M75.2 573.0L77.5 569.0L72.9 569.0Z" fill="#30a0da"/><path d="M89.6 559.6L91.9 555.6L87.3 555.6Z" fill="#30a0da"/><path d="M90.9 573.0L93.2 569.0L88.6 569.0Z" fill="#30a0da"/><path d="M82.8 555.8L85.1 559.8L80.5 559.8Z" fill="#30a0da"/><path d="M94.3 554.8L96.6 558.8L92.0 558.8Z" fill="#30a0da"/><path d="M104.8 556.2L107.1 560.2L102.5 560.2Z" fill="#30a0da"/><path d="M72.0 569.1L74.3 565.1L69.7 565.1Z" fill="#30a0da"/><path d="M85.8 536.4L88.1 532.4L83.5 532.4Z" fill="#30a0da"/><path d="M103.5 563.1L105.8 567.1L101.2 567.1Z" fill="#30a0da"/><path d="M74.7 560.3L77.0 564.3L72.4 564.3Z" fill="#30a0da"/><path d="M81.0 522.8L83.3 518.8L78.7 518.8Z" fill="#30a0da"/><path d="M71.8 537.5L74.1 541.5L69.5 541.5Z" fill="#30a0da"/><path d="M87.9 546.7L90.2 550.7L85.6 550.7Z" fill="#30a0da"/><path d="M87.9 537.9L90.2 533.9L85.6 533.9Z" fill="#30a0da"/><path d="M92.2 570.1L94.5 566.1L89.9 566.1Z" fill="#30a0da"/><path d="M100.8 567.0L103.1 563.0L98.5 563.0Z" fill="#30a0da"/><path d="M102.7 547.6L105.0 543.6L100.4 543.6Z" fill="#30a0da"/><path d="M75.6 527.2L77.9 531.2L73.3 531.2Z" fill="#30a0da"/><path d="M76.5 538.3L78.8 542.3L74.2 542.3Z" fill="#30a0da"/><path d="M99.9 563.4L102.2 567.4L97.6 567.4Z" fill="#30a0da"/><path d="M82.9 568.5L85.2 564.5L80.6 564.5Z" fill="#30a0da"/><path d="M103.0 568.3L105.3 564.3L100.7 564.3Z" fill="#30a0da"/><path d="M96.9 560.2L99.2 564.2L94.6 564.2Z" fill="#30a0da"/><path d="M69.8 559.4L72.1 555.4L67.5 555.4Z" fill="#30a0da"/><path d="M89.5 530.6L91.8 534.6L87.2 534.6Z" fill="#30a0da"/><path d="M100.2 525.4L102.5 529.4L97.9 529.4Z" fill="#30a0da"/><path d="M69.4 552.1L71.7 548.1L67.1 548.1Z" fill="#30a0da"/><path d="M79.9 553.8L82.2 557.8L77.6 557.8Z" fill="#30a0da"/><path d="M90.7 565.7L93.0 561.7L88.4 561.7Z" fill="#30a0da"/><path d="M74.2 561.9L76.5 566.0L71.9 566.0Z" fill="#30a0da"/><path d="M74.7 553.7L77.0 557.7L72.4 557.7Z" fill="#30a0da"/><path d="M102.3 565.8L104.6 561.8L100.0 561.8Z" fill="#30a0da"/><path d="M91.9 562.2L94.2 558.2L89.6 558.2Z" fill="#30a0da"/><path d="M105.8 543.2L108.1 539.2L103.5 539.2Z" fill="#30a0da"/><path d="M96.4 564.1L98.7 568.1L94.1 568.1Z" fill="#30a0da"/><path d="M102.4 565.5L104.7 561.5L100.1 561.5Z" fill="#30a0da"/><path d="M97.2 561.4L99.5 565.4L94.9 565.4Z" fill="#30a0da"/><path d="M80.5 564.5L82.8 560.5L78.2 560.5Z" fill="#30a0da"/><path d="M91.6 572.4L93.9 568.4L89.3 568.4Z" fill="#30a0da"/><path d="M80.3 561.0L82.6 557.0L78.0 557.0Z" fill="#30a0da"/><path d="M82.4 543.7L84.7 539.7L80.1 539.7Z" fill="#30a0da"/><path d="M97.1 572.7L99.4 568.7L94.8 568.7Z" fill="#30a0da"/><path d="M96.2 548.2L98.5 552.2L93.9 552.2Z" fill="#30a0da"/><path d="M74.7 516.4L77.0 520.4L72.4 520.4Z" fill="#30a0da"/><path d="M102.8 558.4L105.1 554.4L100.5 554.4Z" fill="#30a0da"/><path d="M89.4 543.9L91.7 539.9L87.1 539.9Z" fill="#30a0da"/><path d="M70.0 562.5L72.3 566.6L67.7 566.6Z" fill="#30a0da"/><path d="M103.7 551.8L106.0 555.8L101.4 555.8Z" fill="#30a0da"/><path d="M86.6 544.2L88.9 548.2L84.3 548.2Z" fill="#30a0da"/><path d="M87.8 546.0L90.1 550.0L85.5 550.0Z" fill="#30a0da"/><path d="M92.9 545.3L95.2 541.3L90.6 541.3Z" fill="#30a0da"/><path d="M78.7 537.0L81.0 541.0L76.4 541.0Z" fill="#30a0da"/><path d="M73.2 552.5L75.5 548.5L70.9 548.5Z" fill="#30a0da"/><path d="M96.6 573.5L98.9 569.5L94.3 569.5Z" fill="#30a0da"/><path d="M69.9 548.7L72.2 552.7L67.6 552.7Z" fill="#30a0da"/><path d="M105.4 559.1L107.7 555.1L103.1 555.1Z" fill="#30a0da"/><path d="M95.5 573.2L97.8 569.2L93.2 569.2Z" fill="#30a0da"/><path d="M90.8 558.1L93.1 562.1L88.5 562.1Z" fill="#30a0da"/><path d="M75.0 554.3L77.3 558.4L72.7 558.4Z" fill="#30a0da"/><path d="M75.0 486.1L77.3 490.1L72.7 490.1Z" fill="#30a0da"/><path d="M99.0 500.6L101.3 504.7L96.7 504.7Z" fill="#30a0da"/><path d="M68.0 513.9L70.3 509.9L65.7 509.9Z" fill="#30a0da"/><path d="M72.5 509.5L74.8 513.5L70.2 513.5Z" fill="#30a0da"/><path d="M88.0 516.8L90.3 520.8L85.7 520.8Z" fill="#30a0da"/><path d="M95.0 524.3L97.3 520.3L92.7 520.3Z" fill="#30a0da"/><path d="M103.0 519.4L105.3 523.4L100.7 523.4Z" fill="#30a0da"/><path d="M92.0 520.9L94.3 524.9L89.7 524.9Z" fill="#30a0da"/>
<path d="M122.3 551.0L124.6 555.0L120.0 555.0Z" fill="#c4102c"/><path d="M126.5 568.1L128.8 564.1L124.2 564.1Z" fill="#c4102c"/><path d="M138.9 534.4L141.2 538.4L136.6 538.4Z" fill="#c4102c"/><path d="M112.4 537.0L114.7 533.0L110.1 533.0Z" fill="#c4102c"/><path d="M119.8 565.2L122.1 561.2L117.5 561.2Z" fill="#c4102c"/><path d="M126.8 562.4L129.1 566.4L124.5 566.4Z" fill="#c4102c"/><path d="M116.5 530.9L118.8 526.9L114.2 526.9Z" fill="#c4102c"/><path d="M110.2 539.3L112.5 543.3L107.9 543.3Z" fill="#c4102c"/><path d="M127.7 554.9L130.0 558.9L125.4 558.9Z" fill="#c4102c"/><path d="M111.6 560.3L113.9 556.3L109.3 556.3Z" fill="#c4102c"/><path d="M120.2 533.6L122.5 537.6L117.9 537.6Z" fill="#c4102c"/><path d="M131.3 570.6L133.6 566.6L129.0 566.6Z" fill="#c4102c"/><path d="M127.7 533.9L130.0 537.9L125.4 537.9Z" fill="#c4102c"/><path d="M116.7 551.2L119.0 547.2L114.4 547.2Z" fill="#c4102c"/><path d="M138.7 560.2L141.0 556.2L136.4 556.2Z" fill="#c4102c"/><path d="M136.6 546.3L138.9 550.3L134.3 550.3Z" fill="#c4102c"/><path d="M135.3 517.5L137.6 513.5L133.0 513.5Z" fill="#c4102c"/><path d="M123.5 546.5L125.8 542.5L121.2 542.5Z" fill="#c4102c"/><path d="M111.3 559.5L113.6 563.5L109.0 563.5Z" fill="#c4102c"/><path d="M118.1 560.5L120.4 564.5L115.8 564.5Z" fill="#c4102c"/><path d="M113.3 561.5L115.6 565.5L111.0 565.5Z" fill="#c4102c"/><path d="M112.5 561.0L114.8 557.0L110.2 557.0Z" fill="#c4102c"/><path d="M137.2 553.2L139.5 549.2L134.9 549.2Z" fill="#c4102c"/><path d="M118.1 553.0L120.4 549.0L115.8 549.0Z" fill="#c4102c"/><path d="M135.8 545.8L138.1 549.8L133.5 549.8Z" fill="#c4102c"/><path d="M119.9 547.4L122.2 551.4L117.6 551.4Z" fill="#c4102c"/><path d="M125.9 559.8L128.2 555.8L123.6 555.8Z" fill="#c4102c"/><path d="M125.9 567.5L128.2 563.5L123.6 563.5Z" fill="#c4102c"/><path d="M117.4 558.8L119.7 554.8L115.1 554.8Z" fill="#c4102c"/><path d="M126.0 543.3L128.3 539.3L123.7 539.3Z" fill="#c4102c"/><path d="M110.9 563.4L113.2 567.4L108.6 567.4Z" fill="#c4102c"/><path d="M111.5 566.4L113.8 570.4L109.2 570.4Z" fill="#c4102c"/><path d="M128.0 567.1L130.3 563.1L125.7 563.1Z" fill="#c4102c"/><path d="M116.4 567.7L118.7 563.7L114.1 563.7Z" fill="#c4102c"/><path d="M131.9 549.2L134.2 545.2L129.6 545.2Z" fill="#c4102c"/><path d="M129.2 559.7L131.5 555.7L126.9 555.7Z" fill="#c4102c"/><path d="M130.2 554.5L132.5 550.5L127.9 550.5Z" fill="#c4102c"/><path d="M129.0 568.9L131.3 564.9L126.7 564.9Z" fill="#c4102c"/><path d="M135.7 543.8L138.0 539.8L133.4 539.8Z" fill="#c4102c"/><path d="M130.3 549.3L132.6 553.3L128.0 553.3Z" fill="#c4102c"/><path d="M113.4 568.6L115.7 572.6L111.1 572.6Z" fill="#c4102c"/><path d="M114.0 549.4L116.3 553.4L111.7 553.4Z" fill="#c4102c"/><path d="M138.1 542.2L140.4 546.2L135.8 546.2Z" fill="#c4102c"/><path d="M128.4 530.0L130.7 534.0L126.1 534.0Z" fill="#c4102c"/><path d="M122.8 566.6L125.1 570.6L120.5 570.6Z" fill="#c4102c"/><path d="M112.3 534.3L114.6 538.3L110.0 538.3Z" fill="#c4102c"/><path d="M130.5 535.0L132.8 539.0L128.2 539.0Z" fill="#c4102c"/><path d="M117.4 562.5L119.7 566.5L115.1 566.5Z" fill="#c4102c"/><path d="M125.4 552.2L127.7 556.2L123.1 556.2Z" fill="#c4102c"/><path d="M135.6 557.7L137.9 553.7L133.3 553.7Z" fill="#c4102c"/><path d="M137.7 534.7L140.0 538.7L135.4 538.7Z" fill="#c4102c"/><path d="M137.4 552.2L139.7 548.2L135.1 548.2Z" fill="#c4102c"/><path d="M124.5 573.5L126.8 569.5L122.2 569.5Z" fill="#c4102c"/><path d="M116.1 551.8L118.4 555.8L113.8 555.8Z" fill="#c4102c"/><path d="M132.9 557.5L135.2 561.5L130.6 561.5Z" fill="#c4102c"/><path d="M113.7 543.3L116.0 539.3L111.4 539.3Z" fill="#c4102c"/><path d="M124.5 568.6L126.8 572.6L122.2 572.6Z" fill="#c4102c"/><path d="M125.0 562.9L127.3 566.9L122.7 566.9Z" fill="#c4102c"/><path d="M133.6 564.3L135.9 568.3L131.3 568.3Z" fill="#c4102c"/><path d="M117.1 516.1L119.4 520.1L114.8 520.1Z" fill="#c4102c"/><path d="M123.1 546.3L125.4 542.3L120.8 542.3Z" fill="#c4102c"/><path d="M118.1 554.0L120.4 550.0L115.8 550.0Z" fill="#c4102c"/><path d="M111.7 538.3L114.0 534.3L109.4 534.3Z" fill="#c4102c"/><path d="M124.8 564.6L127.1 568.6L122.5 568.6Z" fill="#c4102c"/><path d="M118.3 542.0L120.6 546.0L116.0 546.0Z" fill="#c4102c"/><path d="M130.5 560.3L132.8 564.3L128.2 564.3Z" fill="#c4102c"/><path d="M120.8 573.0L123.1 569.0L118.5 569.0Z" fill="#c4102c"/><path d="M128.6 551.7L130.9 547.7L126.3 547.7Z" fill="#c4102c"/><path d="M116.1 551.1L118.4 555.1L113.8 555.1Z" fill="#c4102c"/><path d="M138.7 538.1L141.0 534.1L136.4 534.1Z" fill="#c4102c"/><path d="M117.7 554.8L120.0 558.8L115.4 558.8Z" fill="#c4102c"/><path d="M119.1 559.6L121.4 563.6L116.8 563.6Z" fill="#c4102c"/><path d="M115.0 548.7L117.3 544.7L112.7 544.7Z" fill="#c4102c"/><path d="M125.9 548.8L128.2 544.8L123.6 544.8Z" fill="#c4102c"/><path d="M111.8 520.4L114.1 516.4L109.5 516.4Z" fill="#c4102c"/><path d="M130.2 553.2L132.5 549.2L127.9 549.2Z" fill="#c4102c"/><path d="M126.8 535.2L129.1 539.2L124.5 539.2Z" fill="#c4102c"/><path d="M112.7 544.8L115.0 548.8L110.4 548.8Z" fill="#c4102c"/><path d="M124.3 567.7L126.6 563.7L122.0 563.7Z" fill="#c4102c"/><path d="M120.6 548.8L122.9 552.8L118.3 552.8Z" fill="#c4102c"/><path d="M121.0 573.3L123.3 569.3L118.7 569.3Z" fill="#c4102c"/><path d="M128.8 560.2L131.1 564.2L126.5 564.2Z" fill="#c4102c"/><path d="M128.5 551.7L130.8 547.7L126.2 547.7Z" fill="#c4102c"/><path d="M132.7 557.7L135.0 561.7L130.4 561.7Z" fill="#c4102c"/><path d="M132.0 543.1L134.3 547.1L129.7 547.1Z" fill="#c4102c"/><path d="M124.0 566.1L126.3 562.1L121.7 562.1Z" fill="#c4102c"/><path d="M124.5 564.7L126.8 568.7L122.2 568.7Z" fill="#c4102c"/><path d="M137.3 532.2L139.6 536.2L135.0 536.2Z" fill="#c4102c"/><path d="M116.3 560.6L118.6 564.6L114.0 564.6Z" fill="#c4102c"/><path d="M136.9 551.4L139.2 555.4L134.6 555.4Z" fill="#c4102c"/><path d="M138.2 571.5L140.5 567.5L135.9 567.5Z" fill="#c4102c"/><path d="M125.8 543.7L128.1 539.7L123.5 539.7Z" fill="#c4102c"/><path d="M130.0 493.4L132.3 497.4L127.7 497.4Z" fill="#c4102c"/><path d="M130.5 501.2L132.8 505.2L128.2 505.2Z" fill="#c4102c"/><path d="M131.0 502.7L133.3 506.7L128.7 506.7Z" fill="#c4102c"/><path d="M115.0 519.4L117.3 523.4L112.7 523.4Z" fill="#c4102c"/><path d="M120.0 525.4L122.3 521.4L117.7 521.4Z" fill="#c4102c"/><path d="M135.0 520.4L137.3 524.4L132.7 524.4Z" fill="#c4102c"/><path d="M112.0 526.9L114.3 522.9L109.7 522.9Z" fill="#c4102c"/>
<path d="M152.4 557.3L154.7 561.3L150.1 561.3Z" fill="#f0920e"/><path d="M150.0 566.3L152.3 570.3L147.7 570.3Z" fill="#f0920e"/><path d="M146.5 535.7L148.8 531.7L144.2 531.7Z" fill="#f0920e"/><path d="M139.6 535.0L141.9 531.0L137.3 531.0Z" fill="#f0920e"/><path d="M151.7 547.1L154.0 543.1L149.4 543.1Z" fill="#f0920e"/><path d="M148.8 561.9L151.1 557.9L146.5 557.9Z" fill="#f0920e"/><path d="M138.7 551.6L141.0 555.6L136.4 555.6Z" fill="#f0920e"/><path d="M143.9 534.2L146.2 530.2L141.6 530.2Z" fill="#f0920e"/><path d="M142.2 548.8L144.5 544.8L139.9 544.8Z" fill="#f0920e"/><path d="M139.0 530.1L141.3 526.1L136.7 526.1Z" fill="#f0920e"/><path d="M146.9 553.7L149.2 549.7L144.6 549.7Z" fill="#f0920e"/><path d="M148.2 562.3L150.5 566.3L145.9 566.3Z" fill="#f0920e"/><path d="M152.4 565.2L154.7 569.2L150.1 569.2Z" fill="#f0920e"/><path d="M144.6 571.5L146.9 567.5L142.3 567.5Z" fill="#f0920e"/><path d="M145.9 566.5L148.2 570.5L143.6 570.5Z" fill="#f0920e"/><path d="M139.3 571.4L141.6 567.4L137.0 567.4Z" fill="#f0920e"/><path d="M146.9 546.9L149.2 542.9L144.6 542.9Z" fill="#f0920e"/><path d="M139.5 555.5L141.8 551.5L137.2 551.5Z" fill="#f0920e"/><path d="M144.1 565.5L146.4 561.5L141.8 561.5Z" fill="#f0920e"/><path d="M141.8 547.8L144.1 551.8L139.5 551.8Z" fill="#f0920e"/><path d="M139.5 528.5L141.8 524.5L137.2 524.5Z" fill="#f0920e"/><path d="M150.6 563.9L152.9 567.9L148.3 567.9Z" fill="#f0920e"/><path d="M149.0 566.5L151.3 570.5L146.7 570.5Z" fill="#f0920e"/><path d="M149.6 559.7L151.9 555.7L147.3 555.7Z" fill="#f0920e"/><path d="M138.5 541.5L140.8 545.5L136.2 545.5Z" fill="#f0920e"/><path d="M139.4 530.6L141.7 534.6L137.1 534.6Z" fill="#f0920e"/><path d="M143.5 572.9L145.8 568.9L141.2 568.9Z" fill="#f0920e"/><path d="M142.8 572.2L145.1 568.2L140.5 568.2Z" fill="#f0920e"/><path d="M145.1 546.2L147.4 542.2L142.8 542.2Z" fill="#f0920e"/><path d="M151.1 564.8L153.4 568.8L148.8 568.8Z" fill="#f0920e"/><path d="M145.1 570.8L147.4 566.8L142.8 566.8Z" fill="#f0920e"/><path d="M141.3 536.4L143.6 532.4L139.0 532.4Z" fill="#f0920e"/><path d="M139.2 561.5L141.5 565.5L136.9 565.5Z" fill="#f0920e"/><path d="M151.1 561.1L153.4 565.1L148.8 565.1Z" fill="#f0920e"/><path d="M148.2 547.9L150.5 551.9L145.9 551.9Z" fill="#f0920e"/><path d="M141.6 561.1L143.9 565.1L139.3 565.1Z" fill="#f0920e"/><path d="M141.0 564.5L143.3 560.5L138.7 560.5Z" fill="#f0920e"/><path d="M143.7 571.0L146.0 567.0L141.4 567.0Z" fill="#f0920e"/><path d="M141.7 572.0L144.0 568.0L139.4 568.0Z" fill="#f0920e"/><path d="M142.4 519.3L144.7 515.3L140.1 515.3Z" fill="#f0920e"/><path d="M142.0 484.5L144.3 488.5L139.7 488.5Z" fill="#f0920e"/><path d="M140.0 523.0L142.3 527.0L137.7 527.0Z" fill="#f0920e"/><path d="M148.0 526.1L150.3 530.1L145.7 530.1Z" fill="#f0920e"/>
<path d="M159.5 554.5L161.8 558.5L157.2 558.5Z" fill="#8888cc"/><path d="M162.2 542.5L164.5 538.5L159.9 538.5Z" fill="#8888cc"/><path d="M153.5 562.4L155.8 566.4L151.2 566.4Z" fill="#8888cc"/><path d="M156.7 535.8L159.0 531.8L154.4 531.8Z" fill="#8888cc"/><path d="M168.8 556.3L171.1 552.3L166.5 552.3Z" fill="#8888cc"/><path d="M158.5 545.4L160.8 549.4L156.2 549.4Z" fill="#8888cc"/><path d="M161.5 550.6L163.8 546.6L159.2 546.6Z" fill="#8888cc"/><path d="M165.3 558.3L167.6 554.3L163.0 554.3Z" fill="#8888cc"/><path d="M163.6 567.6L165.9 571.6L161.3 571.6Z" fill="#8888cc"/><path d="M165.3 557.5L167.6 561.5L163.0 561.5Z" fill="#8888cc"/><path d="M159.5 568.3L161.8 564.3L157.2 564.3Z" fill="#8888cc"/><path d="M156.0 539.7L158.3 535.7L153.7 535.7Z" fill="#8888cc"/><path d="M160.5 562.1L162.8 558.1L158.2 558.1Z" fill="#8888cc"/><path d="M161.7 530.0L164.0 534.0L159.4 534.0Z" fill="#8888cc"/><path d="M152.3 550.0L154.6 554.0L150.0 554.0Z" fill="#8888cc"/><path d="M156.5 550.1L158.8 546.1L154.2 546.1Z" fill="#8888cc"/><path d="M161.2 536.3L163.5 540.4L158.9 540.4Z" fill="#8888cc"/><path d="M157.3 547.6L159.6 543.6L155.0 543.6Z" fill="#8888cc"/><path d="M160.9 556.8L163.2 560.8L158.6 560.8Z" fill="#8888cc"/><path d="M165.9 537.9L168.2 541.9L163.6 541.9Z" fill="#8888cc"/><path d="M163.7 563.4L166.0 567.4L161.4 567.4Z" fill="#8888cc"/><path d="M159.0 539.2L161.3 535.2L156.7 535.2Z" fill="#8888cc"/><path d="M152.7 567.6L155.0 563.6L150.4 563.6Z" fill="#8888cc"/><path d="M154.5 562.1L156.8 566.1L152.2 566.1Z" fill="#8888cc"/><path d="M156.1 562.1L158.4 566.1L153.8 566.1Z" fill="#8888cc"/><path d="M157.1 572.8L159.4 568.8L154.8 568.8Z" fill="#8888cc"/><path d="M165.0 535.6L167.3 539.6L162.7 539.6Z" fill="#8888cc"/><path d="M161.4 556.3L163.7 552.3L159.1 552.3Z" fill="#8888cc"/><path d="M158.2 573.3L160.5 569.3L155.9 569.3Z" fill="#8888cc"/><path d="M152.7 559.0L155.0 563.0L150.4 563.0Z" fill="#8888cc"/><path d="M157.8 570.4L160.1 566.4L155.5 566.4Z" fill="#8888cc"/><path d="M167.1 552.6L169.4 548.6L164.8 548.6Z" fill="#8888cc"/><path d="M158.5 534.1L160.8 538.1L156.2 538.1Z" fill="#8888cc"/><path d="M155.1 527.9L157.4 531.9L152.8 531.9Z" fill="#8888cc"/><path d="M155.6 542.2L157.9 546.2L153.3 546.2Z" fill="#8888cc"/><path d="M168.9 565.4L171.2 569.4L166.6 569.4Z" fill="#8888cc"/><path d="M158.5 560.4L160.8 564.4L156.2 564.4Z" fill="#8888cc"/><path d="M156.7 530.3L159.0 534.3L154.4 534.3Z" fill="#8888cc"/><path d="M158.7 535.3L161.0 539.3L156.4 539.3Z" fill="#8888cc"/><path d="M158.1 567.3L160.4 571.3L155.8 571.3Z" fill="#8888cc"/><path d="M165.0 566.6L167.3 570.6L162.7 570.6Z" fill="#8888cc"/><path d="M157.5 517.6L159.8 513.6L155.2 513.6Z" fill="#8888cc"/><path d="M157.5 554.0L159.8 558.0L155.2 558.0Z" fill="#8888cc"/><path d="M158.7 569.8L161.0 565.8L156.4 565.8Z" fill="#8888cc"/><path d="M152.5 554.4L154.8 550.4L150.2 550.4Z" fill="#8888cc"/><path d="M154.3 543.3L156.6 539.3L152.0 539.3Z" fill="#8888cc"/><path d="M163.5 478.8L165.8 482.8L161.2 482.8Z" fill="#8888cc"/><path d="M163.5 485.6L165.8 489.6L161.2 489.6Z" fill="#8888cc"/><path d="M166.0 496.0L168.3 500.0L163.7 500.0Z" fill="#8888cc"/><path d="M153.0 503.0L155.3 499.0L150.7 499.0Z" fill="#8888cc"/><path d="M158.0 515.5L160.3 511.5L155.7 511.5Z" fill="#8888cc"/><path d="M155.0 524.3L157.3 520.3L152.7 520.3Z" fill="#8888cc"/><path d="M160.0 519.1L162.3 515.1L157.7 515.1Z" fill="#8888cc"/>
<path d="M182.2 533.0L184.5 537.0L179.9 537.0Z" fill="#5a1a62"/><path d="M183.1 552.3L185.4 548.3L180.8 548.3Z" fill="#5a1a62"/><path d="M173.1 544.7L175.4 548.7L170.8 548.7Z" fill="#5a1a62"/><path d="M169.3 563.3L171.6 559.3L167.0 559.3Z" fill="#5a1a62"/><path d="M185.1 559.8L187.4 555.8L182.8 555.8Z" fill="#5a1a62"/><path d="M187.3 565.3L189.6 561.3L185.0 561.3Z" fill="#5a1a62"/><path d="M188.1 541.0L190.4 537.0L185.8 537.0Z" fill="#5a1a62"/><path d="M170.3 547.6L172.6 551.6L168.0 551.6Z" fill="#5a1a62"/><path d="M176.4 553.0L178.7 557.0L174.1 557.0Z" fill="#5a1a62"/><path d="M171.8 552.0L174.1 556.0L169.5 556.0Z" fill="#5a1a62"/><path d="M182.1 515.1L184.4 519.1L179.8 519.1Z" fill="#5a1a62"/><path d="M177.2 561.5L179.5 557.5L174.9 557.5Z" fill="#5a1a62"/><path d="M179.8 558.6L182.1 562.6L177.5 562.6Z" fill="#5a1a62"/><path d="M169.8 560.8L172.1 556.8L167.5 556.8Z" fill="#5a1a62"/><path d="M178.1 537.8L180.4 541.8L175.8 541.8Z" fill="#5a1a62"/><path d="M175.6 542.3L177.9 546.3L173.3 546.3Z" fill="#5a1a62"/><path d="M182.2 556.6L184.5 552.6L179.9 552.6Z" fill="#5a1a62"/><path d="M188.1 561.3L190.4 557.3L185.8 557.3Z" fill="#5a1a62"/><path d="M184.3 558.0L186.6 562.0L182.0 562.0Z" fill="#5a1a62"/><path d="M177.0 569.5L179.3 565.5L174.7 565.5Z" fill="#5a1a62"/><path d="M176.3 567.0L178.6 571.0L174.0 571.0Z" fill="#5a1a62"/><path d="M178.9 550.7L181.2 546.7L176.6 546.7Z" fill="#5a1a62"/><path d="M171.6 540.4L173.9 536.4L169.3 536.4Z" fill="#5a1a62"/><path d="M173.3 555.0L175.6 559.0L171.0 559.0Z" fill="#5a1a62"/><path d="M173.4 564.0L175.7 560.0L171.1 560.0Z" fill="#5a1a62"/><path d="M181.3 569.6L183.6 565.6L179.0 565.6Z" fill="#5a1a62"/><path d="M175.3 566.0L177.6 570.0L173.0 570.0Z" fill="#5a1a62"/><path d="M183.2 565.2L185.5 561.2L180.9 561.2Z" fill="#5a1a62"/><path d="M185.4 558.0L187.7 562.0L183.1 562.0Z" fill="#5a1a62"/><path d="M180.1 545.4L182.4 541.4L177.8 541.4Z" fill="#5a1a62"/><path d="M179.4 537.4L181.7 541.4L177.1 541.4Z" fill="#5a1a62"/><path d="M172.1 522.0L174.4 526.0L169.8 526.0Z" fill="#5a1a62"/><path d="M169.9 560.9L172.2 564.9L167.6 564.9Z" fill="#5a1a62"/><path d="M177.8 552.2L180.1 556.2L175.5 556.2Z" fill="#5a1a62"/><path d="M186.3 567.1L188.6 563.1L184.0 563.1Z" fill="#5a1a62"/><path d="M184.8 561.2L187.1 565.2L182.5 565.2Z" fill="#5a1a62"/><path d="M183.2 549.0L185.5 545.0L180.9 545.0Z" fill="#5a1a62"/><path d="M185.8 556.0L188.1 560.0L183.5 560.0Z" fill="#5a1a62"/><path d="M183.0 569.6L185.3 565.5L180.7 565.5Z" fill="#5a1a62"/><path d="M171.1 559.7L173.4 563.7L168.8 563.7Z" fill="#5a1a62"/><path d="M172.3 561.6L174.6 557.6L170.0 557.6Z" fill="#5a1a62"/><path d="M188.4 560.3L190.7 564.3L186.1 564.3Z" fill="#5a1a62"/><path d="M181.4 572.2L183.7 568.2L179.1 568.2Z" fill="#5a1a62"/><path d="M169.5 520.6L171.8 524.6L167.2 524.6Z" fill="#5a1a62"/><path d="M174.4 568.6L176.7 572.6L172.1 572.6Z" fill="#5a1a62"/><path d="M175.3 555.0L177.6 559.0L173.0 559.0Z" fill="#5a1a62"/><path d="M176.2 568.7L178.5 564.7L173.9 564.7Z" fill="#5a1a62"/><path d="M174.3 562.9L176.6 558.9L172.0 558.9Z" fill="#5a1a62"/><path d="M188.6 565.5L190.9 561.5L186.3 561.5Z" fill="#5a1a62"/><path d="M184.9 529.4L187.2 533.4L182.6 533.4Z" fill="#5a1a62"/><path d="M187.6 552.6L189.9 556.6L185.3 556.6Z" fill="#5a1a62"/><path d="M175.1 555.9L177.4 559.9L172.8 559.9Z" fill="#5a1a62"/><path d="M181.3 535.3L183.6 539.3L179.0 539.3Z" fill="#5a1a62"/><path d="M176.0 572.1L178.3 568.1L173.7 568.1Z" fill="#5a1a62"/><path d="M174.8 530.4L177.1 534.4L172.5 534.4Z" fill="#5a1a62"/><path d="M188.9 565.6L191.2 569.6L186.6 569.6Z" fill="#5a1a62"/><path d="M177.0 547.8L179.3 551.8L174.7 551.8Z" fill="#5a1a62"/><path d="M174.0 511.3L176.3 507.3L171.7 507.3Z" fill="#5a1a62"/><path d="M185.0 511.6L187.3 515.6L182.7 515.6Z" fill="#5a1a62"/><path d="M189.0 518.6L191.3 514.6L186.7 514.6Z" fill="#5a1a62"/><path d="M170.0 516.8L172.3 520.8L167.7 520.8Z" fill="#5a1a62"/><path d="M184.0 513.9L186.3 509.9L181.7 509.9Z" fill="#5a1a62"/>
<path d="M207.8 558.1L210.1 562.1L205.5 562.1Z" fill="#2ca02c"/><path d="M219.6 568.6L221.9 572.6L217.3 572.6Z" fill="#2ca02c"/><path d="M216.4 529.5L218.7 533.5L214.1 533.5Z" fill="#2ca02c"/><path d="M196.1 564.4L198.4 560.4L193.8 560.4Z" fill="#2ca02c"/><path d="M200.5 568.3L202.8 564.3L198.2 564.3Z" fill="#2ca02c"/><path d="M191.3 569.0L193.6 565.0L189.0 565.0Z" fill="#2ca02c"/><path d="M213.4 568.8L215.7 564.8L211.1 564.8Z" fill="#2ca02c"/><path d="M214.4 569.0L216.7 565.0L212.1 565.0Z" fill="#2ca02c"/><path d="M203.3 542.5L205.6 538.5L201.0 538.5Z" fill="#2ca02c"/><path d="M191.7 535.3L194.0 539.3L189.4 539.3Z" fill="#2ca02c"/><path d="M202.3 564.0L204.6 568.0L200.0 568.0Z" fill="#2ca02c"/><path d="M210.5 544.9L212.8 540.9L208.2 540.9Z" fill="#2ca02c"/><path d="M200.8 549.0L203.1 545.0L198.5 545.0Z" fill="#2ca02c"/><path d="M197.4 560.1L199.7 556.1L195.1 556.1Z" fill="#2ca02c"/><path d="M196.4 524.8L198.7 528.8L194.1 528.8Z" fill="#2ca02c"/><path d="M204.1 553.2L206.4 557.2L201.8 557.2Z" fill="#2ca02c"/><path d="M200.8 567.7L203.1 571.7L198.5 571.7Z" fill="#2ca02c"/><path d="M217.9 562.4L220.2 566.4L215.6 566.4Z" fill="#2ca02c"/><path d="M221.1 567.9L223.4 571.9L218.8 571.9Z" fill="#2ca02c"/><path d="M203.5 529.8L205.8 533.8L201.2 533.8Z" fill="#2ca02c"/><path d="M211.7 553.7L214.0 557.7L209.4 557.7Z" fill="#2ca02c"/><path d="M201.9 566.8L204.2 562.8L199.6 562.8Z" fill="#2ca02c"/><path d="M202.5 538.7L204.8 534.7L200.2 534.7Z" fill="#2ca02c"/><path d="M218.1 563.2L220.4 559.2L215.8 559.2Z" fill="#2ca02c"/><path d="M208.3 569.7L210.6 565.7L206.0 565.7Z" fill="#2ca02c"/><path d="M204.8 549.1L207.1 553.1L202.5 553.1Z" fill="#2ca02c"/><path d="M198.0 561.1L200.3 557.1L195.7 557.1Z" fill="#2ca02c"/><path d="M192.0 555.5L194.3 551.5L189.7 551.5Z" fill="#2ca02c"/><path d="M209.1 561.7L211.4 565.7L206.8 565.7Z" fill="#2ca02c"/><path d="M221.3 547.5L223.6 543.5L219.0 543.5Z" fill="#2ca02c"/><path d="M221.2 565.6L223.5 569.6L218.9 569.6Z" fill="#2ca02c"/><path d="M221.2 540.9L223.5 536.9L218.9 536.9Z" fill="#2ca02c"/><path d="M210.8 534.9L213.1 530.9L208.5 530.9Z" fill="#2ca02c"/><path d="M206.6 570.7L208.9 566.7L204.3 566.7Z" fill="#2ca02c"/><path d="M212.7 563.9L215.0 567.9L210.4 567.9Z" fill="#2ca02c"/><path d="M207.4 532.0L209.7 536.0L205.1 536.0Z" fill="#2ca02c"/><path d="M210.6 560.4L212.9 556.4L208.3 556.4Z" fill="#2ca02c"/><path d="M206.0 568.7L208.3 564.7L203.7 564.7Z" fill="#2ca02c"/><path d="M214.5 571.5L216.8 567.5L212.2 567.5Z" fill="#2ca02c"/><path d="M195.6 516.8L197.9 520.8L193.3 520.8Z" fill="#2ca02c"/><path d="M201.5 564.7L203.8 568.7L199.2 568.7Z" fill="#2ca02c"/><path d="M196.5 570.0L198.8 566.0L194.2 566.0Z" fill="#2ca02c"/><path d="M218.5 568.5L220.8 572.5L216.2 572.5Z" fill="#2ca02c"/><path d="M210.2 561.6L212.5 565.6L207.9 565.6Z" fill="#2ca02c"/><path d="M211.4 559.9L213.7 563.9L209.1 563.9Z" fill="#2ca02c"/><path d="M210.2 562.3L212.5 558.3L207.9 558.3Z" fill="#2ca02c"/><path d="M196.5 560.5L198.8 564.5L194.2 564.5Z" fill="#2ca02c"/><path d="M194.9 572.4L197.2 568.4L192.6 568.4Z" fill="#2ca02c"/><path d="M201.9 573.6L204.2 569.6L199.6 569.6Z" fill="#2ca02c"/><path d="M213.5 542.3L215.8 546.3L211.2 546.3Z" fill="#2ca02c"/><path d="M195.5 554.4L197.8 550.4L193.2 550.4Z" fill="#2ca02c"/><path d="M203.5 558.4L205.8 554.4L201.2 554.4Z" fill="#2ca02c"/><path d="M201.6 541.0L203.9 537.0L199.3 537.0Z" fill="#2ca02c"/><path d="M199.7 545.5L202.0 541.5L197.4 541.5Z" fill="#2ca02c"/><path d="M211.6 567.2L213.9 571.2L209.3 571.2Z" fill="#2ca02c"/><path d="M213.7 550.7L216.0 554.7L211.4 554.7Z" fill="#2ca02c"/><path d="M203.8 555.2L206.1 551.2L201.5 551.2Z" fill="#2ca02c"/><path d="M199.9 559.8L202.2 563.8L197.6 563.8Z" fill="#2ca02c"/><path d="M203.6 566.3L205.9 570.3L201.3 570.3Z" fill="#2ca02c"/><path d="M203.8 569.3L206.1 565.3L201.5 565.3Z" fill="#2ca02c"/><path d="M209.0 521.6L211.3 517.6L206.7 517.6Z" fill="#2ca02c"/><path d="M193.7 551.5L196.0 547.5L191.4 547.5Z" fill="#2ca02c"/><path d="M211.4 571.3L213.7 567.3L209.1 567.3Z" fill="#2ca02c"/><path d="M191.7 551.7L194.0 555.7L189.4 555.7Z" fill="#2ca02c"/><path d="M205.2 564.7L207.5 560.7L202.9 560.7Z" fill="#2ca02c"/><path d="M220.6 522.3L222.9 526.3L218.3 526.3Z" fill="#2ca02c"/><path d="M216.3 565.7L218.6 561.7L214.0 561.7Z" fill="#2ca02c"/><path d="M193.0 553.1L195.3 549.1L190.7 549.1Z" fill="#2ca02c"/><path d="M197.7 559.0L200.0 563.0L195.4 563.0Z" fill="#2ca02c"/><path d="M195.4 562.0L197.7 566.0L193.1 566.0Z" fill="#2ca02c"/><path d="M196.1 563.0L198.4 559.0L193.8 559.0Z" fill="#2ca02c"/><path d="M198.7 566.7L201.0 562.6L196.4 562.6Z" fill="#2ca02c"/><path d="M194.7 551.4L197.0 547.4L192.4 547.4Z" fill="#2ca02c"/><path d="M218.3 550.1L220.6 546.1L216.0 546.1Z" fill="#2ca02c"/><path d="M207.3 563.4L209.6 567.4L205.0 567.4Z" fill="#2ca02c"/><path d="M206.5 556.0L208.8 560.0L204.2 560.0Z" fill="#2ca02c"/><path d="M193.7 546.1L196.0 542.1L191.4 542.1Z" fill="#2ca02c"/><path d="M198.5 563.1L200.8 567.1L196.2 567.1Z" fill="#2ca02c"/><path d="M208.0 565.1L210.3 569.1L205.7 569.1Z" fill="#2ca02c"/><path d="M216.9 573.1L219.2 569.0L214.6 569.0Z" fill="#2ca02c"/><path d="M203.4 570.4L205.7 566.4L201.1 566.4Z" fill="#2ca02c"/><path d="M203.6 531.4L205.9 527.4L201.3 527.4Z" fill="#2ca02c"/><path d="M213.4 531.9L215.7 527.9L211.1 527.9Z" fill="#2ca02c"/><path d="M191.9 546.6L194.2 542.6L189.6 542.6Z" fill="#2ca02c"/><path d="M210.6 557.9L212.9 562.0L208.3 562.0Z" fill="#2ca02c"/><path d="M199.0 566.9L201.3 570.9L196.7 570.9Z" fill="#2ca02c"/><path d="M215.0 494.9L217.3 498.9L212.7 498.9Z" fill="#2ca02c"/><path d="M207.0 506.1L209.3 502.1L204.7 502.1Z" fill="#2ca02c"/><path d="M212.0 511.6L214.3 515.6L209.7 515.6Z" fill="#2ca02c"/><path d="M218.0 510.0L220.3 514.0L215.7 514.0Z" fill="#2ca02c"/><path d="M221.0 512.6L223.3 516.6L218.7 516.6Z" fill="#2ca02c"/><path d="M195.0 524.6L197.3 528.6L192.7 528.6Z" fill="#2ca02c"/>
<path d="M243.3 571.0L245.6 567.0L241.0 567.0Z" fill="#c0102a"/><path d="M246.5 566.5L248.8 570.5L244.2 570.5Z" fill="#c0102a"/><path d="M235.6 538.2L237.9 542.2L233.3 542.2Z" fill="#c0102a"/><path d="M240.9 545.6L243.2 549.6L238.6 549.6Z" fill="#c0102a"/><path d="M241.8 564.7L244.1 568.7L239.5 568.7Z" fill="#c0102a"/><path d="M244.9 548.1L247.2 552.1L242.6 552.1Z" fill="#c0102a"/><path d="M227.5 542.6L229.8 546.6L225.2 546.6Z" fill="#c0102a"/><path d="M232.8 552.5L235.1 556.5L230.5 556.5Z" fill="#c0102a"/><path d="M240.0 573.4L242.3 569.4L237.7 569.4Z" fill="#c0102a"/><path d="M262.4 557.2L264.7 561.2L260.1 561.2Z" fill="#c0102a"/><path d="M235.7 556.8L238.0 560.8L233.4 560.8Z" fill="#c0102a"/><path d="M243.7 562.4L246.0 566.4L241.4 566.4Z" fill="#c0102a"/><path d="M227.3 544.2L229.6 540.2L225.0 540.2Z" fill="#c0102a"/><path d="M240.7 548.2L243.0 552.2L238.4 552.2Z" fill="#c0102a"/><path d="M251.0 573.4L253.3 569.4L248.7 569.4Z" fill="#c0102a"/><path d="M236.8 569.2L239.1 565.2L234.5 565.2Z" fill="#c0102a"/><path d="M249.5 562.7L251.8 566.7L247.2 566.7Z" fill="#c0102a"/><path d="M248.8 572.0L251.1 568.0L246.5 568.0Z" fill="#c0102a"/><path d="M224.4 538.5L226.7 534.5L222.1 534.5Z" fill="#c0102a"/><path d="M223.7 554.1L226.0 550.0L221.4 550.0Z" fill="#c0102a"/><path d="M263.3 570.2L265.6 566.2L261.0 566.2Z" fill="#c0102a"/><path d="M241.3 546.8L243.6 550.8L239.0 550.8Z" fill="#c0102a"/><path d="M241.2 548.0L243.5 544.0L238.9 544.0Z" fill="#c0102a"/><path d="M226.4 569.6L228.7 565.6L224.1 565.6Z" fill="#c0102a"/><path d="M245.7 520.6L248.0 524.6L243.4 524.6Z" fill="#c0102a"/><path d="M262.1 566.9L264.4 570.9L259.8 570.9Z" fill="#c0102a"/><path d="M240.3 564.8L242.6 568.8L238.0 568.8Z" fill="#c0102a"/><path d="M258.9 557.5L261.2 561.5L256.6 561.5Z" fill="#c0102a"/><path d="M250.8 550.6L253.1 546.6L248.5 546.6Z" fill="#c0102a"/><path d="M239.2 522.9L241.5 518.9L236.9 518.9Z" fill="#c0102a"/><path d="M230.2 532.7L232.5 536.7L227.9 536.7Z" fill="#c0102a"/><path d="M230.1 561.9L232.4 557.9L227.8 557.9Z" fill="#c0102a"/><path d="M239.2 564.9L241.5 568.9L236.9 568.9Z" fill="#c0102a"/><path d="M247.1 568.3L249.4 572.3L244.8 572.3Z" fill="#c0102a"/><path d="M251.7 543.4L254.0 539.4L249.4 539.4Z" fill="#c0102a"/><path d="M246.8 547.3L249.1 551.3L244.5 551.3Z" fill="#c0102a"/><path d="M252.5 562.8L254.8 558.8L250.2 558.8Z" fill="#c0102a"/><path d="M263.0 547.4L265.3 551.4L260.7 551.4Z" fill="#c0102a"/><path d="M232.9 517.3L235.2 521.3L230.6 521.3Z" fill="#c0102a"/><path d="M257.8 565.6L260.1 561.6L255.5 561.6Z" fill="#c0102a"/><path d="M245.8 531.1L248.1 527.1L243.5 527.1Z" fill="#c0102a"/><path d="M254.5 521.2L256.8 517.2L252.2 517.2Z" fill="#c0102a"/><path d="M232.3 559.6L234.6 555.6L230.0 555.6Z" fill="#c0102a"/><path d="M228.4 561.5L230.7 557.5L226.1 557.5Z" fill="#c0102a"/><path d="M260.9 550.9L263.2 546.9L258.6 546.9Z" fill="#c0102a"/><path d="M252.6 570.3L254.9 566.3L250.3 566.3Z" fill="#c0102a"/><path d="M234.2 554.8L236.5 558.8L231.9 558.8Z" fill="#c0102a"/><path d="M235.4 523.0L237.7 527.0L233.1 527.0Z" fill="#c0102a"/><path d="M234.5 544.8L236.8 540.8L232.2 540.8Z" fill="#c0102a"/><path d="M258.9 570.3L261.2 566.3L256.6 566.3Z" fill="#c0102a"/><path d="M248.2 566.7L250.5 562.7L245.9 562.7Z" fill="#c0102a"/><path d="M250.2 532.5L252.5 536.5L247.9 536.5Z" fill="#c0102a"/><path d="M225.7 556.8L228.0 552.8L223.4 552.8Z" fill="#c0102a"/><path d="M233.0 551.3L235.3 547.3L230.7 547.3Z" fill="#c0102a"/><path d="M261.7 555.9L264.0 559.9L259.4 559.9Z" fill="#c0102a"/><path d="M232.9 568.6L235.2 564.6L230.6 564.6Z" fill="#c0102a"/><path d="M250.1 566.4L252.4 570.4L247.8 570.4Z" fill="#c0102a"/><path d="M246.4 568.5L248.7 572.5L244.1 572.5Z" fill="#c0102a"/><path d="M258.8 559.6L261.1 563.6L256.5 563.6Z" fill="#c0102a"/><path d="M224.7 573.3L227.0 569.3L222.4 569.3Z" fill="#c0102a"/><path d="M258.1 554.1L260.4 558.1L255.8 558.1Z" fill="#c0102a"/><path d="M244.8 554.3L247.1 558.3L242.5 558.3Z" fill="#c0102a"/><path d="M243.7 560.9L246.0 564.9L241.4 564.9Z" fill="#c0102a"/><path d="M243.2 557.5L245.5 553.5L240.9 553.5Z" fill="#c0102a"/><path d="M262.9 523.5L265.2 527.5L260.6 527.5Z" fill="#c0102a"/><path d="M237.1 572.3L239.4 568.3L234.8 568.3Z" fill="#c0102a"/><path d="M262.0 533.5L264.3 529.5L259.7 529.5Z" fill="#c0102a"/><path d="M224.3 561.8L226.6 557.8L222.0 557.8Z" fill="#c0102a"/><path d="M248.3 567.2L250.6 571.2L246.0 571.2Z" fill="#c0102a"/><path d="M244.5 567.3L246.8 571.3L242.2 571.3Z" fill="#c0102a"/><path d="M258.7 567.6L261.0 571.6L256.4 571.6Z" fill="#c0102a"/><path d="M257.1 559.0L259.4 555.0L254.8 555.0Z" fill="#c0102a"/><path d="M254.2 572.0L256.5 568.0L251.9 568.0Z" fill="#c0102a"/><path d="M263.0 548.5L265.3 552.5L260.7 552.5Z" fill="#c0102a"/><path d="M237.5 562.9L239.8 566.9L235.2 566.9Z" fill="#c0102a"/><path d="M247.2 549.1L249.5 545.1L244.9 545.1Z" fill="#c0102a"/><path d="M241.9 565.9L244.2 569.9L239.6 569.9Z" fill="#c0102a"/><path d="M229.6 557.1L231.9 553.1L227.3 553.1Z" fill="#c0102a"/><path d="M237.0 559.2L239.3 563.2L234.7 563.2Z" fill="#c0102a"/><path d="M244.7 565.8L247.0 569.8L242.4 569.8Z" fill="#c0102a"/><path d="M232.9 548.7L235.2 544.7L230.6 544.7Z" fill="#c0102a"/><path d="M250.8 554.9L253.1 558.9L248.5 558.9Z" fill="#c0102a"/><path d="M254.4 534.4L256.7 538.4L252.1 538.4Z" fill="#c0102a"/><path d="M263.6 550.4L265.9 546.4L261.3 546.4Z" fill="#c0102a"/><path d="M263.6 528.6L265.9 524.6L261.3 524.6Z" fill="#c0102a"/><path d="M255.2 563.5L257.5 567.5L252.9 567.5Z" fill="#c0102a"/><path d="M235.1 562.0L237.4 566.0L232.8 566.0Z" fill="#c0102a"/><path d="M256.6 553.1L258.9 557.1L254.3 557.1Z" fill="#c0102a"/><path d="M226.1 562.1L228.4 566.1L223.8 566.1Z" fill="#c0102a"/><path d="M259.1 525.2L261.4 529.2L256.8 529.2Z" fill="#c0102a"/><path d="M261.2 566.1L263.5 562.1L258.9 562.1Z" fill="#c0102a"/><path d="M231.3 565.0L233.6 561.0L229.0 561.0Z" fill="#c0102a"/><path d="M252.9 547.5L255.2 551.5L250.6 551.5Z" fill="#c0102a"/><path d="M228.4 567.3L230.7 571.3L226.1 571.3Z" fill="#c0102a"/><path d="M231.0 560.8L233.3 564.8L228.7 564.8Z" fill="#c0102a"/><path d="M228.5 559.8L230.8 555.8L226.2 555.8Z" fill="#c0102a"/><path d="M254.4 567.5L256.7 571.5L252.1 571.5Z" fill="#c0102a"/><path d="M232.5 547.2L234.8 543.2L230.2 543.2Z" fill="#c0102a"/><path d="M260.9 527.4L263.2 531.4L258.6 531.4Z" fill="#c0102a"/><path d="M246.5 568.5L248.8 564.5L244.2 564.5Z" fill="#c0102a"/><path d="M242.1 565.0L244.4 569.0L239.8 569.0Z" fill="#c0102a"/><path d="M231.2 523.0L233.5 527.0L228.9 527.0Z" fill="#c0102a"/><path d="M254.4 564.5L256.7 568.5L252.1 568.5Z" fill="#c0102a"/><path d="M253.3 568.0L255.6 564.0L251.0 564.0Z" fill="#c0102a"/><path d="M243.7 551.5L246.0 555.5L241.4 555.5Z" fill="#c0102a"/><path d="M224.1 567.0L226.4 563.0L221.8 563.0Z" fill="#c0102a"/><path d="M238.5 558.1L240.8 562.1L236.2 562.1Z" fill="#c0102a"/><path d="M237.9 541.6L240.2 545.6L235.6 545.6Z" fill="#c0102a"/><path d="M245.4 548.9L247.7 544.9L243.1 544.9Z" fill="#c0102a"/><path d="M233.0 533.8L235.3 529.8L230.7 529.8Z" fill="#c0102a"/><path d="M230.1 568.4L232.4 572.4L227.8 572.4Z" fill="#c0102a"/><path d="M230.4 541.0L232.7 537.0L228.1 537.0Z" fill="#c0102a"/><path d="M229.9 555.5L232.2 559.5L227.6 559.5Z" fill="#c0102a"/><path d="M251.3 555.6L253.6 559.6L249.0 559.6Z" fill="#c0102a"/><path d="M260.9 546.9L263.2 550.9L258.6 550.9Z" fill="#c0102a"/><path d="M243.6 561.2L245.9 557.2L241.3 557.2Z" fill="#c0102a"/><path d="M242.2 553.0L244.5 557.0L239.9 557.0Z" fill="#c0102a"/><path d="M249.5 555.7L251.8 559.7L247.2 559.7Z" fill="#c0102a"/><path d="M226.9 541.0L229.2 537.0L224.6 537.0Z" fill="#c0102a"/><path d="M255.8 571.4L258.1 567.4L253.5 567.4Z" fill="#c0102a"/><path d="M240.0 484.5L242.3 488.5L237.7 488.5Z" fill="#c0102a"/><path d="M229.0 493.1L231.3 489.1L226.7 489.1Z" fill="#c0102a"/><path d="M237.0 498.3L239.3 494.3L234.7 494.3Z" fill="#c0102a"/><path d="M242.5 498.6L244.8 502.6L240.2 502.6Z" fill="#c0102a"/><path d="M225.0 508.7L227.3 504.7L222.7 504.7Z" fill="#c0102a"/><path d="M261.0 500.1L263.3 504.1L258.7 504.1Z" fill="#c0102a"/><path d="M258.0 511.3L260.3 507.3L255.7 507.3Z" fill="#c0102a"/><path d="M250.0 517.8L252.3 521.8L247.7 521.8Z" fill="#c0102a"/>
<path d="M273.5 567.5L275.8 571.5L271.2 571.5Z" fill="#7a4812"/><path d="M274.6 569.8L276.9 565.8L272.3 565.8Z" fill="#7a4812"/><path d="M271.8 539.0L274.1 535.0L269.5 535.0Z" fill="#7a4812"/><path d="M281.2 530.8L283.5 526.8L278.9 526.8Z" fill="#7a4812"/><path d="M281.1 569.0L283.4 565.0L278.8 565.0Z" fill="#7a4812"/><path d="M268.4 541.8L270.7 545.8L266.1 545.8Z" fill="#7a4812"/><path d="M283.6 553.6L285.9 557.6L281.3 557.6Z" fill="#7a4812"/><path d="M281.0 571.6L283.3 567.6L278.7 567.6Z" fill="#7a4812"/><path d="M278.0 559.6L280.3 563.6L275.7 563.6Z" fill="#7a4812"/><path d="M284.9 542.4L287.2 546.4L282.6 546.4Z" fill="#7a4812"/><path d="M279.0 573.4L281.3 569.4L276.7 569.4Z" fill="#7a4812"/><path d="M267.3 551.2L269.6 547.2L265.0 547.2Z" fill="#7a4812"/><path d="M280.8 561.0L283.1 557.0L278.5 557.0Z" fill="#7a4812"/><path d="M277.9 547.2L280.2 551.2L275.6 551.2Z" fill="#7a4812"/><path d="M265.2 563.6L267.5 567.6L262.9 567.6Z" fill="#7a4812"/><path d="M278.1 565.5L280.4 561.5L275.8 561.5Z" fill="#7a4812"/><path d="M271.2 535.9L273.5 531.9L268.9 531.9Z" fill="#7a4812"/><path d="M278.8 558.3L281.1 554.3L276.5 554.3Z" fill="#7a4812"/><path d="M283.4 572.6L285.7 568.6L281.1 568.6Z" fill="#7a4812"/><path d="M284.5 544.0L286.8 548.0L282.2 548.0Z" fill="#7a4812"/><path d="M275.5 551.3L277.8 547.3L273.2 547.3Z" fill="#7a4812"/><path d="M274.4 537.4L276.7 541.4L272.1 541.4Z" fill="#7a4812"/><path d="M276.7 543.6L279.0 547.6L274.4 547.6Z" fill="#7a4812"/><path d="M265.8 559.3L268.1 555.3L263.5 555.3Z" fill="#7a4812"/><path d="M277.9 548.5L280.2 552.5L275.6 552.5Z" fill="#7a4812"/><path d="M274.5 563.1L276.8 567.1L272.2 567.1Z" fill="#7a4812"/><path d="M278.8 560.4L281.1 556.4L276.5 556.4Z" fill="#7a4812"/><path d="M284.0 562.0L286.3 558.0L281.7 558.0Z" fill="#7a4812"/><path d="M285.2 536.2L287.5 532.1L282.9 532.1Z" fill="#7a4812"/><path d="M265.9 555.3L268.2 559.3L263.6 559.3Z" fill="#7a4812"/><path d="M279.5 547.9L281.8 543.9L277.2 543.9Z" fill="#7a4812"/><path d="M278.0 551.1L280.3 555.1L275.7 555.1Z" fill="#7a4812"/><path d="M266.9 572.7L269.2 568.7L264.6 568.7Z" fill="#7a4812"/><path d="M265.9 544.1L268.2 540.1L263.6 540.1Z" fill="#7a4812"/><path d="M273.7 554.4L276.0 550.4L271.4 550.4Z" fill="#7a4812"/><path d="M280.0 564.0L282.3 560.0L277.7 560.0Z" fill="#7a4812"/><path d="M277.4 561.1L279.7 565.1L275.1 565.1Z" fill="#7a4812"/><path d="M265.9 566.9L268.2 570.9L263.6 570.9Z" fill="#7a4812"/><path d="M274.4 572.7L276.7 568.7L272.1 568.7Z" fill="#7a4812"/><path d="M274.7 547.7L277.0 543.7L272.4 543.7Z" fill="#7a4812"/><path d="M267.2 539.6L269.5 535.6L264.9 535.6Z" fill="#7a4812"/><path d="M275.2 553.0L277.5 549.0L272.9 549.0Z" fill="#7a4812"/><path d="M270.0 561.0L272.3 565.0L267.7 565.0Z" fill="#7a4812"/><path d="M272.2 550.9L274.5 554.9L269.9 554.9Z" fill="#7a4812"/><path d="M277.5 546.8L279.8 542.8L275.2 542.8Z" fill="#7a4812"/><path d="M274.1 565.9L276.4 569.9L271.8 569.9Z" fill="#7a4812"/><path d="M272.5 528.0L274.8 524.0L270.2 524.0Z" fill="#7a4812"/><path d="M273.0 562.0L275.3 566.0L270.7 566.0Z" fill="#7a4812"/><path d="M279.6 543.0L281.9 539.0L277.3 539.0Z" fill="#7a4812"/><path d="M273.7 540.1L276.0 536.1L271.4 536.1Z" fill="#7a4812"/><path d="M275.8 557.7L278.1 553.7L273.5 553.7Z" fill="#7a4812"/><path d="M265.1 562.8L267.4 566.8L262.8 566.8Z" fill="#7a4812"/><path d="M277.3 552.9L279.6 548.9L275.0 548.9Z" fill="#7a4812"/><path d="M268.8 570.9L271.1 566.9L266.5 566.9Z" fill="#7a4812"/><path d="M281.6 552.5L283.9 548.5L279.3 548.5Z" fill="#7a4812"/><path d="M279.3 567.1L281.6 563.1L277.0 563.1Z" fill="#7a4812"/><path d="M269.9 560.7L272.2 556.7L267.6 556.7Z" fill="#7a4812"/><path d="M268.0 522.0L270.3 526.0L265.7 526.0Z" fill="#7a4812"/><path d="M275.0 520.4L277.3 524.4L272.7 524.4Z" fill="#7a4812"/><path d="M282.0 522.0L284.3 526.0L279.7 526.0Z" fill="#7a4812"/><path d="M280.0 531.1L282.3 527.1L277.7 527.1Z" fill="#7a4812"/>
<path d="M329.4 563.2L331.7 567.2L327.1 567.2Z" fill="#0f6a50"/><path d="M318.2 560.9L320.5 556.9L315.9 556.9Z" fill="#0f6a50"/><path d="M309.7 533.3L312.0 529.3L307.4 529.3Z" fill="#0f6a50"/><path d="M325.4 545.7L327.7 541.7L323.1 541.7Z" fill="#0f6a50"/><path d="M305.1 557.5L307.4 561.5L302.8 561.5Z" fill="#0f6a50"/><path d="M309.8 547.1L312.1 543.1L307.5 543.1Z" fill="#0f6a50"/><path d="M302.2 565.9L304.5 561.9L299.9 561.9Z" fill="#0f6a50"/><path d="M316.7 546.9L319.0 550.9L314.4 550.9Z" fill="#0f6a50"/><path d="M302.4 564.0L304.7 560.0L300.1 560.0Z" fill="#0f6a50"/><path d="M293.4 570.7L295.7 566.7L291.1 566.7Z" fill="#0f6a50"/><path d="M297.7 520.5L300.0 524.5L295.4 524.5Z" fill="#0f6a50"/><path d="M321.1 538.7L323.4 542.7L318.8 542.7Z" fill="#0f6a50"/><path d="M316.9 569.2L319.2 565.2L314.6 565.2Z" fill="#0f6a50"/><path d="M296.1 560.7L298.4 564.7L293.8 564.7Z" fill="#0f6a50"/><path d="M324.8 551.9L327.1 555.9L322.5 555.9Z" fill="#0f6a50"/><path d="M306.0 561.0L308.3 557.0L303.7 557.0Z" fill="#0f6a50"/><path d="M329.4 539.8L331.7 535.8L327.1 535.8Z" fill="#0f6a50"/><path d="M293.5 552.8L295.8 556.8L291.2 556.8Z" fill="#0f6a50"/><path d="M305.5 571.7L307.8 567.7L303.2 567.7Z" fill="#0f6a50"/><path d="M294.4 560.9L296.7 564.9L292.1 564.9Z" fill="#0f6a50"/><path d="M325.0 535.2L327.3 539.2L322.7 539.2Z" fill="#0f6a50"/><path d="M296.8 550.7L299.1 554.7L294.5 554.7Z" fill="#0f6a50"/><path d="M323.2 556.6L325.5 560.6L320.9 560.6Z" fill="#0f6a50"/><path d="M288.9 573.4L291.2 569.4L286.6 569.4Z" fill="#0f6a50"/><path d="M324.1 517.2L326.4 521.2L321.8 521.2Z" fill="#0f6a50"/><path d="M317.0 544.4L319.3 540.4L314.7 540.4Z" fill="#0f6a50"/><path d="M316.9 551.6L319.2 555.6L314.6 555.6Z" fill="#0f6a50"/><path d="M311.1 545.7L313.4 549.7L308.8 549.7Z" fill="#0f6a50"/><path d="M299.6 565.7L301.9 561.7L297.3 561.7Z" fill="#0f6a50"/><path d="M298.6 565.0L300.9 569.0L296.3 569.0Z" fill="#0f6a50"/><path d="M309.0 571.0L311.3 567.0L306.7 567.0Z" fill="#0f6a50"/><path d="M313.8 565.4L316.1 561.4L311.5 561.4Z" fill="#0f6a50"/><path d="M304.8 553.3L307.1 557.3L302.5 557.3Z" fill="#0f6a50"/><path d="M309.7 568.4L312.0 564.4L307.4 564.4Z" fill="#0f6a50"/><path d="M296.6 541.7L298.9 545.7L294.3 545.7Z" fill="#0f6a50"/><path d="M321.2 540.5L323.5 544.5L318.9 544.5Z" fill="#0f6a50"/><path d="M324.4 565.1L326.7 561.1L322.1 561.1Z" fill="#0f6a50"/><path d="M319.0 552.9L321.3 548.9L316.7 548.9Z" fill="#0f6a50"/><path d="M324.9 530.8L327.2 526.8L322.6 526.8Z" fill="#0f6a50"/><path d="M290.2 573.1L292.5 569.1L287.9 569.1Z" fill="#0f6a50"/><path d="M309.1 570.4L311.4 566.4L306.8 566.4Z" fill="#0f6a50"/><path d="M329.6 568.6L331.9 572.6L327.3 572.6Z" fill="#0f6a50"/><path d="M293.4 558.7L295.7 562.7L291.1 562.7Z" fill="#0f6a50"/><path d="M311.2 553.3L313.5 549.3L308.9 549.3Z" fill="#0f6a50"/><path d="M312.5 529.2L314.8 533.2L310.2 533.2Z" fill="#0f6a50"/><path d="M325.7 534.2L328.0 538.2L323.4 538.2Z" fill="#0f6a50"/><path d="M310.4 561.3L312.7 557.3L308.1 557.3Z" fill="#0f6a50"/><path d="M287.8 559.3L290.1 563.3L285.5 563.3Z" fill="#0f6a50"/><path d="M290.1 549.0L292.4 545.0L287.8 545.0Z" fill="#0f6a50"/><path d="M311.0 558.6L313.3 562.6L308.7 562.6Z" fill="#0f6a50"/><path d="M322.0 562.5L324.3 566.5L319.7 566.5Z" fill="#0f6a50"/><path d="M288.5 524.4L290.8 528.5L286.2 528.5Z" fill="#0f6a50"/><path d="M288.3 556.9L290.6 552.9L286.0 552.9Z" fill="#0f6a50"/><path d="M300.8 564.5L303.1 568.5L298.5 568.5Z" fill="#0f6a50"/><path d="M314.3 567.3L316.6 571.3L312.0 571.3Z" fill="#0f6a50"/><path d="M311.2 564.4L313.5 568.4L308.9 568.4Z" fill="#0f6a50"/><path d="M317.7 557.9L320.0 553.9L315.4 553.9Z" fill="#0f6a50"/><path d="M297.3 571.8L299.6 567.8L295.0 567.8Z" fill="#0f6a50"/><path d="M289.8 536.3L292.1 540.3L287.5 540.3Z" fill="#0f6a50"/><path d="M323.3 573.3L325.6 569.3L321.0 569.3Z" fill="#0f6a50"/><path d="M314.0 561.3L316.3 565.3L311.7 565.3Z" fill="#0f6a50"/><path d="M289.5 552.1L291.8 548.1L287.2 548.1Z" fill="#0f6a50"/><path d="M289.1 568.4L291.4 572.4L286.8 572.4Z" fill="#0f6a50"/><path d="M301.2 561.9L303.5 557.9L298.9 557.9Z" fill="#0f6a50"/><path d="M294.8 558.1L297.1 554.1L292.5 554.1Z" fill="#0f6a50"/><path d="M311.3 536.2L313.6 532.2L309.0 532.2Z" fill="#0f6a50"/><path d="M290.4 563.8L292.7 567.8L288.1 567.8Z" fill="#0f6a50"/><path d="M323.3 567.1L325.6 563.1L321.0 563.1Z" fill="#0f6a50"/><path d="M318.1 564.4L320.4 568.4L315.8 568.4Z" fill="#0f6a50"/><path d="M294.0 546.0L296.3 550.0L291.7 550.0Z" fill="#0f6a50"/><path d="M290.7 570.0L293.0 566.0L288.4 566.0Z" fill="#0f6a50"/><path d="M326.4 519.4L328.7 523.4L324.1 523.4Z" fill="#0f6a50"/><path d="M295.2 537.4L297.5 533.4L292.9 533.4Z" fill="#0f6a50"/><path d="M294.2 554.7L296.5 558.7L291.9 558.7Z" fill="#0f6a50"/><path d="M293.4 553.5L295.7 557.5L291.1 557.5Z" fill="#0f6a50"/><path d="M307.4 557.8L309.7 561.8L305.1 561.8Z" fill="#0f6a50"/><path d="M301.4 571.0L303.7 567.0L299.1 567.0Z" fill="#0f6a50"/><path d="M303.9 567.4L306.2 571.4L301.6 571.4Z" fill="#0f6a50"/><path d="M303.5 551.4L305.8 547.4L301.2 547.4Z" fill="#0f6a50"/><path d="M326.1 540.4L328.4 544.4L323.8 544.4Z" fill="#0f6a50"/><path d="M319.3 565.7L321.6 561.7L317.0 561.7Z" fill="#0f6a50"/><path d="M295.0 570.1L297.3 566.1L292.7 566.1Z" fill="#0f6a50"/><path d="M291.8 539.1L294.1 535.1L289.5 535.1Z" fill="#0f6a50"/><path d="M302.6 572.8L304.9 568.8L300.3 568.8Z" fill="#0f6a50"/><path d="M311.8 527.0L314.1 523.0L309.5 523.0Z" fill="#0f6a50"/><path d="M315.2 562.0L317.5 566.0L312.9 566.0Z" fill="#0f6a50"/><path d="M311.3 563.2L313.6 567.2L309.0 567.2Z" fill="#0f6a50"/><path d="M314.0 548.2L316.3 544.2L311.7 544.2Z" fill="#0f6a50"/><path d="M295.2 570.3L297.5 566.2L292.9 566.2Z" fill="#0f6a50"/><path d="M298.3 560.5L300.6 564.5L296.0 564.5Z" fill="#0f6a50"/><path d="M323.5 555.5L325.8 559.5L321.2 559.5Z" fill="#0f6a50"/><path d="M287.0 560.2L289.3 564.2L284.7 564.2Z" fill="#0f6a50"/><path d="M329.6 550.2L331.9 554.2L327.3 554.2Z" fill="#0f6a50"/><path d="M307.7 570.2L310.0 566.2L305.4 566.2Z" fill="#0f6a50"/><path d="M305.1 547.9L307.4 551.9L302.8 551.9Z" fill="#0f6a50"/><path d="M318.9 560.2L321.2 564.2L316.6 564.2Z" fill="#0f6a50"/><path d="M320.7 564.2L323.0 560.2L318.4 560.2Z" fill="#0f6a50"/><path d="M294.0 548.9L296.3 552.9L291.7 552.9Z" fill="#0f6a50"/><path d="M318.4 564.8L320.7 560.8L316.1 560.8Z" fill="#0f6a50"/><path d="M289.5 561.8L291.8 557.8L287.2 557.8Z" fill="#0f6a50"/><path d="M316.4 565.3L318.7 569.3L314.1 569.3Z" fill="#0f6a50"/><path d="M291.9 562.8L294.2 566.8L289.6 566.8Z" fill="#0f6a50"/><path d="M293.9 554.5L296.2 558.5L291.6 558.5Z" fill="#0f6a50"/><path d="M312.9 544.7L315.2 548.7L310.6 548.7Z" fill="#0f6a50"/><path d="M315.9 570.9L318.2 566.9L313.6 566.9Z" fill="#0f6a50"/><path d="M312.0 564.9L314.3 560.9L309.7 560.9Z" fill="#0f6a50"/><path d="M299.3 558.4L301.6 562.4L297.0 562.4Z" fill="#0f6a50"/><path d="M287.5 543.6L289.8 539.6L285.2 539.6Z" fill="#0f6a50"/><path d="M308.9 570.3L311.2 566.3L306.6 566.3Z" fill="#0f6a50"/><path d="M296.0 478.3L298.3 482.3L293.7 482.3Z" fill="#0f6a50"/><path d="M312.0 492.8L314.3 496.9L309.7 496.9Z" fill="#0f6a50"/><path d="M320.5 491.8L322.8 495.8L318.2 495.8Z" fill="#0f6a50"/><path d="M302.0 502.2L304.3 506.2L299.7 506.2Z" fill="#0f6a50"/><path d="M315.0 505.1L317.3 501.1L312.7 501.1Z" fill="#0f6a50"/><path d="M318.0 512.4L320.3 508.4L315.7 508.4Z" fill="#0f6a50"/><path d="M320.0 516.8L322.3 520.8L317.7 520.8Z" fill="#0f6a50"/><path d="M317.0 516.5L319.3 512.5L314.7 512.5Z" fill="#0f6a50"/>
<path d="M361.8 531.7L364.1 535.7L359.5 535.7Z" fill="#44506e"/><path d="M352.4 563.8L354.7 567.8L350.1 567.8Z" fill="#44506e"/><path d="M371.7 548.0L374.0 552.0L369.4 552.0Z" fill="#44506e"/><path d="M348.3 566.6L350.6 570.6L346.0 570.6Z" fill="#44506e"/><path d="M336.8 526.0L339.1 530.0L334.5 530.0Z" fill="#44506e"/><path d="M351.1 562.7L353.4 566.7L348.8 566.7Z" fill="#44506e"/><path d="M345.7 566.1L348.0 570.1L343.4 570.1Z" fill="#44506e"/><path d="M334.0 546.2L336.3 550.2L331.7 550.2Z" fill="#44506e"/><path d="M339.1 533.7L341.4 537.7L336.8 537.7Z" fill="#44506e"/><path d="M361.5 555.5L363.8 551.5L359.2 551.5Z" fill="#44506e"/><path d="M335.6 553.1L337.9 557.1L333.3 557.1Z" fill="#44506e"/><path d="M365.9 551.8L368.2 555.8L363.6 555.8Z" fill="#44506e"/><path d="M370.9 533.1L373.2 537.1L368.6 537.1Z" fill="#44506e"/><path d="M358.5 546.6L360.8 542.6L356.2 542.6Z" fill="#44506e"/><path d="M342.2 549.7L344.5 545.7L339.9 545.7Z" fill="#44506e"/><path d="M359.1 566.4L361.4 562.4L356.8 562.4Z" fill="#44506e"/><path d="M366.5 553.3L368.8 557.3L364.2 557.3Z" fill="#44506e"/><path d="M356.2 528.3L358.5 532.3L353.9 532.3Z" fill="#44506e"/><path d="M356.4 533.5L358.7 529.5L354.1 529.5Z" fill="#44506e"/><path d="M365.0 554.2L367.3 550.1L362.7 550.1Z" fill="#44506e"/><path d="M363.7 520.6L366.0 524.6L361.4 524.6Z" fill="#44506e"/><path d="M340.5 557.9L342.8 553.9L338.2 553.9Z" fill="#44506e"/><path d="M348.6 534.5L350.9 530.5L346.3 530.5Z" fill="#44506e"/><path d="M358.6 565.8L360.9 561.8L356.3 561.8Z" fill="#44506e"/><path d="M359.0 562.5L361.3 558.5L356.7 558.5Z" fill="#44506e"/><path d="M373.7 559.0L376.0 563.0L371.4 563.0Z" fill="#44506e"/><path d="M350.5 558.9L352.8 562.9L348.2 562.9Z" fill="#44506e"/><path d="M348.1 568.7L350.4 564.7L345.8 564.7Z" fill="#44506e"/><path d="M368.5 558.8L370.8 562.8L366.2 562.8Z" fill="#44506e"/><path d="M346.6 568.6L348.9 564.6L344.3 564.6Z" fill="#44506e"/><path d="M346.1 520.3L348.4 524.3L343.8 524.3Z" fill="#44506e"/><path d="M360.0 564.8L362.3 568.8L357.7 568.8Z" fill="#44506e"/><path d="M365.0 565.8L367.3 569.8L362.7 569.8Z" fill="#44506e"/><path d="M353.1 540.9L355.4 544.9L350.8 544.9Z" fill="#44506e"/><path d="M345.0 557.1L347.3 553.1L342.7 553.1Z" fill="#44506e"/><path d="M347.0 520.9L349.3 524.9L344.7 524.9Z" fill="#44506e"/><path d="M366.4 561.9L368.7 557.9L364.1 557.9Z" fill="#44506e"/><path d="M346.8 549.2L349.1 553.2L344.5 553.2Z" fill="#44506e"/><path d="M373.8 571.9L376.1 567.9L371.5 567.9Z" fill="#44506e"/><path d="M357.3 563.9L359.6 568.0L355.0 568.0Z" fill="#44506e"/><path d="M356.6 515.0L358.9 519.0L354.3 519.0Z" fill="#44506e"/><path d="M340.0 546.7L342.3 542.7L337.7 542.7Z" fill="#44506e"/><path d="M373.2 558.9L375.5 562.9L370.9 562.9Z" fill="#44506e"/><path d="M365.8 532.1L368.1 528.1L363.5 528.1Z" fill="#44506e"/><path d="M350.7 566.1L353.0 562.1L348.4 562.1Z" fill="#44506e"/><path d="M357.1 564.4L359.4 568.4L354.8 568.4Z" fill="#44506e"/><path d="M339.5 532.4L341.8 528.4L337.2 528.4Z" fill="#44506e"/><path d="M346.3 556.5L348.6 552.5L344.0 552.5Z" fill="#44506e"/><path d="M345.1 548.8L347.4 544.8L342.8 544.8Z" fill="#44506e"/><path d="M366.8 555.2L369.1 559.2L364.5 559.2Z" fill="#44506e"/><path d="M370.2 543.9L372.5 539.9L367.9 539.9Z" fill="#44506e"/><path d="M358.0 553.8L360.3 549.8L355.7 549.8Z" fill="#44506e"/><path d="M341.9 543.1L344.2 539.1L339.6 539.1Z" fill="#44506e"/><path d="M337.9 537.1L340.2 533.1L335.6 533.1Z" fill="#44506e"/><path d="M357.6 573.4L359.9 569.4L355.3 569.4Z" fill="#44506e"/><path d="M349.3 569.4L351.6 565.4L347.0 565.4Z" fill="#44506e"/><path d="M340.9 569.2L343.2 565.2L338.6 565.2Z" fill="#44506e"/><path d="M342.2 528.0L344.5 532.0L339.9 532.0Z" fill="#44506e"/><path d="M370.9 546.6L373.2 550.6L368.6 550.6Z" fill="#44506e"/><path d="M348.1 563.9L350.4 559.9L345.8 559.9Z" fill="#44506e"/><path d="M365.7 551.1L368.0 555.1L363.4 555.1Z" fill="#44506e"/><path d="M348.9 565.2L351.2 561.2L346.6 561.2Z" fill="#44506e"/><path d="M347.0 525.2L349.3 529.2L344.7 529.2Z" fill="#44506e"/><path d="M349.6 566.7L351.9 570.7L347.3 570.7Z" fill="#44506e"/><path d="M372.6 560.5L374.9 564.5L370.3 564.5Z" fill="#44506e"/><path d="M346.4 561.8L348.7 557.8L344.1 557.8Z" fill="#44506e"/><path d="M349.3 517.9L351.6 521.9L347.0 521.9Z" fill="#44506e"/><path d="M365.3 566.4L367.6 562.4L363.0 562.4Z" fill="#44506e"/><path d="M337.0 547.7L339.3 543.7L334.7 543.7Z" fill="#44506e"/><path d="M364.1 550.8L366.4 554.8L361.8 554.8Z" fill="#44506e"/><path d="M353.1 543.5L355.4 539.5L350.8 539.5Z" fill="#44506e"/><path d="M371.7 572.8L374.0 568.8L369.4 568.8Z" fill="#44506e"/><path d="M340.6 564.3L342.9 560.3L338.3 560.3Z" fill="#44506e"/><path d="M338.5 555.3L340.8 551.3L336.2 551.3Z" fill="#44506e"/><path d="M361.8 571.3L364.1 567.3L359.5 567.3Z" fill="#44506e"/><path d="M354.7 540.5L357.0 544.5L352.4 544.5Z" fill="#44506e"/><path d="M350.9 545.9L353.2 541.9L348.6 541.9Z" fill="#44506e"/><path d="M336.5 561.7L338.8 565.7L334.2 565.7Z" fill="#44506e"/><path d="M342.9 563.0L345.2 559.0L340.6 559.0Z" fill="#44506e"/><path d="M350.1 540.9L352.4 544.9L347.8 544.9Z" fill="#44506e"/><path d="M361.5 552.7L363.8 556.7L359.2 556.7Z" fill="#44506e"/><path d="M344.7 541.3L347.0 545.3L342.4 545.3Z" fill="#44506e"/><path d="M338.3 552.2L340.6 556.2L336.0 556.2Z" fill="#44506e"/><path d="M370.0 555.4L372.3 551.4L367.7 551.4Z" fill="#44506e"/><path d="M334.5 568.3L336.8 564.3L332.2 564.3Z" fill="#44506e"/><path d="M354.0 567.3L356.3 563.3L351.7 563.3Z" fill="#44506e"/><path d="M366.4 571.2L368.7 567.2L364.1 567.2Z" fill="#44506e"/><path d="M361.5 559.5L363.8 555.5L359.2 555.5Z" fill="#44506e"/><path d="M355.3 565.3L357.6 569.3L353.0 569.3Z" fill="#44506e"/><path d="M364.7 562.1L367.0 558.1L362.4 558.1Z" fill="#44506e"/><path d="M335.6 551.6L337.9 547.6L333.3 547.6Z" fill="#44506e"/><path d="M340.3 530.0L342.6 526.0L338.0 526.0Z" fill="#44506e"/><path d="M353.8 547.1L356.1 543.1L351.5 543.1Z" fill="#44506e"/><path d="M333.8 566.7L336.1 562.7L331.5 562.7Z" fill="#44506e"/><path d="M365.8 517.0L368.1 513.0L363.5 513.0Z" fill="#44506e"/><path d="M363.9 572.2L366.2 568.2L361.6 568.2Z" fill="#44506e"/><path d="M334.9 544.3L337.2 548.3L332.6 548.3Z" fill="#44506e"/><path d="M370.2 563.0L372.5 567.0L367.9 567.0Z" fill="#44506e"/><path d="M344.8 518.9L347.1 522.9L342.5 522.9Z" fill="#44506e"/><path d="M350.5 554.9L352.8 550.9L348.2 550.9Z" fill="#44506e"/><path d="M372.5 531.3L374.8 527.3L370.2 527.3Z" fill="#44506e"/><path d="M343.0 556.2L345.3 552.2L340.7 552.2Z" fill="#44506e"/><path d="M358.7 568.6L361.0 572.6L356.4 572.6Z" fill="#44506e"/><path d="M335.0 490.8L337.3 494.8L332.7 494.8Z" fill="#44506e"/><path d="M337.0 500.1L339.3 504.1L334.7 504.1Z" fill="#44506e"/><path d="M342.0 506.1L344.3 502.1L339.7 502.1Z" fill="#44506e"/><path d="M337.0 512.9L339.3 508.9L334.7 508.9Z" fill="#44506e"/><path d="M366.0 519.4L368.3 523.4L363.7 523.4Z" fill="#44506e"/><path d="M372.0 526.9L374.3 522.9L369.7 522.9Z" fill="#44506e"/>
<path d="M377.2 538.4L379.5 534.4L374.9 534.4Z" fill="#f5c010"/><path d="M386.6 536.3L388.9 540.3L384.3 540.3Z" fill="#f5c010"/><path d="M386.0 556.4L388.3 560.4L383.7 560.4Z" fill="#f5c010"/><path d="M388.0 535.2L390.3 539.2L385.7 539.2Z" fill="#f5c010"/><path d="M385.5 553.5L387.8 557.5L383.2 557.5Z" fill="#f5c010"/><path d="M383.0 548.3L385.3 544.3L380.7 544.3Z" fill="#f5c010"/><path d="M378.7 558.9L381.0 562.9L376.4 562.9Z" fill="#f5c010"/><path d="M387.9 530.4L390.2 526.4L385.6 526.4Z" fill="#f5c010"/><path d="M386.7 555.9L389.0 559.9L384.4 559.9Z" fill="#f5c010"/><path d="M385.3 564.8L387.6 568.8L383.0 568.8Z" fill="#f5c010"/><path d="M377.7 557.5L380.0 553.5L375.4 553.5Z" fill="#f5c010"/><path d="M388.3 564.9L390.6 560.9L386.0 560.9Z" fill="#f5c010"/><path d="M384.9 558.7L387.2 562.7L382.6 562.7Z" fill="#f5c010"/><path d="M387.3 563.8L389.6 567.8L385.0 567.8Z" fill="#f5c010"/><path d="M379.3 565.0L381.6 561.0L377.0 561.0Z" fill="#f5c010"/><path d="M378.2 548.0L380.5 552.0L375.9 552.0Z" fill="#f5c010"/><path d="M379.6 553.9L381.9 549.9L377.3 549.9Z" fill="#f5c010"/><path d="M387.4 551.2L389.7 547.2L385.1 547.2Z" fill="#f5c010"/><path d="M385.3 545.3L387.6 549.3L383.0 549.3Z" fill="#f5c010"/><path d="M377.8 556.0L380.1 552.0L375.5 552.0Z" fill="#f5c010"/><path d="M384.6 568.9L386.9 564.9L382.3 564.9Z" fill="#f5c010"/><path d="M386.3 547.3L388.6 551.3L384.0 551.3Z" fill="#f5c010"/><path d="M384.0 570.4L386.3 566.4L381.7 566.4Z" fill="#f5c010"/><path d="M381.1 569.5L383.4 565.5L378.8 565.5Z" fill="#f5c010"/><path d="M388.2 570.1L390.5 566.1L385.9 566.1Z" fill="#f5c010"/><path d="M388.3 566.3L390.6 570.3L386.0 570.3Z" fill="#f5c010"/><path d="M377.1 550.1L379.4 546.1L374.8 546.1Z" fill="#f5c010"/><path d="M381.5 560.4L383.8 564.4L379.2 564.4Z" fill="#f5c010"/><path d="M380.5 526.7L382.8 522.6L378.2 522.6Z" fill="#f5c010"/><path d="M381.8 549.3L384.1 545.3L379.5 545.3Z" fill="#f5c010"/><path d="M379.2 535.2L381.5 539.2L376.9 539.2Z" fill="#f5c010"/><path d="M380.4 555.1L382.7 559.1L378.1 559.1Z" fill="#f5c010"/><path d="M383.0 554.6L385.3 558.6L380.7 558.6Z" fill="#f5c010"/><path d="M381.0 569.1L383.3 565.1L378.7 565.1Z" fill="#f5c010"/><path d="M385.0 570.5L387.3 566.5L382.7 566.5Z" fill="#f5c010"/><path d="M377.6 567.2L379.9 563.2L375.3 563.2Z" fill="#f5c010"/><path d="M388.3 532.0L390.6 528.0L386.0 528.0Z" fill="#f5c010"/><path d="M384.1 528.4L386.4 524.4L381.8 524.4Z" fill="#f5c010"/><path d="M382.8 568.3L385.1 572.3L380.5 572.3Z" fill="#f5c010"/><path d="M377.8 538.3L380.1 542.3L375.5 542.3Z" fill="#f5c010"/><path d="M385.0 500.6L387.3 504.7L382.7 504.7Z" fill="#f5c010"/><path d="M381.0 519.4L383.3 523.4L378.7 523.4Z" fill="#f5c010"/>
<path d="M397.1 548.0L399.4 544.0L394.8 544.0Z" fill="#e0117a"/><path d="M410.6 532.1L412.9 528.1L408.3 528.1Z" fill="#e0117a"/><path d="M396.0 519.3L398.3 515.3L393.7 515.3Z" fill="#e0117a"/><path d="M392.1 567.6L394.4 571.6L389.8 571.6Z" fill="#e0117a"/><path d="M406.4 548.1L408.7 552.1L404.1 552.1Z" fill="#e0117a"/><path d="M410.2 552.9L412.5 556.9L407.9 556.9Z" fill="#e0117a"/><path d="M391.0 560.1L393.3 556.1L388.7 556.1Z" fill="#e0117a"/><path d="M405.5 566.3L407.8 562.3L403.2 562.3Z" fill="#e0117a"/><path d="M397.7 556.4L400.0 560.4L395.4 560.4Z" fill="#e0117a"/><path d="M402.1 545.6L404.4 541.6L399.8 541.6Z" fill="#e0117a"/><path d="M398.2 546.1L400.5 550.1L395.9 550.1Z" fill="#e0117a"/><path d="M390.4 538.6L392.7 534.6L388.1 534.6Z" fill="#e0117a"/><path d="M403.5 527.8L405.8 531.8L401.2 531.8Z" fill="#e0117a"/><path d="M404.1 567.7L406.4 571.7L401.8 571.7Z" fill="#e0117a"/><path d="M395.6 525.5L397.9 529.5L393.3 529.5Z" fill="#e0117a"/><path d="M401.4 551.2L403.7 547.2L399.1 547.2Z" fill="#e0117a"/><path d="M397.4 554.5L399.7 558.5L395.1 558.5Z" fill="#e0117a"/><path d="M391.1 565.7L393.4 569.7L388.8 569.7Z" fill="#e0117a"/><path d="M406.1 565.3L408.4 561.3L403.8 561.3Z" fill="#e0117a"/><path d="M406.6 531.8L408.9 527.8L404.3 527.8Z" fill="#e0117a"/><path d="M410.8 543.4L413.1 547.4L408.5 547.4Z" fill="#e0117a"/><path d="M398.6 565.6L400.9 569.6L396.3 569.6Z" fill="#e0117a"/><path d="M391.3 552.2L393.6 556.2L389.0 556.2Z" fill="#e0117a"/><path d="M398.3 554.8L400.6 550.8L396.0 550.8Z" fill="#e0117a"/><path d="M405.1 554.6L407.4 558.6L402.8 558.6Z" fill="#e0117a"/><path d="M400.2 543.5L402.5 539.5L397.9 539.5Z" fill="#e0117a"/><path d="M395.8 563.5L398.1 567.5L393.5 567.5Z" fill="#e0117a"/><path d="M402.8 566.1L405.1 562.1L400.5 562.1Z" fill="#e0117a"/><path d="M405.9 532.3L408.2 536.3L403.6 536.3Z" fill="#e0117a"/><path d="M396.7 519.3L399.0 515.3L394.4 515.3Z" fill="#e0117a"/><path d="M399.7 526.0L402.0 522.0L397.4 522.0Z" fill="#e0117a"/><path d="M409.3 555.5L411.6 551.5L407.0 551.5Z" fill="#e0117a"/><path d="M394.2 567.4L396.5 571.4L391.9 571.4Z" fill="#e0117a"/><path d="M390.5 517.7L392.8 513.7L388.2 513.7Z" fill="#e0117a"/><path d="M403.9 524.8L406.2 520.8L401.6 520.8Z" fill="#e0117a"/><path d="M393.5 562.0L395.8 558.0L391.2 558.0Z" fill="#e0117a"/><path d="M408.3 523.9L410.6 527.9L406.0 527.9Z" fill="#e0117a"/><path d="M393.6 551.2L395.9 547.2L391.3 547.2Z" fill="#e0117a"/><path d="M408.4 571.7L410.7 567.7L406.1 567.7Z" fill="#e0117a"/><path d="M408.9 534.2L411.2 538.2L406.6 538.2Z" fill="#e0117a"/><path d="M391.7 556.8L394.0 552.8L389.4 552.8Z" fill="#e0117a"/><path d="M396.9 570.5L399.2 566.5L394.6 566.5Z" fill="#e0117a"/><path d="M407.3 525.5L409.6 529.5L405.0 529.5Z" fill="#e0117a"/><path d="M404.2 564.9L406.5 560.9L401.9 560.9Z" fill="#e0117a"/><path d="M401.7 556.0L404.0 560.0L399.4 560.0Z" fill="#e0117a"/><path d="M400.7 554.0L403.0 550.0L398.4 550.0Z" fill="#e0117a"/><path d="M406.9 551.1L409.2 555.1L404.6 555.1Z" fill="#e0117a"/><path d="M391.6 556.1L393.9 560.1L389.3 560.1Z" fill="#e0117a"/><path d="M393.6 565.7L395.9 569.7L391.3 569.7Z" fill="#e0117a"/><path d="M399.9 569.5L402.2 565.4L397.6 565.4Z" fill="#e0117a"/><path d="M409.7 527.3L412.0 531.3L407.4 531.3Z" fill="#e0117a"/><path d="M409.1 563.9L411.4 559.9L406.8 559.9Z" fill="#e0117a"/><path d="M391.5 554.8L393.8 550.7L389.2 550.7Z" fill="#e0117a"/><path d="M411.4 538.3L413.7 542.3L409.1 542.3Z" fill="#e0117a"/><path d="M402.9 567.1L405.2 571.2L400.6 571.2Z" fill="#e0117a"/><path d="M395.0 552.7L397.3 548.7L392.7 548.7Z" fill="#e0117a"/><path d="M393.8 556.3L396.1 560.3L391.5 560.3Z" fill="#e0117a"/><path d="M404.1 533.8L406.4 537.8L401.8 537.8Z" fill="#e0117a"/><path d="M403.9 562.6L406.2 566.6L401.6 566.6Z" fill="#e0117a"/><path d="M409.8 566.2L412.1 570.2L407.5 570.2Z" fill="#e0117a"/><path d="M411.7 543.1L414.0 539.1L409.4 539.1Z" fill="#e0117a"/><path d="M397.3 552.9L399.6 556.9L395.0 556.9Z" fill="#e0117a"/><path d="M392.6 529.6L394.9 525.6L390.3 525.6Z" fill="#e0117a"/><path d="M390.0 502.2L392.3 506.2L387.7 506.2Z" fill="#e0117a"/><path d="M402.0 503.8L404.3 507.8L399.7 507.8Z" fill="#e0117a"/><path d="M395.0 515.7L397.3 519.7L392.7 519.7Z" fill="#e0117a"/><path d="M410.0 517.8L412.3 521.8L407.7 521.8Z" fill="#e0117a"/>
<path d="M423.7 572.2L426.0 568.2L421.4 568.2Z" fill="#adc085"/><path d="M442.2 545.5L444.5 541.5L439.9 541.5Z" fill="#adc085"/><path d="M435.2 543.3L437.5 547.3L432.9 547.3Z" fill="#adc085"/><path d="M433.5 563.7L435.8 559.7L431.2 559.7Z" fill="#adc085"/><path d="M438.5 559.2L440.8 563.2L436.2 563.2Z" fill="#adc085"/><path d="M442.6 558.9L444.9 554.9L440.3 554.9Z" fill="#adc085"/><path d="M432.9 560.5L435.2 556.5L430.6 556.5Z" fill="#adc085"/><path d="M422.5 555.2L424.8 551.2L420.2 551.2Z" fill="#adc085"/><path d="M445.9 561.2L448.2 557.2L443.6 557.2Z" fill="#adc085"/><path d="M429.7 563.4L432.0 567.4L427.4 567.4Z" fill="#adc085"/><path d="M422.2 532.8L424.5 536.8L419.9 536.8Z" fill="#adc085"/><path d="M417.3 534.0L419.6 530.0L415.0 530.0Z" fill="#adc085"/><path d="M434.5 557.2L436.8 553.2L432.2 553.2Z" fill="#adc085"/><path d="M424.5 560.3L426.8 564.3L422.2 564.3Z" fill="#adc085"/><path d="M438.9 573.2L441.2 569.2L436.6 569.2Z" fill="#adc085"/><path d="M432.8 540.7L435.1 544.7L430.5 544.7Z" fill="#adc085"/><path d="M429.0 561.3L431.3 565.3L426.7 565.3Z" fill="#adc085"/><path d="M446.2 550.5L448.5 546.5L443.9 546.5Z" fill="#adc085"/><path d="M435.2 513.6L437.5 517.6L432.9 517.6Z" fill="#adc085"/><path d="M434.2 562.8L436.5 558.8L431.9 558.8Z" fill="#adc085"/><path d="M429.1 562.3L431.4 558.3L426.8 558.3Z" fill="#adc085"/><path d="M432.8 555.7L435.1 559.7L430.5 559.7Z" fill="#adc085"/><path d="M437.0 554.6L439.3 550.6L434.7 550.6Z" fill="#adc085"/><path d="M430.6 553.6L432.9 557.6L428.3 557.6Z" fill="#adc085"/><path d="M420.2 565.4L422.5 561.4L417.9 561.4Z" fill="#adc085"/><path d="M420.3 568.7L422.6 572.7L418.0 572.7Z" fill="#adc085"/><path d="M443.0 573.2L445.3 569.2L440.7 569.2Z" fill="#adc085"/><path d="M429.5 551.2L431.8 555.2L427.2 555.2Z" fill="#adc085"/><path d="M426.4 565.6L428.7 569.6L424.1 569.6Z" fill="#adc085"/><path d="M432.5 560.3L434.8 556.3L430.2 556.3Z" fill="#adc085"/><path d="M434.5 572.7L436.8 568.7L432.2 568.7Z" fill="#adc085"/><path d="M423.7 565.6L426.0 569.6L421.4 569.6Z" fill="#adc085"/><path d="M436.1 540.7L438.4 544.7L433.8 544.7Z" fill="#adc085"/><path d="M422.3 554.2L424.6 550.2L420.0 550.2Z" fill="#adc085"/><path d="M423.6 556.8L425.9 552.8L421.3 552.8Z" fill="#adc085"/><path d="M441.2 573.2L443.5 569.2L438.9 569.2Z" fill="#adc085"/><path d="M425.8 561.1L428.1 565.1L423.5 565.1Z" fill="#adc085"/><path d="M437.3 565.4L439.6 569.4L435.0 569.4Z" fill="#adc085"/><path d="M443.4 553.1L445.7 549.1L441.1 549.1Z" fill="#adc085"/><path d="M432.0 560.7L434.3 556.7L429.7 556.7Z" fill="#adc085"/><path d="M439.2 568.5L441.5 572.5L436.9 572.5Z" fill="#adc085"/><path d="M416.4 539.7L418.7 543.7L414.1 543.7Z" fill="#adc085"/><path d="M420.5 564.9L422.8 568.9L418.2 568.9Z" fill="#adc085"/><path d="M420.2 560.6L422.5 564.6L417.9 564.6Z" fill="#adc085"/><path d="M446.7 570.2L449.0 566.2L444.4 566.2Z" fill="#adc085"/><path d="M444.7 536.5L447.0 540.5L442.4 540.5Z" fill="#adc085"/><path d="M430.5 567.0L432.8 571.0L428.2 571.0Z" fill="#adc085"/><path d="M421.3 563.9L423.6 567.9L419.0 567.9Z" fill="#adc085"/><path d="M434.1 536.7L436.4 540.7L431.8 540.7Z" fill="#adc085"/><path d="M431.4 540.3L433.7 536.3L429.1 536.3Z" fill="#adc085"/><path d="M434.0 568.7L436.3 572.7L431.7 572.7Z" fill="#adc085"/><path d="M447.6 553.5L449.9 557.5L445.3 557.5Z" fill="#adc085"/><path d="M417.5 517.4L419.8 521.4L415.2 521.4Z" fill="#adc085"/><path d="M417.5 532.0L419.8 536.0L415.2 536.0Z" fill="#adc085"/><path d="M440.0 530.5L442.3 526.5L437.7 526.5Z" fill="#adc085"/><path d="M447.5 555.4L449.8 551.4L445.2 551.4Z" fill="#adc085"/><path d="M437.9 563.3L440.2 567.3L435.6 567.3Z" fill="#adc085"/><path d="M440.4 527.4L442.7 523.4L438.1 523.4Z" fill="#adc085"/><path d="M420.8 545.3L423.1 541.3L418.5 541.3Z" fill="#adc085"/><path d="M429.0 567.5L431.3 571.5L426.7 571.5Z" fill="#adc085"/><path d="M440.1 548.0L442.4 552.0L437.8 552.0Z" fill="#adc085"/><path d="M436.4 536.6L438.7 540.6L434.1 540.6Z" fill="#adc085"/><path d="M432.0 552.5L434.3 548.5L429.7 548.5Z" fill="#adc085"/><path d="M414.9 553.6L417.2 557.6L412.6 557.6Z" fill="#adc085"/><path d="M438.9 548.3L441.2 552.3L436.6 552.3Z" fill="#adc085"/><path d="M434.4 560.2L436.7 564.2L432.1 564.2Z" fill="#adc085"/><path d="M440.6 517.9L442.9 521.9L438.3 521.9Z" fill="#adc085"/><path d="M423.0 567.6L425.3 571.6L420.7 571.6Z" fill="#adc085"/><path d="M439.1 558.3L441.4 562.3L436.8 562.3Z" fill="#adc085"/><path d="M422.0 550.1L424.3 546.1L419.7 546.1Z" fill="#adc085"/><path d="M426.8 566.7L429.1 562.7L424.5 562.7Z" fill="#adc085"/><path d="M416.2 567.7L418.5 563.7L413.9 563.7Z" fill="#adc085"/><path d="M440.0 558.4L442.3 554.4L437.7 554.4Z" fill="#adc085"/><path d="M434.6 530.7L436.9 534.7L432.3 534.7Z" fill="#adc085"/><path d="M420.9 557.1L423.2 561.1L418.6 561.1Z" fill="#adc085"/><path d="M435.7 558.9L438.0 562.9L433.4 562.9Z" fill="#adc085"/><path d="M442.5 570.9L444.8 566.9L440.2 566.9Z" fill="#adc085"/><path d="M442.0 565.4L444.3 561.3L439.7 561.3Z" fill="#adc085"/><path d="M422.9 559.4L425.2 563.4L420.6 563.4Z" fill="#adc085"/><path d="M434.9 557.5L437.2 561.5L432.6 561.5Z" fill="#adc085"/><path d="M422.6 565.6L424.9 561.6L420.3 561.6Z" fill="#adc085"/><path d="M425.2 550.6L427.5 554.6L422.9 554.6Z" fill="#adc085"/><path d="M435.6 567.8L437.9 563.8L433.3 563.8Z" fill="#adc085"/><path d="M438.6 547.8L440.9 551.8L436.3 551.8Z" fill="#adc085"/><path d="M436.2 564.5L438.5 568.5L433.9 568.5Z" fill="#adc085"/><path d="M433.1 546.0L435.4 550.0L430.8 550.0Z" fill="#adc085"/><path d="M423.9 567.6L426.2 571.6L421.6 571.6Z" fill="#adc085"/><path d="M444.5 531.7L446.8 535.7L442.2 535.7Z" fill="#adc085"/><path d="M415.3 565.6L417.6 569.6L413.0 569.6Z" fill="#adc085"/><path d="M445.7 569.4L448.0 565.4L443.4 565.4Z" fill="#adc085"/><path d="M420.6 515.5L422.9 519.5L418.3 519.5Z" fill="#adc085"/><path d="M431.1 545.7L433.4 541.7L428.8 541.7Z" fill="#adc085"/><path d="M443.5 479.3L445.8 483.3L441.2 483.3Z" fill="#adc085"/><path d="M446.0 490.8L448.3 494.8L443.7 494.8Z" fill="#adc085"/><path d="M418.0 500.9L420.3 496.9L415.7 496.9Z" fill="#adc085"/><path d="M426.0 494.9L428.3 498.9L423.7 498.9Z" fill="#adc085"/><path d="M444.0 501.2L446.3 505.2L441.7 505.2Z" fill="#adc085"/><path d="M416.0 506.4L418.3 510.4L413.7 510.4Z" fill="#adc085"/><path d="M428.0 515.5L430.3 511.5L425.7 511.5Z" fill="#adc085"/><path d="M436.0 519.1L438.3 515.1L433.7 515.1Z" fill="#adc085"/>
<path d="M451.3 558.6L453.6 554.6L449.0 554.6Z" fill="#c6c0d0"/><path d="M457.8 572.3L460.1 568.3L455.5 568.3Z" fill="#c6c0d0"/><path d="M456.1 530.0L458.4 534.0L453.8 534.0Z" fill="#c6c0d0"/><path d="M455.9 572.7L458.2 568.7L453.6 568.7Z" fill="#c6c0d0"/><path d="M450.2 546.9L452.5 550.9L447.9 550.9Z" fill="#c6c0d0"/><path d="M458.3 570.2L460.6 566.2L456.0 566.2Z" fill="#c6c0d0"/><path d="M452.6 551.5L454.9 555.5L450.3 555.5Z" fill="#c6c0d0"/><path d="M456.3 537.7L458.6 541.7L454.0 541.7Z" fill="#c6c0d0"/><path d="M450.0 561.9L452.3 565.9L447.7 565.9Z" fill="#c6c0d0"/><path d="M459.9 559.3L462.2 563.3L457.6 563.3Z" fill="#c6c0d0"/><path d="M459.9 565.0L462.2 569.0L457.6 569.0Z" fill="#c6c0d0"/><path d="M460.5 534.8L462.8 530.8L458.2 530.8Z" fill="#c6c0d0"/><path d="M451.5 546.8L453.8 550.8L449.2 550.8Z" fill="#c6c0d0"/><path d="M453.8 548.1L456.1 552.1L451.5 552.1Z" fill="#c6c0d0"/><path d="M458.7 561.1L461.0 565.1L456.4 565.1Z" fill="#c6c0d0"/><path d="M460.7 565.9L463.0 561.9L458.4 561.9Z" fill="#c6c0d0"/><path d="M460.0 554.4L462.3 550.4L457.7 550.4Z" fill="#c6c0d0"/><path d="M450.5 548.6L452.8 544.6L448.2 544.6Z" fill="#c6c0d0"/><path d="M449.8 557.8L452.1 561.8L447.5 561.8Z" fill="#c6c0d0"/><path d="M459.2 530.5L461.5 526.5L456.9 526.5Z" fill="#c6c0d0"/><path d="M452.4 553.8L454.7 549.8L450.1 549.8Z" fill="#c6c0d0"/><path d="M454.8 547.3L457.1 543.3L452.5 543.3Z" fill="#c6c0d0"/><path d="M453.6 559.6L455.9 555.6L451.3 555.6Z" fill="#c6c0d0"/><path d="M460.3 548.7L462.6 544.7L458.0 544.7Z" fill="#c6c0d0"/><path d="M455.3 559.9L457.6 563.9L453.0 563.9Z" fill="#c6c0d0"/><path d="M450.3 541.9L452.6 545.9L448.0 545.9Z" fill="#c6c0d0"/><path d="M452.9 560.1L455.2 556.1L450.6 556.1Z" fill="#c6c0d0"/><path d="M451.5 561.6L453.8 565.6L449.2 565.6Z" fill="#c6c0d0"/><path d="M451.3 546.3L453.6 542.3L449.0 542.3Z" fill="#c6c0d0"/><path d="M455.4 546.6L457.7 550.6L453.1 550.6Z" fill="#c6c0d0"/><path d="M459.0 564.5L461.3 568.5L456.7 568.5Z" fill="#c6c0d0"/><path d="M454.6 526.6L456.9 530.6L452.3 530.6Z" fill="#c6c0d0"/><path d="M460.3 526.9L462.6 522.9L458.0 522.9Z" fill="#c6c0d0"/><path d="M458.0 552.1L460.3 556.1L455.7 556.1Z" fill="#c6c0d0"/><path d="M461.0 498.3L463.3 494.3L458.7 494.3Z" fill="#c6c0d0"/><path d="M455.0 498.6L457.3 502.6L452.7 502.6Z" fill="#c6c0d0"/><path d="M455.0 511.6L457.3 515.6L452.7 515.6Z" fill="#c6c0d0"/><path d="M461.0 510.5L463.3 514.5L458.7 514.5Z" fill="#c6c0d0"/><path d="M458.0 520.7L460.3 516.7L455.7 516.7Z" fill="#c6c0d0"/>
<path d="M468.7 560.0L471.0 564.0L466.4 564.0Z" fill="#5a2a68"/><path d="M465.6 562.7L467.9 566.7L463.3 566.7Z" fill="#5a2a68"/><path d="M465.5 554.0L467.8 558.0L463.2 558.0Z" fill="#5a2a68"/><path d="M466.5 572.8L468.8 568.8L464.2 568.8Z" fill="#5a2a68"/><path d="M470.8 572.4L473.1 568.4L468.5 568.4Z" fill="#5a2a68"/><path d="M469.1 555.0L471.4 551.0L466.8 551.0Z" fill="#5a2a68"/><path d="M466.6 549.6L468.9 545.6L464.3 545.6Z" fill="#5a2a68"/><path d="M464.9 554.6L467.2 550.6L462.6 550.6Z" fill="#5a2a68"/><path d="M463.5 561.2L465.8 565.2L461.2 565.2Z" fill="#5a2a68"/><path d="M467.2 545.2L469.5 541.2L464.9 541.2Z" fill="#5a2a68"/><path d="M469.9 550.6L472.2 554.6L467.6 554.6Z" fill="#5a2a68"/><path d="M469.7 551.7L472.0 555.7L467.4 555.7Z" fill="#5a2a68"/><path d="M468.0 570.4L470.3 566.4L465.7 566.4Z" fill="#5a2a68"/><path d="M469.2 564.3L471.5 560.3L466.9 560.3Z" fill="#5a2a68"/><path d="M468.5 553.6L470.8 557.6L466.2 557.6Z" fill="#5a2a68"/><path d="M464.6 568.5L466.9 564.5L462.3 564.5Z" fill="#5a2a68"/><path d="M463.3 569.5L465.6 565.5L461.0 565.5Z" fill="#5a2a68"/><path d="M464.6 565.2L466.9 561.2L462.3 561.2Z" fill="#5a2a68"/><path d="M467.1 538.9L469.4 542.9L464.8 542.9Z" fill="#5a2a68"/><path d="M464.5 563.8L466.8 559.8L462.2 559.8Z" fill="#5a2a68"/><path d="M465.2 549.0L467.5 553.0L462.9 553.0Z" fill="#5a2a68"/><path d="M471.3 556.5L473.6 552.5L469.0 552.5Z" fill="#5a2a68"/><path d="M469.6 554.7L471.9 550.7L467.3 550.7Z" fill="#5a2a68"/><path d="M468.3 562.1L470.6 566.1L466.0 566.1Z" fill="#5a2a68"/><path d="M470.1 558.6L472.4 562.6L467.8 562.6Z" fill="#5a2a68"/><path d="M466.2 519.2L468.5 523.2L463.9 523.2Z" fill="#5a2a68"/><path d="M466.7 558.3L469.0 562.3L464.4 562.3Z" fill="#5a2a68"/><path d="M463.7 569.9L466.0 565.9L461.4 565.9Z" fill="#5a2a68"/><path d="M469.0 501.7L471.3 505.7L466.7 505.7Z" fill="#5a2a68"/><path d="M466.0 524.3L468.3 520.3L463.7 520.3Z" fill="#5a2a68"/><path d="M470.0 526.9L472.3 522.9L467.7 522.9Z" fill="#5a2a68"/>
<path d="M477.4 564.3L479.7 568.3L475.1 568.3Z" fill="#4a5a72"/><path d="M490.0 532.5L492.3 528.5L487.7 528.5Z" fill="#4a5a72"/><path d="M486.7 551.5L489.0 547.5L484.4 547.5Z" fill="#4a5a72"/><path d="M489.2 518.1L491.5 514.1L486.9 514.1Z" fill="#4a5a72"/><path d="M484.8 567.5L487.1 563.5L482.5 563.5Z" fill="#4a5a72"/><path d="M490.3 555.5L492.6 551.5L488.0 551.5Z" fill="#4a5a72"/><path d="M487.1 567.4L489.4 571.4L484.8 571.4Z" fill="#4a5a72"/><path d="M489.0 544.8L491.3 548.8L486.7 548.8Z" fill="#4a5a72"/><path d="M484.0 572.8L486.3 568.8L481.7 568.8Z" fill="#4a5a72"/><path d="M486.1 533.5L488.4 529.5L483.8 529.5Z" fill="#4a5a72"/><path d="M481.3 539.6L483.6 543.6L479.0 543.6Z" fill="#4a5a72"/><path d="M486.2 543.1L488.5 547.1L483.9 547.1Z" fill="#4a5a72"/><path d="M487.1 569.7L489.4 565.7L484.8 565.7Z" fill="#4a5a72"/><path d="M475.0 551.4L477.3 555.4L472.7 555.4Z" fill="#4a5a72"/><path d="M487.7 557.0L490.0 561.0L485.4 561.0Z" fill="#4a5a72"/><path d="M474.4 562.4L476.7 558.4L472.1 558.4Z" fill="#4a5a72"/><path d="M475.1 554.1L477.4 558.1L472.8 558.1Z" fill="#4a5a72"/><path d="M477.6 552.3L479.9 556.3L475.3 556.3Z" fill="#4a5a72"/><path d="M483.7 544.7L486.0 540.7L481.4 540.7Z" fill="#4a5a72"/><path d="M478.2 537.8L480.5 533.8L475.9 533.8Z" fill="#4a5a72"/><path d="M486.3 559.4L488.6 555.4L484.0 555.4Z" fill="#4a5a72"/><path d="M490.5 545.6L492.8 549.6L488.2 549.6Z" fill="#4a5a72"/><path d="M484.4 529.7L486.7 533.7L482.1 533.7Z" fill="#4a5a72"/><path d="M484.8 571.9L487.1 567.9L482.5 567.9Z" fill="#4a5a72"/><path d="M482.8 543.1L485.1 547.1L480.5 547.1Z" fill="#4a5a72"/><path d="M475.8 541.4L478.1 545.4L473.5 545.4Z" fill="#4a5a72"/><path d="M490.4 563.0L492.7 567.0L488.1 567.0Z" fill="#4a5a72"/><path d="M490.2 556.8L492.5 552.8L487.9 552.8Z" fill="#4a5a72"/><path d="M474.3 557.9L476.6 553.9L472.0 553.9Z" fill="#4a5a72"/><path d="M475.2 518.4L477.5 514.4L472.9 514.4Z" fill="#4a5a72"/><path d="M489.7 543.9L492.0 547.9L487.4 547.9Z" fill="#4a5a72"/><path d="M487.0 568.2L489.3 564.2L484.7 564.2Z" fill="#4a5a72"/><path d="M483.4 524.8L485.7 528.8L481.1 528.8Z" fill="#4a5a72"/><path d="M481.2 567.7L483.5 571.7L478.9 571.7Z" fill="#4a5a72"/><path d="M486.7 522.4L489.0 518.4L484.4 518.4Z" fill="#4a5a72"/><path d="M477.6 556.7L479.9 560.7L475.3 560.7Z" fill="#4a5a72"/><path d="M479.8 560.6L482.1 564.6L477.5 564.6Z" fill="#4a5a72"/><path d="M484.0 557.8L486.3 561.8L481.7 561.8Z" fill="#4a5a72"/><path d="M489.6 532.1L491.9 536.1L487.3 536.1Z" fill="#4a5a72"/><path d="M474.1 570.1L476.4 566.1L471.8 566.1Z" fill="#4a5a72"/><path d="M482.9 556.6L485.2 560.6L480.6 560.6Z" fill="#4a5a72"/><path d="M485.7 564.9L488.0 568.9L483.4 568.9Z" fill="#4a5a72"/><path d="M476.8 558.3L479.1 562.3L474.5 562.3Z" fill="#4a5a72"/><path d="M489.2 548.7L491.5 552.7L486.9 552.7Z" fill="#4a5a72"/><path d="M481.6 560.0L483.9 564.0L479.3 564.0Z" fill="#4a5a72"/><path d="M483.1 524.8L485.4 528.8L480.8 528.8Z" fill="#4a5a72"/><path d="M481.8 469.7L484.1 465.7L479.5 465.7Z" fill="#4a5a72"/><path d="M478.0 471.0L480.3 475.0L475.7 475.0Z" fill="#4a5a72"/><path d="M476.0 496.0L478.3 500.0L473.7 500.0Z" fill="#4a5a72"/><path d="M485.5 498.0L487.8 502.1L483.2 502.1Z" fill="#4a5a72"/><path d="M488.5 518.3L490.8 522.3L486.2 522.3Z" fill="#4a5a72"/><path d="M483.0 526.9L485.3 522.9L480.7 522.9Z" fill="#4a5a72"/>
<path d="M60.0 314.7L62.3 318.7L57.7 318.7Z" fill="#1a2a5a"/>
<path d="M61.2 362.5L63.5 366.5L58.9 366.5Z" fill="#1a3a6a"/>
<path d="M177.0 382.5L179.3 386.5L174.7 386.5Z" fill="#5a1846"/>
<path d="M171.5 420.5L173.8 424.5L169.2 424.5Z" fill="#3a1030"/>
<path d="M238.0 439.1L240.3 443.1L235.7 443.1Z" fill="#c0102a"/>
<path d="M205.0 445.5L207.3 449.5L202.7 449.5Z" fill="#2ca02c"/>
<path d="M271.7 445.8L274.0 449.8L269.4 449.8Z" fill="#6a3a10"/>
<path d="M257.5 451.3L259.8 455.3L255.2 455.3Z" fill="#c0102a"/>
<path d="M317.0 399.5L319.3 403.5L314.7 403.5Z" fill="#0f5a40"/>
<path d="M316.3 466.2L318.6 462.2L314.0 462.2Z" fill="#0f5a40"/>
<path d="M331.7 458.1L334.0 462.1L329.4 462.1Z" fill="#0f5a40"/>
<path d="M329.8 464.5L332.1 468.5L327.5 468.5Z" fill="#0f5a40"/>
<path d="M318.5 468.3L320.8 472.3L316.2 472.3Z" fill="#0f5a40"/>
<path d="M382.5 477.3L384.8 473.3L380.2 473.3Z" fill="#f5c010"/>
<path d="M405.1 472.0L407.4 476.0L402.8 476.0Z" fill="#d0145a"/>
<path d="M389.7 467.5L392.0 471.5L387.4 471.5Z" fill="#5a2a7a"/>
<path d="M389.9 473.7L392.2 469.7L387.6 469.7Z" fill="#5a2a7a"/>
<line x1="33.50" y1="341.50" x2="513.30" y2="341.50" stroke="#c4365a" stroke-width="1.0" stroke-dasharray="2.6 1.8699999999999997"/>
<line x1="33.50" y1="503.30" x2="513.30" y2="503.30" stroke="#2a4a7a" stroke-width="1.0" stroke-dasharray="2.6 1.8699999999999997"/>
<path d="M31.5 302.5 V583.75 H513.3" fill="none" stroke="#1e1e1e" stroke-width="1.25"/>
<line x1="28.2" y1="571.25" x2="31.5" y2="571.25" stroke="#222" stroke-width="1"/>
<text x="25.30" y="574.25" font-size="8.6" fill="#2b2b2b" stroke="#2b2b2b" text-anchor="end">0</text>
<line x1="28.2" y1="519.25" x2="31.5" y2="519.25" stroke="#222" stroke-width="1"/>
<text x="25.30" y="522.25" font-size="8.6" fill="#2b2b2b" stroke="#2b2b2b" text-anchor="end">1</text>
<line x1="28.2" y1="467.25" x2="31.5" y2="467.25" stroke="#222" stroke-width="1"/>
<text x="25.30" y="470.25" font-size="8.6" fill="#2b2b2b" stroke="#2b2b2b" text-anchor="end">2</text>
<line x1="28.2" y1="415.25" x2="31.5" y2="415.25" stroke="#222" stroke-width="1"/>
<text x="25.30" y="418.25" font-size="8.6" fill="#2b2b2b" stroke="#2b2b2b" text-anchor="end">3</text>
<line x1="28.2" y1="363.25" x2="31.5" y2="363.25" stroke="#222" stroke-width="1"/>
<text x="25.30" y="366.25" font-size="8.6" fill="#2b2b2b" stroke="#2b2b2b" text-anchor="end">4</text>
<line x1="28.2" y1="311.25" x2="31.5" y2="311.25" stroke="#222" stroke-width="1"/>
<text x="25.30" y="314.25" font-size="8.6" fill="#2b2b2b" stroke="#2b2b2b" text-anchor="end">5</text>
<text transform="translate(14.2 443.7) rotate(-90)" font-size="8.2" fill="#2b2b2b" stroke="#2b2b2b" text-anchor="middle">-log<tspan font-size="5.2" dy="2">10</tspan><tspan dy="-2">(</tspan><tspan font-style="italic">P</tspan>)</text>
<text x="272.30" y="298.10" font-size="10" fill="#2b2b2b" stroke="#2b2b2b" text-anchor="middle" textLength="45.00" lengthAdjust="spacingAndGlyphs">rs4266947</text>
<line x1="60.00" y1="583.75" x2="60.00" y2="586.6" stroke="#222" stroke-width="1"/>
<text transform="translate(63.00 594.50) rotate(-45)" font-size="8.0" fill="#2b2b2b" stroke="#2b2b2b" text-anchor="end">Infectious diseases</text>
<line x1="88.00" y1="583.75" x2="88.00" y2="586.6" stroke="#222" stroke-width="1"/>
<text transform="translate(91.00 594.50) rotate(-45)" font-size="8.0" fill="#2b2b2b" stroke="#2b2b2b" text-anchor="end">Neoplasms</text>
<line x1="124.25" y1="583.75" x2="124.25" y2="586.6" stroke="#222" stroke-width="1"/>
<text transform="translate(127.25 594.50) rotate(-45)" font-size="8.0" fill="#2b2b2b" stroke="#2b2b2b" text-anchor="end">Endocrine/metabolic</text>
<line x1="145.75" y1="583.75" x2="145.75" y2="586.6" stroke="#222" stroke-width="1"/>
<text transform="translate(148.75 594.50) rotate(-45)" font-size="8.0" fill="#2b2b2b" stroke="#2b2b2b" text-anchor="end">Hematopoietic</text>
<line x1="160.75" y1="583.75" x2="160.75" y2="586.6" stroke="#222" stroke-width="1"/>
<text transform="translate(163.75 594.50) rotate(-45)" font-size="8.0" fill="#2b2b2b" stroke="#2b2b2b" text-anchor="end">Mental disorders</text>
<line x1="179.50" y1="583.75" x2="179.50" y2="586.6" stroke="#222" stroke-width="1"/>
<text transform="translate(182.50 594.50) rotate(-45)" font-size="8.0" fill="#2b2b2b" stroke="#2b2b2b" text-anchor="end">Neurological</text>
<line x1="206.25" y1="583.75" x2="206.25" y2="586.6" stroke="#222" stroke-width="1"/>
<text transform="translate(209.25 594.50) rotate(-45)" font-size="8.0" fill="#2b2b2b" stroke="#2b2b2b" text-anchor="end">Sense organs</text>
<line x1="243.75" y1="583.75" x2="243.75" y2="586.6" stroke="#222" stroke-width="1"/>
<text transform="translate(246.75 594.50) rotate(-45)" font-size="8.0" fill="#2b2b2b" stroke="#2b2b2b" text-anchor="end">Circulatory system</text>
<line x1="276.25" y1="583.75" x2="276.25" y2="586.6" stroke="#222" stroke-width="1"/>
<text transform="translate(279.25 594.50) rotate(-45)" font-size="8.0" fill="#2b2b2b" stroke="#2b2b2b" text-anchor="end">Respiratory</text>
<line x1="310.50" y1="583.75" x2="310.50" y2="586.6" stroke="#222" stroke-width="1"/>
<text transform="translate(313.50 594.50) rotate(-45)" font-size="8.0" fill="#2b2b2b" stroke="#2b2b2b" text-anchor="end">Digestive</text>
<line x1="357.50" y1="583.75" x2="357.50" y2="586.6" stroke="#222" stroke-width="1"/>
<text transform="translate(360.50 594.50) rotate(-45)" font-size="8.0" fill="#2b2b2b" stroke="#2b2b2b" text-anchor="end">Genitourinary</text>
<line x1="385.40" y1="583.75" x2="385.40" y2="586.6" stroke="#222" stroke-width="1"/>
<text transform="translate(388.40 594.50) rotate(-45)" font-size="8.0" fill="#2b2b2b" stroke="#2b2b2b" text-anchor="end">Pregnancy complications</text>
<line x1="401.50" y1="583.75" x2="401.50" y2="586.6" stroke="#222" stroke-width="1"/>
<text transform="translate(404.50 594.50) rotate(-45)" font-size="8.0" fill="#2b2b2b" stroke="#2b2b2b" text-anchor="end">Dermatologic</text>
<line x1="431.20" y1="583.75" x2="431.20" y2="586.6" stroke="#222" stroke-width="1"/>
<text transform="translate(434.20 594.50) rotate(-45)" font-size="8.0" fill="#2b2b2b" stroke="#2b2b2b" text-anchor="end">Musculoskeletal</text>
<line x1="457.50" y1="583.75" x2="457.50" y2="586.6" stroke="#222" stroke-width="1"/>
<text transform="translate(460.50 594.50) rotate(-45)" font-size="8.0" fill="#2b2b2b" stroke="#2b2b2b" text-anchor="end">Congenital anomalies</text>
<line x1="468.30" y1="583.75" x2="468.30" y2="586.6" stroke="#222" stroke-width="1"/>
<text transform="translate(471.30 594.50) rotate(-45)" font-size="8.0" fill="#2b2b2b" stroke="#2b2b2b" text-anchor="end">Symptoms</text>
<line x1="481.80" y1="583.75" x2="481.80" y2="586.6" stroke="#222" stroke-width="1"/>
<text transform="translate(484.80 594.50) rotate(-45)" font-size="8.0" fill="#2b2b2b" stroke="#2b2b2b" text-anchor="end">Injuries &amp; poisonings</text>
<text x="272.30" y="670.70" font-size="9.6" fill="#2b2b2b" stroke="#2b2b2b" text-anchor="middle" textLength="39.50" lengthAdjust="spacingAndGlyphs">Phenotypes</text>
<text x="63.80" y="320.80" font-size="8.2" fill="#c8143c" stroke="#c8143c" textLength="49.20" lengthAdjust="spacingAndGlyphs">Viral infection</text>
<text x="43.40" y="362.80" font-size="8.2" fill="#2a5287" stroke="#2a5287" textLength="48.90" lengthAdjust="spacingAndGlyphs">Viremia, NOS</text>
<text x="152.00" y="394.20" font-size="8.2" fill="#2a5287" stroke="#2a5287" textLength="31.70" lengthAdjust="spacingAndGlyphs">Migraine</text>
<text x="165.50" y="420.50" font-size="8.2" fill="#2a5287" stroke="#2a5287" textLength="32.00" lengthAdjust="spacingAndGlyphs">Insomnia</text>
<text x="279.40" y="399.50" font-size="8.2" fill="#2a5287" stroke="#2a5287" textLength="95.40" lengthAdjust="spacingAndGlyphs">Anal and rectal conditions</text>
<text x="190.00" y="438.90" font-size="8.2" fill="#2a5287" stroke="#2a5287" textLength="77.00" lengthAdjust="spacingAndGlyphs">Cardiac dysrhythmias</text>
<text x="283.70" y="447.30" font-size="8.2" fill="#2a5287" stroke="#2a5287" textLength="93.30" lengthAdjust="spacingAndGlyphs">Pseudomonal pneumonia</text>
<text x="94.90" y="452.10" font-size="8.2" fill="#2a5287" stroke="#2a5287" textLength="107.50" lengthAdjust="spacingAndGlyphs">Uveitis, noninfectious or NOS</text>
<text x="281.50" y="458.00" font-size="8.2" fill="#2a5287" stroke="#2a5287" textLength="118.50" lengthAdjust="spacingAndGlyphs">Hemorrhage of rectum and anus</text>
<text x="178.00" y="462.50" font-size="8.2" fill="#2a5287" stroke="#2a5287" textLength="71.50" lengthAdjust="spacingAndGlyphs">Polyarteritis nodosa</text>
<text x="257.80" y="473.70" font-size="8.2" fill="#2a5287" stroke="#2a5287" textLength="136.00" lengthAdjust="spacingAndGlyphs">Symptoms involving digestive system</text>
<rect x="128" y="33.3" width="16" height="2.4" fill="#f0c020"/>
<rect x="128" y="48.2" width="15.3" height="2.4" fill="#2e9bd6"/>
<circle cx="145.5" cy="34.5" r="1.3" fill="#1a4a8a"/>
<circle cx="147.5" cy="34.5" r="1.3" fill="#2e9bd6"/>
<circle cx="149.5" cy="34.5" r="1.3" fill="#0b2a55"/>
<circle cx="152" cy="34.5" r="1.5" fill="#c0102a"/>
<circle cx="145.3" cy="38.3" r="2.3" fill="#c0102a"/>
<circle cx="147.8" cy="39.6" r="1.8" fill="#c0102a"/>
<circle cx="151.5" cy="41.5" r="1.7" fill="#a01030"/>
<circle cx="149.5" cy="37.5" r="1.0" fill="#c0102a"/>
<circle cx="147" cy="43.8" r="1.9" fill="#2e9bd6"/>
<circle cx="150.6" cy="45.2" r="1.8" fill="#1a4a8a"/>
<circle cx="144.8" cy="45" r="1.5" fill="#0b2a55"/>
<circle cx="151.3" cy="48" r="1.8" fill="#2e9bd6"/>
<circle cx="146.5" cy="47.3" r="1.5" fill="#c0102a"/>
<circle cx="144.5" cy="50" r="1.6" fill="#0b2a55"/>
<circle cx="148.8" cy="50.3" r="1.7" fill="#0b2a55"/>
<circle cx="146" cy="52.6" r="1.7" fill="#f0c020"/>
<circle cx="150.2" cy="52.0" r="1.7" fill="#f0c020"/>
<circle cx="143" cy="53.2" r="1.4" fill="#f0c020"/>
<circle cx="145" cy="54.8" r="1.4" fill="#2ca02c"/>
<circle cx="151" cy="55.2" r="1.7" fill="#8a1030"/>
<circle cx="148" cy="56" r="1.7" fill="#8a1030"/>
<circle cx="144.5" cy="57.2" r="1.6" fill="#0b2a55"/>
<circle cx="150.5" cy="58.2" r="1.6" fill="#2e9bd6"/>
<circle cx="147" cy="59" r="1.6" fill="#1a4a8a"/>
<circle cx="146" cy="60.6" r="1.4" fill="#0d6a3a"/>
<circle cx="152" cy="60.2" r="1.3" fill="#0b2a55"/>
<circle cx="144" cy="59.8" r="1.2" fill="#2e9bd6"/>
<text x="123.80" y="31.50" font-size="8.2" fill="#8a8ab8" stroke="#8a8ab8" textLength="42.40" lengthAdjust="spacingAndGlyphs">rs74355478</text>
<line x1="404.5" y1="32.7" x2="409.6" y2="32.7" stroke="#14407a" stroke-width="1.8"/>
<line x1="402" y1="32.2" x2="400.6" y2="39.5" stroke="#d0157a" stroke-width="1.3"/>
<line x1="400.2" y1="40.8" x2="409.9" y2="40.8" stroke="#2ca02c" stroke-width="2"/>
<line x1="388" y1="48.7" x2="400.8" y2="48.7" stroke="#d0157a" stroke-width="2.3"/>
<line x1="400.8" y1="48.5" x2="404" y2="46.5" stroke="#d0157a" stroke-width="1.8"/>
<line x1="404" y1="47" x2="409.5" y2="47.2" stroke="#c0142e" stroke-width="1.8"/>
<line x1="408.2" y1="53" x2="408.2" y2="65" stroke="#333" stroke-width="0.6"/>
<circle cx="400.8" cy="43.2" r="1.2" fill="#14407a"/>
<circle cx="403.5" cy="44.5" r="1.2" fill="#1a1a1a"/>
<circle cx="408.5" cy="44.8" r="1.2" fill="#1a1a1a"/>
<circle cx="405.5" cy="45.5" r="1.0" fill="#c0142e"/>
<circle cx="401.2" cy="50.5" r="0.9" fill="#2ca02c"/>
<circle cx="401.2" cy="53.5" r="0.9" fill="#2ca02c"/>
<circle cx="401.2" cy="56.0" r="0.9" fill="#2ca02c"/>
<circle cx="408.2" cy="53.2" r="1.2" fill="#14407a"/>
<circle cx="401.5" cy="57.5" r="1.1" fill="#1a1a1a"/>
<circle cx="405.5" cy="58.3" r="1.1" fill="#3a2a10"/>
<circle cx="407.5" cy="58.5" r="1.1" fill="#1a1a1a"/>
<circle cx="402" cy="66" r="1.1" fill="#bfbfc7"/>
<circle cx="402" cy="70" r="1.1" fill="#bfbfc7"/>
<circle cx="401" cy="74" r="1.1" fill="#bfbfc7"/>
<circle cx="388.5" cy="78.6" r="1.1" fill="#bfbfc7"/>
<circle cx="400" cy="78.6" r="1.1" fill="#bfbfc7"/>
<text x="390.80" y="31.60" font-size="8.2" fill="#8a8ab8" stroke="#8a8ab8" textLength="41.50" lengthAdjust="spacingAndGlyphs">rs74355478</text>
<text x="363.80" y="40.70" font-size="8.2" fill="#7a4a1a" stroke="#7a4a1a" textLength="37.40" lengthAdjust="spacingAndGlyphs">rs4266947</text>
<text x="388.90" y="70.40" font-size="8.2" fill="#1f4e7a" stroke="#1f4e7a" textLength="37.30" lengthAdjust="spacingAndGlyphs">rs4266947</text>
<rect x="1.5" y="1.5" width="517" height="677" fill="none" stroke="#d0d0d0" stroke-width="1"/>
<rect x="0.5" y="0.5" width="519" height="679" fill="none" stroke="#3a3a3a" stroke-width="1"/></svg>
</body></html>
